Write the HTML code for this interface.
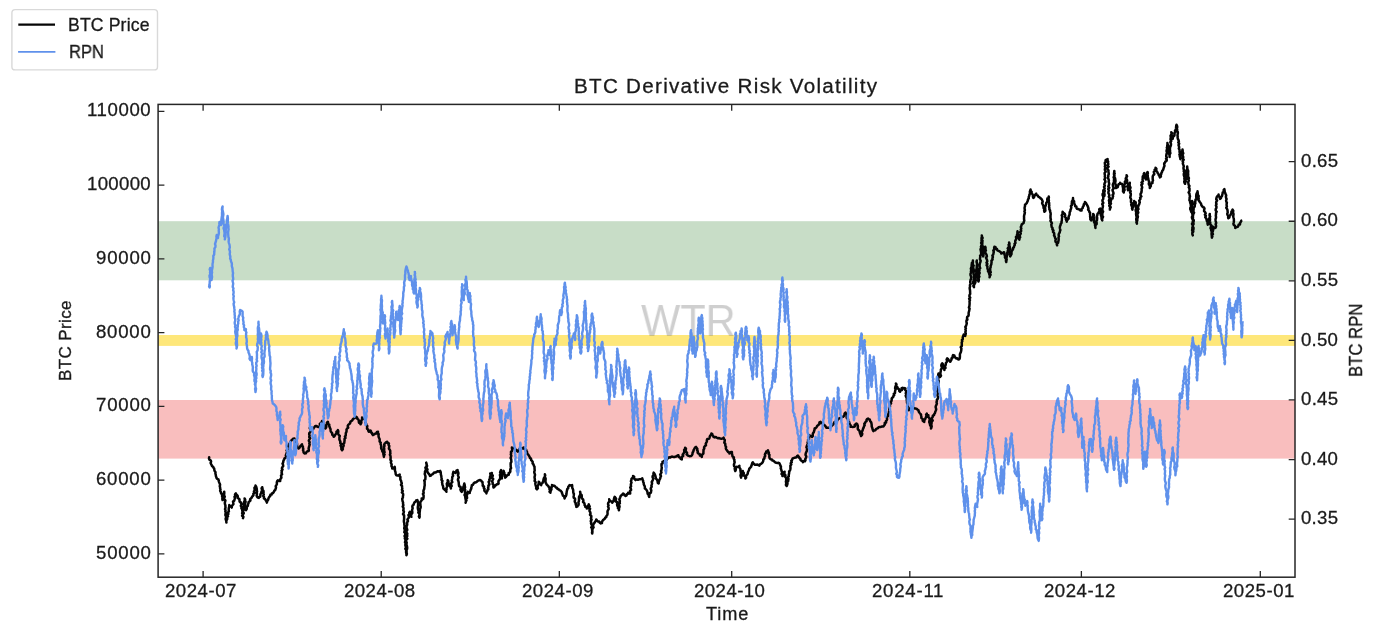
<!DOCTYPE html>
<html lang="en"><head><meta charset="utf-8"><title>BTC Derivative Risk Volatility</title>
<style>html,body{margin:0;padding:0;background:#fff;}body{width:1378px;height:628px;position:relative;overflow:hidden;font-family:"Liberation Sans",sans-serif;}
.t{position:absolute;white-space:nowrap;font-family:"Liberation Sans",sans-serif;will-change:transform;-webkit-text-stroke:0.3px currentColor;}
svg{position:absolute;left:0;top:0;}
</style></head><body>
<svg width="1378" height="628" viewBox="0 0 1378 628">
<rect x="158.1" y="221.2" width="1136.9" height="59.1" fill="#c8ddc7"/>
<rect x="158.1" y="335.0" width="1136.9" height="10.9" fill="#fee77a"/>
<rect x="158.1" y="400.0" width="1136.9" height="58.6" fill="#f9bebe"/>
</svg>
<div class="t" style="left:641.00px;top:294.29px;font-size:45.06px;line-height:54px;letter-spacing:0.000px;color:rgba(128,128,128,0.38);transform:scaleX(0.9230);transform-origin:0.00px 0;-webkit-text-stroke:0;">WTR</div>
<svg width="1378" height="628" viewBox="0 0 1378 628">
<polyline points="208.6,457.5 209.2,457.2 209.0,458.5 209.4,459.7 210.8,460.5 211.1,461.6 210.6,463.0 211.1,464.1 211.7,465.2 212.1,466.2 213.2,466.8 213.5,467.8 214.2,468.6 214.3,469.9 214.7,471.1 215.5,472.3 215.4,473.6 215.8,474.8 215.9,476.1 216.3,477.1 216.6,478.1 217.3,478.9 218.4,479.3 218.6,480.4 218.9,481.6 219.3,482.7 219.8,483.7 220.1,484.9 219.7,486.1 220.1,487.2 220.1,488.4 220.5,489.5 220.1,490.8 220.8,491.9 221.0,493.1 221.7,494.2 222.2,495.3 222.1,496.5 222.6,497.7 222.3,498.9 222.6,500.1 223.5,499.0 223.3,497.7 222.9,496.4 224.0,495.4 224.1,494.2 224.3,493.0 224.2,491.7 223.8,493.0 224.1,494.2 224.2,495.5 224.8,496.7 224.1,498.0 224.3,499.3 225.4,500.4 225.1,501.7 224.8,502.9 225.0,504.2 225.4,505.4 225.4,506.6 225.5,507.8 225.0,509.1 225.6,510.3 225.3,511.6 226.0,512.8 225.4,514.0 225.4,515.3 226.1,516.4 226.0,517.7 225.6,518.9 226.0,520.2 226.3,521.4 226.4,522.6 226.3,521.3 226.6,520.1 227.3,518.9 226.8,517.5 228.0,516.4 227.3,515.1 228.4,513.9 227.8,512.6 228.9,511.4 228.7,510.1 228.7,508.9 228.9,507.6 229.3,506.4 229.3,505.1 230.1,506.0 231.1,506.6 231.8,507.6 231.8,506.3 232.5,505.2 233.4,504.2 233.3,502.9 233.0,501.5 234.3,500.6 234.5,499.4 235.0,498.3 234.5,496.8 235.5,495.9 235.0,494.4 235.9,493.4 236.2,494.5 237.2,495.3 237.8,496.2 237.5,497.6 238.5,498.4 239.5,499.2 239.5,500.4 239.6,501.6 240.8,502.3 241.0,503.4 241.5,504.6 240.8,505.9 241.6,507.1 241.4,508.3 242.4,509.4 242.2,510.7 242.6,511.9 242.1,513.2 243.0,514.4 242.1,515.7 243.4,516.8 243.0,518.1 243.4,516.9 242.6,515.6 243.0,514.4 243.8,513.2 243.1,511.9 243.2,510.7 243.9,509.5 243.7,508.2 243.3,507.0 244.6,505.8 243.6,504.5 243.6,503.3 244.1,502.1 244.5,500.9 244.8,499.7 244.6,498.4 245.2,499.5 245.1,500.7 245.6,501.8 245.2,503.1 245.0,504.3 245.1,505.5 245.1,506.7 245.4,507.8 245.4,509.0 246.0,510.1 246.7,509.1 246.8,507.9 246.9,506.6 247.9,505.7 247.9,504.4 248.5,503.4 248.5,502.2 249.4,501.4 250.4,500.6 250.1,499.2 251.0,498.4 251.7,497.6 252.1,496.7 252.9,495.9 253.5,495.1 253.3,493.8 254.6,492.8 253.9,491.5 254.6,490.4 254.6,489.1 254.4,487.8 255.3,486.8 255.5,485.6 256.2,486.7 256.5,487.9 256.8,489.1 256.8,490.3 257.1,491.5 256.6,492.8 257.0,494.0 256.6,495.3 256.9,496.5 257.7,497.6 258.8,497.9 259.2,496.7 260.2,496.7 260.4,495.5 260.4,494.3 261.1,493.2 261.4,492.0 261.8,490.8 262.0,489.6 261.6,488.3 262.2,487.2 262.5,488.4 262.5,489.7 263.4,490.8 263.6,492.1 263.3,493.4 263.8,494.6 263.2,496.0 264.0,497.1 263.9,498.4 265.1,499.1 265.7,500.3 266.4,501.3 266.9,502.6 267.1,501.3 267.9,500.3 268.4,499.0 268.7,497.8 269.4,496.7 270.2,496.0 270.4,494.8 271.7,494.5 271.9,493.4 273.2,493.0 273.8,491.9 274.3,490.8 275.2,490.0 275.6,488.8 276.0,487.6 275.7,486.2 276.4,485.1 276.9,483.9 276.8,482.5 277.1,481.3 277.9,480.2 278.9,481.0 280.2,481.0 280.2,479.8 280.6,478.7 281.4,477.7 281.2,476.5 281.0,475.3 282.1,474.3 281.5,473.0 281.9,471.9 281.5,470.6 282.5,469.6 281.9,468.3 282.3,467.2 283.2,466.1 283.1,464.9 282.5,463.6 283.2,462.5 283.3,461.4 283.6,460.2 284.2,459.4 284.5,458.3 285.6,457.8 286.1,456.9 285.8,455.5 286.2,454.3 286.6,453.1 287.5,451.9 286.6,450.5 287.7,449.4 287.2,448.0 287.8,446.8 288.4,445.8 288.7,444.7 289.3,443.8 290.1,442.9 290.3,441.8 291.0,441.0 291.6,440.1 292.5,439.4 293.2,438.7 294.4,438.5 294.4,439.8 295.1,440.8 295.1,442.1 295.9,443.1 297.1,443.9 297.0,445.2 297.3,446.4 297.7,447.6 298.6,448.5 299.5,447.8 300.0,446.8 300.5,445.9 301.3,445.1 302.0,444.3 301.9,445.6 302.9,446.5 302.9,447.8 303.3,448.9 303.0,450.2 303.5,451.3 303.6,452.5 304.5,453.5 305.8,453.3 306.5,452.0 307.5,451.3 308.7,451.0 308.8,449.7 308.6,448.4 308.9,447.2 309.3,445.9 309.7,444.7 309.3,443.4 309.7,442.1 308.8,440.8 309.3,439.5 310.2,438.3 309.2,437.0 309.6,435.7 309.2,434.4 309.3,433.1 310.5,431.9 310.7,430.7 310.3,429.4 309.7,428.0 310.3,426.8 311.1,427.8 311.7,428.8 312.0,430.1 312.8,429.4 313.5,428.6 313.9,427.6 314.7,426.8 315.3,426.0 316.5,425.9 317.4,426.7 318.5,427.0 319.6,426.3 320.0,425.2 319.8,423.7 320.9,423.0 321.7,422.1 322.0,421.0 322.8,421.9 322.5,423.4 323.5,424.2 323.7,425.4 324.5,426.3 324.3,427.7 325.4,428.5 326.2,427.5 326.3,426.3 326.2,425.0 327.0,424.0 326.9,422.7 327.9,421.8 328.1,422.8 328.1,424.0 329.3,424.7 329.2,425.8 329.5,426.8 330.0,427.9 330.5,429.0 330.6,430.2 330.8,431.5 331.6,432.5 332.3,433.5 332.2,434.8 333.4,435.6 333.7,436.8 334.6,436.0 335.1,435.0 335.8,434.1 336.5,433.2 336.4,431.8 337.4,431.1 337.9,430.1 338.3,431.2 338.2,432.5 338.0,433.7 338.7,434.8 339.8,435.8 339.4,437.1 339.4,438.3 339.4,439.6 340.0,440.7 340.4,441.8 340.2,443.1 341.5,444.1 340.6,445.5 341.1,446.7 341.5,447.8 341.3,449.1 342.1,450.2 342.9,449.1 342.2,447.6 343.4,446.5 343.7,445.3 343.3,443.9 344.3,442.8 344.4,441.5 344.6,440.2 344.5,438.9 345.5,437.9 344.9,436.6 345.7,435.6 345.8,434.3 345.8,433.1 346.4,432.0 346.6,430.8 346.5,429.6 347.1,428.5 348.2,427.7 347.7,426.0 348.2,424.9 349.3,424.0 350.2,423.1 350.4,421.8 351.4,421.1 352.3,420.3 352.9,419.2 353.8,418.4 354.8,418.1 355.4,417.2 356.3,416.8 357.1,417.7 357.3,418.8 358.3,419.5 358.8,420.6 358.8,421.8 359.1,422.8 360.3,423.2 360.5,424.3 361.1,423.3 361.4,422.2 361.2,420.9 361.8,419.9 362.2,418.8 362.1,417.6 362.8,418.5 364.0,418.5 364.8,419.4 365.2,420.6 365.3,421.7 365.6,422.9 366.2,423.9 366.3,425.1 367.3,426.0 367.1,427.4 367.0,428.7 368.1,429.5 368.3,430.7 368.8,431.8 369.6,431.0 370.5,430.5 371.1,431.4 371.1,432.6 372.2,433.1 372.3,434.3 373.0,435.1 373.8,434.5 374.7,434.1 375.5,433.5 376.6,433.4 376.9,431.9 378.0,431.8 377.8,433.1 378.7,434.1 378.5,435.4 378.6,436.7 379.0,437.8 379.6,439.0 379.7,440.2 379.6,441.6 380.8,442.6 380.5,444.0 381.1,445.2 381.2,446.5 381.1,447.8 381.5,449.0 382.2,450.2 382.3,451.4 383.0,452.4 383.4,453.5 383.4,454.7 384.0,455.7 383.9,456.9 383.7,455.7 384.6,454.5 383.6,453.2 384.6,452.1 384.1,450.8 384.2,449.6 384.2,448.4 383.9,447.1 384.5,445.9 384.2,444.7 384.7,443.5 385.5,442.9 386.2,442.1 387.2,441.8 387.7,443.0 388.9,443.5 388.5,444.8 389.3,446.0 389.1,447.3 388.9,448.6 389.8,449.7 390.3,450.9 390.2,452.2 390.4,453.5 389.9,454.8 390.5,456.0 390.6,457.2 390.6,458.5 390.4,459.8 391.3,461.0 390.8,462.4 391.2,463.6 391.7,464.8 391.4,466.1 392.2,467.3 392.2,468.6 393.3,468.4 394.2,467.9 394.7,466.9 394.9,468.1 394.9,469.3 394.9,470.6 395.4,471.8 395.6,473.0 395.7,474.2 396.4,475.3 397.6,475.6 398.7,475.1 399.7,474.5 399.3,475.9 400.4,477.0 400.3,478.3 400.4,479.6 401.1,480.8 401.3,482.1 401.8,483.3 401.0,484.8 402.0,485.9 402.1,487.2 402.3,488.5 401.9,489.8 402.8,491.0 401.9,492.4 403.0,493.6 403.2,494.9 402.9,496.2 402.9,497.5 402.2,498.8 402.4,500.1 402.6,501.3 403.1,502.6 403.0,503.9 403.4,505.1 402.7,506.5 403.4,507.7 403.6,509.0 403.2,510.3 403.9,511.5 403.7,512.8 403.0,514.1 404.1,515.4 404.1,516.7 404.1,517.9 404.1,519.2 403.9,520.5 403.9,521.8 404.3,523.1 404.3,524.4 404.5,525.6 404.6,526.9 404.2,528.2 404.7,529.5 404.7,530.8 404.3,532.1 405.3,533.3 405.3,534.6 404.5,536.0 405.1,537.2 404.8,538.5 405.7,539.7 405.3,541.1 405.0,542.4 405.7,543.6 405.3,544.9 405.6,546.2 406.0,547.5 405.3,548.8 406.2,550.1 406.1,551.3 406.1,552.6 406.5,553.9 406.4,555.2 406.9,553.9 406.6,552.7 406.6,551.4 406.5,550.1 407.1,548.9 407.2,547.6 407.0,546.3 406.5,545.0 406.5,543.8 406.7,542.5 406.1,541.2 406.2,539.9 407.4,538.7 406.3,537.4 407.3,536.1 407.0,534.9 407.3,533.6 406.3,532.3 406.6,531.0 407.3,529.8 406.9,528.5 406.4,527.2 406.7,525.9 407.2,524.7 407.1,523.4 407.2,522.2 408.0,521.0 407.4,519.7 408.1,518.5 409.0,517.5 408.9,516.3 408.4,515.0 409.7,514.2 409.2,512.8 409.8,511.8 410.1,512.8 410.4,513.8 411.2,514.7 411.1,515.8 411.4,516.8 410.9,515.5 411.2,514.3 412.3,513.1 412.3,511.8 412.0,510.6 412.3,509.3 412.7,508.1 412.3,506.8 412.6,505.5 413.6,504.8 413.9,503.5 414.5,502.4 415.6,501.7 416.1,500.5 417.3,500.1 417.8,501.3 418.2,502.5 418.1,503.8 418.1,505.1 417.9,506.4 417.8,507.7 417.9,508.9 418.3,510.1 418.7,511.4 418.3,512.7 419.5,513.8 419.7,515.0 418.9,516.4 419.5,517.6 419.7,516.4 419.3,515.1 419.6,513.9 419.6,512.7 419.8,511.5 419.9,510.3 420.0,509.0 420.6,507.8 420.7,506.6 420.4,505.4 420.4,504.1 420.2,502.9 420.6,501.7 421.3,500.7 421.9,499.8 421.7,498.5 422.5,498.4 423.1,499.0 423.5,497.8 423.6,496.6 423.6,495.3 422.9,494.0 423.7,492.9 423.4,491.6 423.5,490.4 424.1,489.2 424.3,488.0 424.4,486.7 424.7,485.5 424.7,484.3 424.6,483.0 424.7,481.8 424.2,480.5 425.3,479.3 425.4,478.0 425.5,476.7 425.3,475.4 424.7,474.1 425.0,472.8 425.0,471.5 425.8,470.3 425.8,469.0 425.4,467.7 426.5,466.5 426.6,465.2 426.6,463.9 426.2,462.6 426.4,463.7 426.8,464.9 427.1,466.0 426.4,467.3 426.8,468.4 427.5,469.5 426.8,470.7 427.5,471.8 428.0,472.9 428.8,473.8 429.5,474.8 430.0,475.9 431.0,475.5 431.7,474.6 432.7,474.2 433.4,473.4 434.3,472.4 435.7,472.6 436.7,471.8 437.8,471.2 439.1,471.7 440.1,470.9 440.7,472.1 440.8,473.4 440.9,474.7 441.3,475.9 441.4,477.2 441.7,478.4 441.4,479.8 442.5,480.9 442.0,482.2 442.3,483.5 442.4,484.8 443.0,486.0 443.2,487.2 443.4,488.5 444.3,489.2 444.9,490.1 445.9,490.8 446.4,491.8 446.1,490.6 446.6,489.5 446.4,488.2 446.8,487.1 447.1,486.0 446.9,484.8 446.8,483.6 447.5,482.5 447.9,481.3 447.6,480.1 448.4,481.2 448.4,482.6 448.8,483.8 449.0,485.1 449.7,486.2 450.7,487.2 450.9,488.5 450.7,487.2 451.7,486.0 451.2,484.6 451.0,483.3 452.3,482.1 451.7,480.7 452.0,479.5 452.2,478.2 452.3,476.9 453.1,475.7 452.8,474.3 453.1,473.1 453.4,471.8 454.5,472.3 455.5,473.0 456.6,472.3 456.4,470.7 457.6,470.1 457.6,471.3 458.3,472.5 458.4,473.7 457.9,475.0 458.3,476.2 458.8,477.4 458.2,478.6 457.9,479.9 458.4,481.1 458.7,482.3 458.8,483.5 458.9,484.8 459.1,486.1 460.5,486.9 460.8,488.2 460.4,489.6 460.9,490.8 461.8,491.8 461.8,490.5 462.8,489.5 463.3,488.4 463.3,487.1 463.8,485.9 464.0,484.7 464.3,483.5 464.7,484.8 464.8,486.0 465.1,487.3 464.4,488.6 465.2,489.9 464.7,491.2 465.0,492.5 465.1,493.7 464.5,495.1 465.3,496.3 465.3,497.6 465.5,498.8 465.8,500.1 465.9,501.4 465.6,502.7 465.9,501.5 466.5,500.4 465.7,499.0 467.1,498.0 466.9,496.7 466.4,495.3 467.4,494.3 467.3,493.0 467.6,491.8 468.7,492.4 469.8,493.0 469.6,491.7 470.4,490.7 470.7,489.6 471.3,488.6 471.3,487.4 471.8,486.3 471.8,485.1 473.0,484.7 473.6,483.5 474.5,482.6 475.8,482.4 476.8,481.8 477.7,480.8 478.9,480.3 480.2,480.1 481.1,480.6 481.7,481.4 482.5,482.0 482.6,483.2 482.8,484.4 482.7,485.6 484.0,486.5 483.7,487.8 484.6,488.8 484.3,490.1 484.6,491.1 485.4,491.8 486.3,492.4 486.4,493.5 486.5,492.3 487.3,491.3 487.4,490.1 488.4,489.2 488.0,487.9 488.5,486.8 488.4,485.6 489.4,484.4 489.1,483.2 488.6,481.9 489.6,480.8 489.3,479.5 490.2,478.3 489.9,477.1 490.3,475.9 490.6,474.7 490.2,473.4 491.1,473.2 491.9,473.0 491.4,474.3 492.8,475.4 492.5,476.6 492.0,477.9 493.2,479.0 492.5,480.3 492.2,481.6 492.7,482.8 492.6,484.0 493.8,485.1 493.3,486.4 493.5,487.6 494.4,486.9 495.1,485.9 496.0,485.0 496.9,484.3 497.9,484.2 498.6,483.5 498.4,482.2 498.5,481.0 499.4,479.9 500.1,478.7 500.2,477.5 500.2,476.2 499.9,474.9 500.9,473.9 500.1,472.4 500.5,471.3 501.1,470.1 500.8,471.3 500.8,472.5 501.6,473.6 501.0,474.9 502.2,476.0 501.7,477.2 501.9,478.4 501.6,477.0 502.1,475.8 502.4,474.6 502.4,473.3 503.2,472.1 503.6,470.9 503.9,472.0 504.4,473.1 504.2,474.3 505.2,475.2 504.9,476.5 505.2,477.6 506.1,476.8 506.8,475.8 507.7,475.1 508.8,474.6 508.6,473.1 509.6,472.6 510.3,471.8 510.3,470.5 510.3,469.3 511.1,468.1 510.7,466.8 510.7,465.5 510.6,464.2 510.7,463.0 511.4,461.8 511.3,460.5 511.2,459.2 510.6,457.9 511.1,456.7 511.3,455.6 510.8,454.4 511.2,453.2 510.9,452.0 511.9,451.0 512.3,449.9 512.0,448.7 511.9,447.5 513.0,448.1 514.3,448.3 515.3,449.2 516.2,450.0 517.0,450.8 517.8,451.7 518.3,450.8 518.8,449.9 519.4,449.0 520.3,448.4 521.5,448.4 522.7,448.4 523.6,447.5 524.0,448.6 524.8,449.3 526.1,449.6 526.5,450.7 527.0,451.7 527.1,452.9 527.5,454.0 528.4,454.7 528.9,455.7 529.5,456.7 529.9,457.9 531.0,458.6 531.1,460.0 532.0,460.9 532.7,462.0 532.6,463.4 533.5,464.4 533.8,465.6 534.5,466.7 534.5,468.0 534.6,469.3 534.7,470.6 534.2,471.9 534.5,473.2 535.0,474.4 534.9,475.7 534.5,477.1 534.7,478.3 534.9,479.6 534.6,480.9 535.7,482.2 535.3,483.5 535.5,484.7 535.8,485.9 536.4,487.0 536.1,488.3 537.0,489.3 537.9,488.2 537.4,486.8 538.0,485.6 538.5,484.4 538.7,483.1 538.7,481.8 539.5,482.5 539.6,483.7 540.7,484.2 541.2,485.1 541.4,483.8 542.5,483.0 542.9,481.8 543.4,480.6 543.5,479.3 543.9,478.0 544.8,477.0 545.0,475.7 544.9,474.3 545.2,475.4 544.7,476.7 545.3,477.8 545.7,478.9 545.5,480.1 545.5,481.3 545.5,482.4 546.2,483.5 546.6,484.5 547.3,485.3 548.2,485.9 548.7,486.8 549.6,487.8 549.4,489.1 550.2,490.2 549.5,491.7 550.4,492.7 550.5,491.4 551.1,490.2 551.5,489.0 551.1,487.5 552.2,486.5 552.0,485.1 553.2,485.5 554.5,485.7 555.4,486.8 556.1,487.5 557.1,487.9 557.5,489.1 558.7,489.3 559.4,490.1 560.5,490.6 561.2,491.4 561.9,492.3 562.1,493.5 562.6,494.5 562.9,495.6 564.1,496.2 564.3,497.4 564.6,498.5 564.9,497.3 565.8,496.2 566.3,495.1 566.5,493.8 566.6,492.6 566.8,491.3 567.1,490.1 567.3,488.9 568.2,488.2 568.2,486.9 568.9,486.0 569.6,485.1 570.9,485.5 572.1,485.1 572.2,486.4 572.2,487.7 572.8,488.9 573.2,490.1 573.2,491.4 573.3,492.7 573.9,493.9 573.8,495.2 573.6,496.5 573.7,497.7 575.0,498.6 575.1,499.8 574.7,501.1 575.0,502.3 575.9,503.3 575.7,504.6 576.4,505.7 576.3,506.9 577.3,506.6 577.8,505.7 578.5,505.0 578.7,503.8 578.4,502.5 578.8,501.4 579.0,500.2 579.0,499.0 579.0,497.7 579.1,496.6 579.9,495.4 580.4,494.3 580.4,493.1 580.1,491.8 580.3,493.0 580.4,494.1 581.6,495.0 581.8,496.2 581.5,497.5 582.1,498.5 583.1,499.4 583.4,500.5 583.0,502.0 584.1,502.8 584.6,503.9 584.6,505.2 585.3,505.9 585.3,507.1 586.8,507.3 586.8,508.5 587.7,507.7 587.6,506.3 588.4,505.4 588.8,504.3 589.0,505.4 589.7,506.5 588.9,507.9 590.1,508.8 589.5,510.1 589.6,511.3 590.3,512.3 590.5,513.5 590.0,514.8 591.3,516.0 591.3,517.2 590.9,518.5 591.6,519.7 590.7,521.1 591.2,522.3 591.0,523.6 591.7,524.8 592.2,526.0 591.2,527.4 592.2,528.5 592.0,529.8 592.5,531.0 592.0,532.4 592.2,533.6 592.4,532.3 592.2,531.0 592.2,529.8 592.8,528.6 593.6,527.4 593.0,526.0 593.3,524.8 593.8,523.6 594.6,522.6 595.2,521.6 596.0,520.7 596.3,519.4 597.0,520.4 597.7,521.4 599.2,521.6 599.7,522.7 600.8,523.4 602.0,523.0 601.9,521.8 602.5,521.0 603.0,520.1 603.9,519.4 604.8,518.8 605.2,517.7 606.2,517.2 606.4,516.0 607.3,515.0 607.6,513.8 607.5,512.6 607.5,511.3 608.0,510.2 608.7,509.1 608.6,507.8 608.0,506.5 608.6,505.4 608.0,504.1 608.2,502.9 609.1,501.7 609.4,500.5 609.2,499.3 609.6,500.5 610.5,501.2 611.8,501.5 612.2,502.7 613.0,501.6 613.8,500.6 613.9,499.2 614.2,498.0 614.7,496.8 615.4,497.8 616.1,498.8 615.8,500.2 615.8,501.5 617.3,502.2 617.2,503.5 617.1,504.7 617.3,505.9 618.2,506.8 617.9,508.1 619.1,509.0 618.9,510.2 618.7,509.0 619.1,507.9 619.6,506.7 619.3,505.5 618.8,504.3 619.9,503.2 619.6,502.0 619.9,500.9 619.3,499.6 619.7,498.5 620.2,497.4 620.6,496.2 621.4,495.3 622.4,494.5 623.1,493.5 624.0,494.3 624.6,495.3 625.6,496.0 626.6,495.4 626.7,494.2 627.9,493.9 628.1,492.7 629.1,493.3 630.2,493.5 630.1,492.3 630.0,491.0 631.1,489.9 630.8,488.6 630.2,487.4 631.1,486.2 630.8,485.0 631.0,483.7 631.5,482.6 630.9,481.3 631.4,480.1 631.5,478.9 632.3,478.0 633.2,477.1 633.1,475.9 634.2,476.7 634.0,478.2 634.7,479.2 635.6,480.1 636.6,479.4 637.9,479.8 639.0,479.3 640.1,479.2 641.3,479.0 642.3,478.4 642.5,479.5 643.1,480.6 643.1,481.8 643.7,482.8 643.7,484.0 644.1,485.1 644.7,486.1 644.9,487.3 644.8,488.5 645.9,489.2 646.7,490.2 647.2,491.3 647.5,492.5 647.6,493.7 648.7,494.6 648.7,495.8 649.2,496.9 649.3,495.7 649.4,494.6 649.6,493.4 650.9,492.6 651.1,491.4 651.3,490.3 650.7,488.9 651.0,487.8 651.7,486.8 651.4,485.5 651.8,484.4 652.1,483.2 651.7,482.0 652.4,480.9 652.9,479.7 653.3,478.6 652.6,477.3 652.6,476.1 653.7,475.0 653.4,473.8 653.7,472.6 654.4,473.7 655.0,474.8 655.3,476.0 655.7,477.2 655.9,478.5 656.7,479.3 657.3,480.3 657.6,481.5 657.8,482.7 658.7,483.5 658.7,482.2 659.1,481.0 659.5,479.7 660.2,478.6 660.4,477.3 661.0,476.1 660.2,474.7 660.9,473.5 661.5,472.4 661.0,471.1 661.5,470.0 661.6,468.8 661.8,467.7 661.6,466.4 661.5,465.2 661.5,464.1 662.9,463.0 662.5,461.8 663.6,461.8 664.1,460.9 665.0,460.5 665.5,459.4 666.9,459.6 667.5,458.6 668.3,457.9 669.2,457.3 670.3,457.4 671.3,456.7 672.3,456.6 673.4,456.9 674.5,457.0 675.5,456.6 676.6,456.5 677.4,455.5 678.4,455.3 678.6,456.5 679.4,457.3 680.4,457.8 680.7,458.9 681.8,459.4 681.7,458.1 681.9,456.9 683.2,456.0 682.7,454.6 683.5,453.6 684.1,452.5 684.3,451.3 684.1,449.9 685.1,449.0 685.1,447.7 686.0,448.6 685.7,449.9 685.7,451.1 686.5,452.1 687.1,453.0 686.6,454.4 687.6,455.3 688.7,455.9 689.8,456.2 691.0,456.1 692.0,455.1 692.5,454.0 692.6,452.6 693.4,451.5 693.5,450.2 694.1,449.4 694.5,448.4 695.1,447.6 696.0,446.9 696.7,447.9 697.4,448.9 697.1,450.3 697.8,451.3 697.6,452.7 698.5,453.6 699.7,454.0 699.9,455.5 701.3,455.8 701.8,456.9 701.9,455.6 702.3,454.5 703.4,453.5 703.4,452.2 703.5,451.0 703.5,449.7 704.3,448.6 704.1,447.2 704.8,446.2 706.0,445.2 705.7,443.8 706.3,442.7 706.9,441.5 706.8,440.2 707.3,439.1 708.3,438.9 709.3,438.5 709.6,437.5 709.8,436.4 710.4,435.4 711.2,434.6 711.4,433.5 712.3,434.1 712.2,435.3 713.2,435.9 713.5,436.9 714.6,437.4 715.9,437.0 716.9,437.7 717.9,438.3 719.1,438.1 720.2,438.5 721.4,438.7 722.6,438.6 723.6,437.7 723.8,438.9 724.8,439.9 724.7,441.2 724.3,442.6 725.2,443.6 725.3,444.7 725.4,445.9 726.1,446.9 725.8,448.1 726.1,449.2 726.9,450.2 727.4,451.1 728.1,452.0 729.2,452.4 729.4,453.6 729.9,452.5 730.9,452.1 731.9,451.9 731.9,453.1 732.0,454.2 732.4,455.3 732.5,456.5 733.9,457.3 733.6,458.6 734.4,459.8 734.3,461.0 734.7,462.2 734.2,463.6 733.9,464.9 734.1,466.1 735.3,467.2 734.7,468.5 734.9,469.8 735.3,471.0 735.8,470.0 735.8,468.9 735.9,467.7 736.6,466.8 737.7,466.9 738.7,466.6 739.4,465.7 739.3,466.9 739.7,468.1 740.5,469.2 740.4,470.4 740.6,471.6 740.8,472.8 741.0,474.0 740.5,475.3 740.7,476.4 741.1,477.6 741.0,476.4 742.2,475.5 741.3,474.1 742.8,473.3 742.6,472.1 742.8,471.0 743.0,472.1 743.8,473.1 743.6,474.3 743.8,475.4 744.9,476.2 745.4,477.3 745.3,478.5 746.1,477.7 746.0,476.4 746.3,475.3 747.3,474.5 747.8,473.5 747.9,472.2 748.5,471.0 749.0,469.9 749.3,468.6 750.3,467.6 751.2,466.7 751.4,465.5 752.0,464.5 752.1,463.2 752.8,462.3 753.4,463.2 754.1,464.0 754.9,464.7 756.1,464.8 757.4,464.5 758.4,465.1 759.5,465.6 759.9,464.3 761.1,463.8 762.1,463.0 762.8,462.0 763.3,460.8 763.3,459.5 764.4,458.5 764.4,457.2 765.2,456.1 764.9,454.7 765.3,453.5 766.1,452.8 766.2,451.5 767.4,451.1 768.0,450.2 768.1,451.4 768.9,452.5 768.6,453.8 769.5,454.8 769.3,456.1 769.4,457.3 769.8,458.5 770.7,459.2 771.9,459.5 772.5,460.6 773.6,460.8 774.4,461.6 775.2,462.4 776.2,462.8 777.3,462.9 778.5,462.8 779.5,463.4 780.0,464.5 780.4,465.7 781.0,466.8 780.7,468.2 781.2,469.3 781.4,470.4 781.8,471.5 782.4,472.5 781.5,473.9 782.8,474.8 782.4,476.0 782.5,474.7 783.3,473.8 784.4,473.0 784.6,471.8 784.2,473.1 784.6,474.2 785.5,475.3 784.9,476.6 786.1,477.6 786.1,478.8 786.3,480.0 785.9,481.3 786.1,482.5 786.2,483.7 785.9,484.9 786.7,486.0 787.2,484.8 787.5,483.6 786.9,482.3 788.1,481.3 788.3,480.0 788.5,478.8 787.7,477.4 788.8,476.4 788.7,475.1 789.0,473.9 789.2,472.7 789.1,471.5 790.0,470.4 790.3,469.3 790.5,468.1 790.4,466.8 790.4,465.6 791.3,464.5 790.7,463.2 791.8,462.2 791.2,460.8 792.1,459.8 792.5,458.6 793.4,458.1 794.6,457.8 795.5,457.4 796.6,457.2 797.1,456.1 797.9,455.6 798.4,456.5 799.1,457.2 799.4,458.1 800.4,458.6 800.5,459.8 801.3,460.6 802.5,461.2 802.9,462.2 803.4,461.1 804.9,461.3 805.5,460.2 805.3,458.9 806.1,457.6 806.3,456.4 805.5,455.0 805.7,453.7 806.1,452.4 806.8,451.2 806.9,449.9 807.2,448.6 806.4,447.3 806.8,446.0 807.3,444.8 807.9,443.7 807.6,442.4 808.2,441.2 808.0,439.9 809.1,438.9 808.9,437.6 809.3,436.4 809.6,435.2 810.3,436.0 811.3,436.2 812.0,437.0 812.8,435.9 812.7,434.6 813.0,433.3 813.8,432.2 814.1,431.0 814.5,429.8 814.6,428.5 815.8,428.0 816.6,427.1 817.1,425.9 818.0,425.2 818.8,424.5 819.6,423.8 819.4,422.3 820.5,421.8 821.2,422.7 822.1,423.3 823.0,424.0 823.9,424.8 825.0,425.5 825.7,426.6 826.3,427.7 827.6,427.8 828.9,427.7 830.0,427.0 831.2,426.6 831.8,425.6 832.7,424.9 833.5,424.1 834.0,423.0 834.5,421.9 835.8,421.7 836.8,421.1 837.5,420.2 837.9,419.0 838.9,418.5 840.0,418.3 840.9,417.5 842.0,417.1 843.1,416.8 844.0,415.9 844.5,414.8 844.6,413.4 845.6,412.6 845.8,413.7 846.9,414.6 847.0,415.7 846.6,417.1 846.9,418.2 848.0,419.0 848.1,420.2 848.2,421.4 849.3,422.3 849.4,423.5 850.0,424.5 850.7,425.5 850.6,426.8 851.7,426.7 852.8,426.9 853.9,426.8 854.9,426.3 854.7,424.8 855.6,424.2 856.4,423.5 857.4,424.4 857.6,425.6 857.9,426.7 857.7,428.1 857.9,429.3 858.9,430.2 859.7,431.2 859.8,432.5 860.2,433.7 860.7,434.8 861.1,436.0 862.0,434.9 862.3,433.7 861.5,432.1 862.3,431.0 862.8,429.8 863.1,428.5 863.7,427.5 864.0,426.3 864.7,425.3 864.3,423.9 865.1,422.9 865.6,421.8 866.6,421.2 866.5,419.9 867.1,419.1 868.1,418.5 868.6,419.2 869.7,419.4 870.0,420.3 870.3,421.3 871.1,422.1 871.4,423.2 871.6,424.2 871.7,425.3 871.7,426.6 872.2,427.7 872.5,428.8 872.8,430.0 873.3,431.1 874.1,430.4 875.4,430.3 875.9,429.3 876.7,428.6 877.8,428.3 878.6,427.2 879.7,427.0 880.9,426.9 882.0,426.5 883.4,426.4 884.2,425.3 884.9,424.4 884.7,423.0 886.1,422.5 885.9,421.1 886.7,420.3 887.1,419.2 886.9,418.0 887.0,416.8 888.2,415.9 888.1,414.7 888.5,413.6 888.9,412.5 889.0,411.4 889.2,410.2 889.3,409.0 889.5,407.8 890.0,406.7 889.9,405.5 890.1,404.3 891.1,403.3 890.7,402.0 891.5,400.9 891.7,399.7 891.7,398.5 892.3,397.6 893.2,397.1 893.4,395.9 894.2,395.2 893.7,393.9 895.0,392.9 895.0,391.7 895.2,390.6 895.6,389.4 895.1,388.2 895.3,387.0 895.7,385.9 896.2,384.7 895.9,383.5 896.5,384.4 896.3,385.6 896.4,386.7 897.6,387.4 897.6,388.5 898.7,388.9 899.2,389.9 899.3,391.1 900.1,391.8 900.4,390.6 901.8,390.1 901.5,388.4 902.6,387.7 903.4,388.5 904.5,388.1 905.4,388.5 905.0,389.7 905.9,390.8 906.3,391.9 905.7,393.2 906.4,394.3 905.7,395.6 906.0,396.7 906.8,397.8 906.7,399.0 906.8,400.2 907.0,401.5 907.0,402.8 907.9,403.9 907.7,405.2 908.0,406.5 908.2,407.7 908.5,409.0 908.8,410.2 909.5,409.3 910.3,408.5 911.1,407.7 912.0,407.0 912.7,408.1 914.1,408.1 915.1,408.6 916.5,408.7 917.4,409.5 918.5,410.2 918.7,411.5 919.4,412.6 920.1,413.6 921.0,414.4 921.0,415.6 921.4,416.6 921.3,417.8 922.1,418.6 922.9,419.3 922.7,420.6 923.4,421.3 924.3,421.9 924.1,420.5 925.0,419.5 925.4,418.4 925.9,417.2 926.6,416.1 926.1,414.7 926.8,413.6 926.9,414.8 928.4,415.3 927.9,416.8 929.1,417.5 929.3,418.6 930.1,419.7 929.3,421.2 929.3,422.5 929.9,423.6 930.0,424.9 930.7,426.1 931.1,427.3 931.0,428.6 931.4,427.5 931.7,426.3 931.2,425.0 931.5,423.9 931.6,422.7 931.7,421.5 932.7,420.5 931.7,419.1 931.9,418.0 932.7,416.9 932.8,415.7 934.0,415.1 934.3,413.9 935.0,413.0 935.2,411.9 935.7,410.8 936.2,409.6 936.0,408.3 935.6,407.0 935.9,405.8 936.5,404.7 936.9,403.5 936.5,402.2 936.9,401.0 936.9,399.7 937.9,398.6 938.0,397.3 937.7,396.0 937.5,394.7 937.7,393.5 937.6,392.2 937.2,391.0 937.8,389.7 937.4,388.5 938.0,387.3 938.4,386.0 937.9,384.7 938.4,383.5 938.6,382.3 938.7,381.0 938.2,379.7 938.0,378.5 938.9,377.3 938.4,376.0 938.2,374.7 938.5,373.5 938.9,374.7 939.2,375.9 940.2,376.8 941.0,375.7 940.4,374.3 940.4,373.1 940.6,371.9 940.8,370.7 940.9,369.4 942.0,368.4 941.8,367.1 941.3,365.8 941.5,364.5 942.2,363.4 943.0,364.4 942.4,365.8 943.5,366.7 943.3,368.0 944.4,368.9 944.4,370.1 944.3,368.8 945.5,367.9 944.7,366.5 945.5,365.4 945.8,364.3 945.9,363.0 946.7,362.0 947.1,360.8 946.6,359.5 947.2,358.4 948.1,359.1 948.7,360.1 949.5,360.9 950.2,361.8 950.8,360.8 951.5,359.7 951.5,358.4 952.7,357.6 952.6,356.2 953.1,355.1 954.3,355.5 954.7,356.7 955.3,357.6 956.1,358.4 957.3,358.3 958.2,359.4 959.4,359.2 959.8,358.0 959.9,356.8 959.9,355.5 959.9,354.3 960.4,353.1 960.9,352.0 961.2,350.8 961.3,349.6 961.4,348.4 960.7,347.1 961.8,346.0 961.8,344.8 961.8,343.6 961.7,342.4 962.3,341.2 961.9,340.0 962.8,339.1 962.7,337.8 962.9,336.7 963.4,335.6 963.7,334.5 964.2,335.5 965.2,336.0 965.5,334.7 965.8,333.4 965.3,332.1 965.8,330.8 965.4,329.5 965.9,328.3 965.3,326.9 966.1,325.7 966.5,324.4 966.8,323.1 966.4,321.8 966.5,320.5 967.4,319.6 967.0,318.1 967.2,316.9 968.3,316.0 968.7,314.9 968.6,313.6 968.7,312.4 969.1,311.2 969.3,310.0 969.6,308.7 968.9,307.5 969.4,306.2 969.5,305.0 969.6,303.8 969.6,302.5 969.5,301.3 970.0,300.1 969.1,298.8 970.2,297.6 969.4,296.3 969.5,295.1 970.2,293.9 970.1,292.6 970.1,291.3 970.0,290.1 969.7,288.8 969.7,287.6 970.1,286.3 969.9,285.1 970.7,283.9 970.2,282.6 970.4,281.3 970.5,280.1 971.0,278.9 971.2,277.6 971.0,276.4 970.5,275.1 970.5,273.8 971.1,272.6 970.9,271.3 971.4,270.1 970.8,268.8 971.2,267.6 971.7,266.5 971.6,265.2 971.8,264.0 971.9,262.8 972.9,261.8 972.9,260.6 972.9,261.9 972.9,263.1 972.6,264.4 973.7,265.6 973.1,266.9 973.4,268.2 973.6,269.4 972.9,270.7 973.7,271.9 973.5,273.2 973.6,274.5 974.0,275.7 973.8,277.0 974.3,278.2 973.7,279.5 973.6,280.8 973.1,282.1 973.2,283.3 974.1,284.6 973.3,285.9 974.0,287.1 973.8,285.8 974.2,284.6 974.9,283.4 975.4,282.3 975.5,281.0 975.7,279.7 975.1,278.4 975.6,277.2 975.8,275.9 975.8,274.6 976.3,273.4 976.4,272.1 975.6,270.8 976.2,269.5 976.6,268.3 976.8,267.0 976.7,265.7 977.2,264.5 976.9,263.2 976.6,261.9 976.8,260.6 976.5,261.9 976.9,263.1 977.0,264.3 977.1,265.5 977.0,266.8 977.1,268.0 977.6,269.2 977.2,270.5 977.8,271.7 977.5,272.9 977.4,274.2 978.0,275.4 978.6,276.5 977.7,277.9 978.7,279.0 978.8,280.2 978.5,281.5 978.0,280.2 978.6,279.1 978.7,277.8 979.4,276.7 978.7,275.4 979.1,274.2 979.7,273.0 978.8,271.7 979.5,270.5 979.2,269.3 980.2,268.1 979.7,266.8 979.6,265.6 979.7,264.4 979.9,263.2 980.4,262.0 980.7,260.8 980.0,259.4 980.0,258.2 980.3,256.9 980.1,255.7 981.1,254.4 981.2,253.2 981.0,251.9 980.8,250.6 980.5,249.3 981.4,248.1 980.9,246.8 981.3,245.6 982.0,244.4 981.1,243.1 981.7,241.8 981.5,240.5 981.6,239.3 981.5,238.0 982.0,236.8 981.8,235.5 981.9,236.7 982.6,237.9 981.6,239.2 982.5,240.4 982.4,241.6 982.3,242.9 982.3,244.1 982.1,245.4 983.0,246.5 982.8,247.8 982.5,249.0 982.8,250.3 983.2,251.5 982.6,252.7 982.4,254.0 982.9,255.2 983.2,256.4 983.5,255.2 983.3,253.9 983.9,252.8 984.6,251.6 984.2,250.3 984.6,249.1 984.9,247.9 985.2,246.7 985.6,247.9 985.3,249.2 985.9,250.4 985.2,251.7 985.4,252.9 986.2,254.1 986.7,255.2 986.9,256.5 986.0,257.8 986.6,259.0 987.1,260.2 987.3,261.4 986.5,262.7 987.4,263.9 986.6,265.2 987.5,266.4 987.4,267.6 987.5,268.8 988.1,270.0 988.0,271.3 989.0,272.3 989.1,273.6 989.5,274.8 989.9,276.0 989.6,277.3 989.8,276.0 990.6,274.8 989.5,273.4 990.8,272.3 990.2,270.9 990.2,269.6 990.2,268.3 990.7,267.1 990.6,265.8 991.3,264.5 991.4,263.3 991.6,262.0 991.4,260.6 992.6,259.5 992.4,258.2 992.9,257.0 992.4,255.6 993.3,254.4 993.5,253.1 993.8,251.9 993.3,250.5 994.5,249.4 994.1,248.0 994.4,246.7 995.6,247.1 995.7,248.7 997.0,249.0 997.3,250.3 998.5,250.8 999.7,251.4 1000.8,252.2 1001.3,253.5 1002.2,253.1 1003.2,252.7 1004.1,252.2 1004.2,253.5 1004.5,254.7 1005.1,255.8 1004.9,257.2 1005.5,258.3 1006.2,259.4 1005.9,260.8 1006.3,262.0 1006.3,260.8 1006.7,259.6 1006.4,258.3 1006.7,257.1 1006.9,255.9 1007.6,254.7 1006.9,253.4 1007.6,252.2 1007.7,251.0 1008.5,249.9 1007.7,248.5 1008.4,247.4 1009.0,246.2 1008.6,244.9 1009.5,243.8 1009.1,242.5 1009.5,243.7 1009.3,245.0 1009.7,246.3 1009.8,247.5 1010.2,248.8 1009.3,250.1 1009.6,251.4 1009.5,252.6 1010.0,253.9 1010.5,255.1 1010.2,256.4 1010.8,255.3 1011.5,254.2 1011.5,252.8 1011.5,251.5 1012.2,250.4 1013.0,249.3 1013.0,248.0 1013.9,247.2 1014.1,246.1 1014.8,245.1 1014.5,243.7 1015.5,243.0 1015.2,241.8 1015.3,240.6 1016.0,239.5 1016.3,238.3 1015.9,237.0 1017.1,236.1 1017.0,234.8 1017.4,233.7 1017.9,232.6 1017.5,231.3 1017.4,232.6 1017.7,233.8 1018.1,234.9 1018.6,236.1 1018.5,237.4 1018.8,238.6 1019.4,239.7 1019.3,238.4 1020.2,237.2 1019.5,235.8 1020.2,234.7 1020.8,233.5 1020.1,232.1 1021.2,230.9 1020.8,229.6 1021.3,228.4 1020.8,227.0 1021.4,225.8 1021.7,224.5 1022.6,223.7 1023.6,223.0 1023.8,221.7 1024.3,220.5 1024.0,219.1 1024.1,217.8 1024.0,216.5 1024.2,215.2 1024.6,214.0 1024.9,212.7 1024.4,211.4 1024.9,210.1 1024.6,208.8 1024.6,207.5 1025.0,206.2 1025.0,204.8 1026.0,203.9 1026.8,203.0 1027.3,201.8 1027.8,200.7 1028.0,199.4 1028.8,198.3 1028.7,197.0 1029.3,195.8 1029.4,194.5 1030.2,193.4 1029.8,191.9 1030.2,190.7 1030.6,189.5 1030.7,190.8 1031.7,191.8 1031.4,193.2 1032.4,194.2 1033.0,195.4 1032.9,196.7 1033.4,197.9 1034.2,196.9 1034.6,195.7 1035.3,194.6 1036.2,193.7 1036.4,194.9 1037.6,195.4 1038.1,196.4 1039.0,197.0 1040.0,197.7 1040.8,198.6 1041.7,199.3 1042.3,200.5 1042.7,201.7 1042.1,203.1 1042.6,204.4 1043.3,205.5 1043.5,206.8 1043.6,208.1 1044.5,209.2 1044.1,210.6 1044.5,211.8 1045.4,210.7 1045.2,209.3 1045.2,208.0 1045.0,206.7 1045.8,205.5 1046.1,204.3 1046.2,203.0 1046.9,202.0 1047.5,201.0 1047.2,199.6 1047.4,198.5 1048.9,197.8 1048.7,196.5 1048.8,197.8 1048.4,199.1 1048.9,200.3 1048.6,201.6 1049.2,202.9 1049.1,204.2 1049.3,205.4 1049.0,206.8 1049.4,208.0 1049.3,209.3 1050.1,210.5 1050.1,211.8 1050.6,213.0 1050.7,214.3 1050.5,215.6 1050.5,216.9 1050.5,218.2 1050.9,219.4 1050.4,220.8 1051.2,222.0 1051.9,223.2 1051.3,224.5 1051.5,225.8 1051.7,227.1 1052.6,228.1 1052.4,229.5 1053.5,230.4 1053.0,231.9 1054.0,232.9 1054.3,234.1 1054.0,235.5 1054.8,236.6 1055.0,237.9 1055.9,239.0 1055.4,240.4 1055.5,241.7 1056.9,242.7 1056.7,244.1 1057.1,245.3 1056.9,243.9 1058.1,242.9 1058.3,241.6 1058.6,240.3 1058.7,239.0 1058.5,237.6 1059.0,236.4 1058.6,235.0 1058.9,233.7 1059.7,232.6 1059.9,231.3 1060.4,230.1 1060.0,228.8 1059.8,227.6 1060.0,226.3 1060.5,225.2 1060.7,224.0 1061.6,222.8 1061.5,221.6 1061.9,220.4 1061.9,219.2 1062.0,217.9 1062.3,216.7 1061.7,215.4 1062.6,214.3 1062.5,213.0 1062.6,211.8 1063.2,212.7 1064.1,213.3 1064.8,214.0 1065.2,215.1 1064.9,216.3 1065.3,217.4 1066.3,218.2 1065.8,219.5 1066.5,220.5 1066.8,221.6 1066.7,220.2 1068.1,219.4 1068.7,218.3 1068.6,216.9 1069.0,215.7 1069.6,214.6 1069.6,213.3 1069.7,212.1 1070.4,211.0 1070.5,209.8 1071.0,208.7 1071.3,207.5 1070.9,206.2 1071.9,205.1 1071.7,203.9 1071.9,202.6 1071.9,201.4 1072.7,200.3 1073.0,199.1 1073.0,197.9 1073.0,199.2 1073.2,200.4 1074.1,201.4 1074.2,202.7 1074.4,203.9 1075.0,205.0 1075.2,206.2 1076.4,206.4 1076.4,207.8 1076.9,208.7 1078.0,209.0 1079.2,209.4 1080.2,210.4 1081.6,210.4 1081.5,209.0 1082.6,208.1 1082.9,206.8 1083.7,205.7 1083.8,204.4 1084.7,203.4 1084.9,202.1 1085.9,202.9 1086.5,204.0 1087.1,205.1 1087.7,206.2 1088.1,207.3 1088.5,208.4 1088.1,209.7 1089.0,210.7 1089.3,211.8 1090.1,212.7 1090.0,214.0 1090.2,215.3 1090.1,216.6 1090.4,217.9 1090.3,219.2 1091.1,220.4 1091.6,219.4 1091.6,218.2 1092.6,217.3 1093.1,216.3 1093.4,215.2 1093.2,213.9 1093.9,215.1 1093.4,216.5 1094.2,217.6 1094.3,218.9 1093.8,220.3 1093.9,221.6 1094.5,222.8 1095.0,224.0 1095.0,225.4 1095.4,226.6 1095.4,227.9 1095.3,226.6 1095.4,225.3 1096.6,224.2 1096.7,222.9 1095.9,221.5 1097.0,220.3 1097.1,219.0 1097.2,217.8 1096.8,216.4 1097.3,215.2 1097.5,213.9 1098.4,213.0 1098.9,211.9 1099.7,210.9 1099.2,209.3 1100.3,208.5 1100.7,209.7 1100.9,210.9 1101.0,212.1 1100.5,213.4 1100.7,214.6 1101.1,215.7 1101.5,216.9 1101.5,218.1 1101.7,219.3 1102.3,220.4 1102.0,219.1 1102.5,217.9 1103.1,216.7 1102.0,215.4 1102.4,214.1 1102.4,212.9 1103.1,211.6 1102.6,210.4 1102.2,209.1 1102.6,207.9 1102.9,206.6 1102.9,205.4 1102.2,204.1 1103.3,202.9 1102.6,201.6 1102.4,200.3 1103.2,199.1 1103.3,197.8 1103.2,196.6 1102.6,195.3 1102.6,194.0 1103.5,192.8 1103.3,191.6 1103.3,190.3 1104.1,191.3 1103.6,192.6 1104.4,193.6 1104.1,194.9 1104.3,196.0 1104.6,194.7 1104.0,193.4 1104.3,192.2 1104.8,190.9 1104.2,189.6 1104.7,188.3 1104.0,187.0 1104.9,185.8 1104.3,184.5 1104.6,183.2 1105.4,182.0 1105.2,180.7 1104.4,179.4 1105.3,178.1 1104.8,176.8 1105.0,175.5 1104.7,174.3 1104.6,173.0 1105.7,171.7 1105.0,170.4 1104.8,169.1 1105.6,167.9 1104.8,166.6 1105.2,165.3 1104.9,164.0 1104.8,162.7 1106.1,161.5 1105.5,160.2 1106.5,159.6 1107.6,159.1 1107.5,160.4 1108.2,161.6 1107.9,162.8 1108.4,164.1 1107.4,165.4 1108.6,166.6 1107.4,167.9 1107.4,169.1 1108.5,170.3 1108.4,171.6 1108.6,172.8 1108.8,174.1 1108.3,175.3 1108.3,176.6 1107.9,177.8 1108.5,179.1 1108.9,180.3 1108.6,181.6 1109.0,182.8 1109.2,184.0 1108.8,185.3 1108.3,186.6 1109.3,187.8 1108.2,189.1 1108.9,190.3 1108.5,191.6 1108.4,192.9 1109.0,194.2 1109.4,195.4 1108.8,196.7 1109.7,198.0 1109.3,199.3 1108.9,200.6 1109.4,201.9 1109.2,203.2 1110.0,204.4 1109.2,205.8 1110.1,207.0 1110.0,208.3 1109.8,209.6 1110.1,208.4 1110.7,207.2 1109.8,205.9 1110.2,204.7 1111.0,203.6 1110.4,202.3 1110.8,201.1 1111.1,199.9 1111.2,198.9 1112.6,198.6 1112.6,197.5 1113.1,196.3 1112.6,195.0 1113.5,193.7 1113.4,192.5 1112.8,191.2 1112.5,189.9 1113.4,188.7 1113.4,187.4 1113.0,186.1 1112.8,184.8 1113.2,183.5 1114.1,182.3 1113.9,181.0 1114.0,179.8 1114.1,178.5 1113.6,177.2 1114.5,176.0 1114.0,174.7 1114.7,173.5 1114.4,172.2 1114.3,170.9 1114.2,172.1 1114.0,173.4 1114.0,174.6 1114.5,175.8 1114.3,177.1 1115.1,178.3 1115.3,179.5 1115.5,180.7 1115.4,181.9 1114.9,183.2 1115.7,184.4 1115.9,185.6 1116.2,186.8 1115.8,188.1 1116.7,187.6 1117.7,187.1 1118.0,186.0 1118.4,185.1 1118.7,184.1 1119.9,183.7 1120.1,182.7 1120.9,183.7 1122.2,184.0 1122.5,185.2 1122.7,186.4 1123.0,187.6 1123.1,188.8 1123.1,190.0 1123.0,191.3 1123.8,192.4 1123.7,191.2 1124.6,190.1 1124.3,188.9 1124.2,187.8 1124.8,186.7 1124.1,185.4 1124.6,184.3 1125.2,183.2 1124.8,182.0 1125.5,181.0 1125.9,179.9 1125.7,178.6 1126.2,177.5 1126.7,176.4 1126.6,175.2 1127.1,176.4 1126.2,177.8 1126.6,179.0 1127.1,180.2 1127.1,181.5 1126.8,182.8 1128.1,183.9 1127.9,185.2 1127.2,186.6 1128.4,187.7 1127.7,189.1 1128.1,190.3 1128.1,189.0 1128.3,187.7 1128.4,186.4 1129.0,185.2 1129.3,183.9 1129.8,182.7 1129.7,183.9 1129.5,185.2 1129.9,186.4 1130.5,187.6 1130.1,188.8 1129.7,190.1 1130.7,191.2 1130.1,192.5 1130.8,193.7 1130.8,194.9 1130.6,196.1 1130.2,197.4 1130.7,198.6 1131.2,199.8 1130.9,201.0 1131.0,202.2 1131.9,203.4 1131.2,204.7 1131.7,205.9 1132.2,207.1 1132.0,208.4 1132.4,209.6 1132.5,208.3 1132.9,207.1 1133.2,205.9 1133.8,204.8 1133.2,203.4 1134.4,202.3 1134.1,201.0 1134.3,202.0 1135.5,202.1 1135.8,203.0 1135.3,204.3 1136.2,205.6 1135.6,206.9 1136.4,208.1 1135.7,209.5 1135.7,210.8 1136.2,212.0 1136.1,213.3 1136.1,214.6 1136.3,215.9 1136.8,217.2 1136.3,218.5 1136.2,219.8 1136.7,221.0 1136.4,222.3 1136.9,223.6 1136.8,222.4 1137.0,221.2 1137.4,220.0 1137.1,218.7 1137.8,217.5 1137.9,216.3 1137.2,215.0 1137.6,213.8 1138.3,212.7 1137.9,211.4 1137.4,210.1 1138.5,209.0 1137.8,207.7 1138.3,206.5 1138.4,205.3 1139.2,204.4 1139.4,203.3 1139.8,202.2 1139.2,200.8 1139.8,199.9 1140.5,198.9 1140.1,197.6 1141.4,196.4 1140.5,195.1 1140.6,193.8 1141.4,192.6 1141.6,191.3 1141.7,190.1 1141.6,188.8 1142.2,187.6 1141.9,186.3 1141.3,184.9 1142.5,183.8 1141.5,182.4 1143.0,181.3 1142.5,179.9 1142.7,178.7 1142.7,177.4 1142.8,176.2 1143.9,175.4 1143.7,174.1 1144.2,173.1 1144.4,174.2 1145.3,175.1 1144.8,176.4 1144.9,177.5 1145.5,178.5 1145.9,179.5 1146.6,178.3 1146.6,177.0 1146.8,175.8 1147.5,174.6 1146.9,173.2 1147.6,172.0 1147.9,173.2 1147.5,174.5 1147.8,175.8 1147.7,177.0 1148.2,178.2 1148.4,179.5 1148.6,180.7 1149.3,181.9 1148.8,183.2 1148.9,184.4 1149.8,185.6 1149.8,186.8 1149.8,188.1 1150.2,187.0 1150.9,186.1 1150.6,184.7 1151.1,183.6 1152.5,183.0 1152.4,181.7 1153.0,180.5 1152.7,179.2 1152.7,177.9 1152.7,176.6 1153.1,175.4 1154.3,174.3 1154.0,173.0 1153.8,171.8 1155.1,171.0 1154.6,169.7 1155.7,168.9 1155.6,167.7 1156.4,168.7 1156.2,170.0 1156.5,171.1 1157.3,172.0 1157.7,173.1 1158.5,174.0 1158.8,175.2 1159.6,176.2 1159.9,177.4 1160.9,176.5 1160.7,175.2 1161.2,174.2 1161.4,173.0 1162.0,172.0 1162.2,170.9 1163.1,170.0 1163.4,168.9 1163.7,167.8 1164.1,166.8 1164.5,165.8 1164.2,164.5 1164.2,163.3 1165.0,162.7 1165.3,161.7 1166.3,161.2 1166.8,160.0 1166.0,158.7 1166.9,157.6 1166.2,156.3 1166.3,155.1 1166.5,153.9 1167.3,152.7 1166.6,151.5 1166.6,150.3 1167.4,149.1 1166.8,147.8 1167.3,146.6 1167.2,145.4 1167.6,144.2 1167.4,143.0 1167.6,144.3 1168.2,145.5 1168.5,146.7 1167.8,148.1 1168.8,149.3 1168.9,150.5 1168.7,151.9 1168.4,153.2 1169.4,154.3 1169.6,155.6 1169.6,156.9 1169.5,155.7 1169.7,154.4 1170.4,153.2 1170.0,152.0 1170.1,150.7 1169.9,149.5 1170.0,148.2 1170.2,147.0 1170.8,145.8 1171.0,144.6 1170.9,143.3 1170.3,142.1 1171.3,140.9 1170.5,139.6 1170.6,138.4 1170.9,137.1 1170.5,135.9 1171.2,134.7 1171.8,133.5 1171.3,132.2 1172.0,133.2 1171.2,134.5 1172.2,135.4 1172.6,136.5 1172.5,137.6 1172.8,138.7 1172.7,137.4 1173.4,136.5 1174.4,135.6 1174.5,134.4 1174.5,133.1 1175.3,132.0 1175.0,130.7 1175.8,129.6 1176.0,128.4 1176.1,127.1 1176.2,125.9 1176.5,124.7 1177.0,125.8 1177.3,127.0 1176.8,128.2 1177.2,129.4 1176.7,130.6 1177.7,131.7 1177.9,132.9 1177.7,134.1 1177.5,135.3 1177.7,136.5 1177.6,137.7 1177.9,138.9 1178.5,140.1 1178.9,141.2 1178.3,142.5 1179.2,143.6 1178.5,145.0 1178.9,146.1 1179.2,147.3 1178.8,148.5 1179.5,149.7 1179.6,150.8 1179.5,152.0 1180.3,153.2 1179.4,154.4 1179.8,155.6 1179.8,156.8 1180.7,157.9 1180.3,159.1 1180.3,157.8 1180.4,156.6 1180.9,155.4 1181.3,154.2 1182.2,153.2 1181.9,151.8 1182.3,150.6 1182.5,149.4 1182.7,150.7 1182.7,152.0 1183.3,153.3 1182.5,154.6 1182.9,155.9 1183.3,157.1 1182.6,158.5 1183.7,159.7 1182.6,161.1 1183.1,162.3 1182.8,163.6 1183.3,164.9 1183.8,166.2 1183.5,167.5 1183.5,168.8 1184.0,170.0 1183.7,171.3 1184.5,172.5 1183.8,173.8 1183.8,175.1 1184.2,176.3 1184.6,177.5 1184.3,178.8 1184.8,180.0 1184.2,181.4 1184.4,182.6 1185.1,183.8 1185.2,182.6 1185.8,181.4 1185.2,180.1 1186.3,179.0 1186.1,177.7 1185.4,176.3 1186.3,175.2 1186.1,174.0 1186.6,172.8 1186.1,171.5 1186.5,170.3 1187.5,169.1 1187.1,167.8 1187.2,166.6 1187.3,167.9 1187.2,169.2 1188.1,170.4 1188.2,171.7 1188.0,173.0 1188.2,174.3 1188.1,175.6 1188.2,176.9 1188.9,178.2 1188.5,179.5 1188.8,180.8 1188.2,182.1 1188.4,183.4 1188.6,184.7 1189.5,185.9 1188.7,187.3 1189.5,188.5 1189.5,189.8 1189.5,191.1 1188.6,192.5 1189.5,193.7 1189.6,195.0 1190.0,196.3 1189.6,197.6 1189.6,198.9 1189.4,200.2 1190.1,201.5 1190.2,202.8 1190.7,204.0 1190.8,205.3 1191.0,206.6 1190.2,208.0 1190.3,209.3 1191.0,210.5 1191.1,211.8 1191.3,210.6 1191.2,209.4 1191.7,208.2 1191.2,207.0 1191.5,205.8 1192.1,204.6 1191.7,203.4 1192.6,202.3 1192.1,201.0 1192.2,202.3 1192.8,203.5 1192.2,204.8 1191.7,206.1 1192.6,207.4 1192.3,208.6 1192.2,209.9 1191.8,211.2 1193.0,212.5 1192.1,213.7 1192.9,215.0 1192.1,216.3 1191.9,217.6 1192.3,218.8 1193.1,220.1 1192.8,221.4 1192.6,222.7 1192.0,223.9 1192.7,225.2 1192.9,226.5 1192.3,227.8 1192.4,229.0 1192.1,230.3 1192.6,231.6 1192.4,232.9 1192.3,234.1 1192.8,235.4 1192.4,234.1 1192.3,232.8 1193.3,231.6 1193.1,230.3 1193.5,229.1 1193.5,227.8 1192.6,226.5 1192.8,225.2 1193.6,224.0 1193.3,222.7 1193.6,221.5 1193.8,220.2 1192.7,218.9 1193.0,217.6 1192.9,216.4 1193.1,215.1 1193.4,213.8 1194.1,212.6 1193.2,211.3 1193.6,210.0 1193.6,208.8 1193.7,207.5 1194.7,206.6 1194.8,205.4 1194.9,204.2 1195.4,203.2 1195.1,201.9 1195.5,200.8 1195.5,199.5 1196.9,198.6 1196.2,197.2 1196.2,196.0 1196.3,194.8 1196.6,193.6 1197.4,192.5 1197.5,191.3 1197.7,192.5 1197.8,193.7 1197.9,195.0 1198.7,196.1 1198.4,197.4 1198.7,198.6 1198.4,199.9 1199.2,201.0 1199.8,202.0 1200.6,203.0 1201.2,204.1 1201.4,205.3 1202.1,206.2 1202.9,207.1 1204.0,207.5 1204.5,208.6 1204.1,210.0 1204.1,211.2 1205.1,212.2 1205.7,213.3 1204.9,214.7 1205.9,215.8 1205.2,217.1 1206.1,218.2 1206.5,219.2 1206.7,220.4 1207.0,221.4 1207.8,222.4 1207.7,223.6 1207.8,224.7 1207.5,223.4 1208.2,222.3 1208.0,221.0 1208.8,219.9 1209.0,218.7 1209.7,217.6 1209.8,216.4 1209.7,215.1 1209.8,213.9 1209.5,215.2 1210.2,216.5 1209.7,217.8 1210.1,219.1 1209.9,220.4 1210.0,221.7 1210.3,222.9 1210.2,224.3 1211.4,225.5 1210.9,226.8 1210.5,228.1 1211.1,229.2 1211.2,230.4 1211.7,231.6 1211.7,232.8 1211.5,234.0 1211.9,235.2 1212.4,236.3 1211.9,237.6 1211.8,236.4 1211.7,235.2 1212.9,234.1 1211.9,232.7 1212.8,231.6 1213.0,230.4 1213.4,229.3 1213.2,228.0 1213.0,226.8 1213.7,227.4 1214.5,227.7 1215.4,227.9 1216.0,226.7 1216.0,225.4 1215.6,224.2 1216.2,222.9 1215.8,221.7 1215.6,220.4 1215.5,219.2 1216.0,217.9 1216.0,216.7 1215.8,215.4 1216.0,214.2 1216.0,212.9 1216.7,211.7 1215.7,210.4 1215.7,209.2 1216.4,207.9 1216.5,206.7 1215.9,205.4 1216.5,204.2 1216.1,202.9 1216.3,201.7 1217.1,200.5 1216.2,199.2 1216.5,197.9 1216.9,196.7 1217.5,196.0 1218.4,195.6 1218.6,194.6 1218.6,195.8 1219.3,196.8 1219.7,197.8 1220.1,198.9 1221.0,198.0 1221.2,196.8 1222.1,195.8 1222.3,194.6 1222.6,193.5 1222.7,192.3 1224.1,191.6 1223.6,190.1 1224.4,189.2 1224.6,190.5 1224.7,191.7 1225.2,192.9 1225.6,194.2 1226.2,195.3 1225.9,196.7 1226.1,197.9 1226.6,199.1 1226.1,200.4 1226.3,201.6 1226.9,202.8 1226.6,204.1 1226.6,205.3 1226.9,206.5 1226.2,207.8 1227.1,209.0 1227.5,210.2 1227.6,211.4 1227.7,212.6 1227.2,213.9 1227.6,215.0 1228.3,215.9 1228.1,217.1 1228.3,218.2 1229.4,217.4 1229.3,215.9 1230.5,215.1 1230.9,213.9 1231.4,212.8 1231.4,211.6 1232.1,210.6 1232.6,209.6 1233.3,210.8 1232.9,212.2 1233.4,213.4 1233.5,214.7 1233.2,216.0 1233.4,217.3 1233.8,218.6 1233.9,219.9 1233.9,221.2 1233.7,222.5 1233.4,223.7 1233.7,224.8 1234.8,225.7 1235.5,226.7 1235.2,227.9 1236.3,227.2 1237.6,226.9 1238.4,225.8 1238.6,224.8 1240.0,224.5 1239.9,223.3 1240.5,222.5 1240.9,221.6 1241.3,220.7 1242.3,220.4" fill="none" stroke="#050505" stroke-width="2.50" stroke-linejoin="round" stroke-linecap="butt"/>
<polyline points="209.0,284.0 209.5,285.1 209.1,286.4 209.6,287.5 209.9,286.0 209.5,284.5 209.7,283.0 209.7,281.5 210.0,280.0 210.1,278.5 209.6,277.0 209.5,275.5 210.3,274.0 210.0,272.5 210.3,271.0 209.7,269.5 210.2,268.0 210.4,269.5 210.3,271.0 210.9,272.5 210.5,274.0 210.7,275.5 211.6,277.0 211.8,278.5 211.5,280.0 211.7,278.5 212.1,277.0 211.8,275.5 211.7,274.0 212.1,272.5 211.8,271.0 212.1,269.5 212.4,268.0 212.6,266.5 212.5,265.0 212.6,263.5 213.0,262.0 212.9,260.5 213.3,259.0 213.4,257.5 213.3,255.9 214.2,254.5 214.2,253.0 214.4,251.5 214.5,250.0 214.4,248.5 215.4,247.1 215.5,245.5 215.0,244.0 215.5,242.5 216.0,241.0 216.2,239.5 216.6,238.1 216.4,236.5 216.7,235.0 216.9,236.1 217.4,237.1 218.0,238.0 218.0,236.5 218.4,235.1 218.8,233.7 218.9,232.2 218.7,230.7 218.9,229.3 218.5,227.8 218.9,226.3 219.5,224.9 219.3,223.4 219.5,222.0 220.3,222.9 220.5,224.0 221.0,225.0 221.3,223.5 221.4,221.9 221.3,220.3 221.5,218.8 221.7,217.3 222.0,215.7 222.0,214.2 222.0,212.6 222.2,211.0 221.9,209.5 222.1,207.9 222.6,206.4 222.5,208.0 222.4,209.5 222.8,211.1 223.1,212.6 223.4,214.2 223.2,215.8 222.9,217.3 223.2,218.9 223.5,220.4 223.6,222.0 223.4,223.6 224.1,225.1 223.9,226.7 223.6,228.3 224.1,229.9 224.3,231.4 224.6,233.0 224.4,234.6 224.2,236.2 225.1,237.7 224.8,239.3 225.2,237.9 225.4,236.5 225.6,235.1 225.6,233.7 225.8,232.3 225.7,230.8 225.9,229.4 226.0,228.0 226.1,226.5 226.0,224.9 226.9,223.5 226.9,222.0 226.7,220.4 227.2,218.9 227.4,217.4 227.6,215.9 227.8,217.4 227.9,218.9 227.8,220.4 227.8,221.9 227.9,223.4 228.1,224.9 228.5,226.4 228.4,227.9 228.6,229.4 228.3,231.0 228.1,232.5 228.2,234.0 228.3,235.5 228.4,237.0 228.9,238.5 228.8,240.0 228.6,241.6 228.9,243.1 229.5,244.6 229.7,246.1 229.8,247.7 229.2,249.3 229.8,250.8 230.0,252.3 229.7,253.9 230.0,255.4 230.4,256.9 230.1,258.5 230.8,259.6 230.9,260.8 231.3,262.0 231.8,263.3 231.9,264.6 231.8,266.0 232.2,267.3 232.5,268.6 232.6,270.0 232.7,271.5 233.1,273.1 232.8,274.6 232.8,276.2 233.1,277.7 233.2,279.2 232.5,280.8 232.9,282.3 233.2,283.8 232.9,285.4 232.7,286.9 233.5,288.5 233.1,290.0 233.6,291.5 233.6,293.0 233.2,294.6 233.8,296.1 233.4,297.7 233.5,299.2 233.8,300.7 234.2,302.3 233.6,303.8 233.8,305.4 234.2,306.9 234.3,308.4 234.6,309.9 234.3,311.5 234.7,313.0 234.6,314.6 234.9,316.1 234.7,317.7 235.3,319.2 235.2,320.7 234.7,322.3 234.8,323.8 235.4,325.4 235.0,326.9 235.6,328.4 235.5,330.0 235.2,331.6 235.4,333.1 235.8,334.6 236.1,336.2 236.4,337.7 235.7,339.3 236.5,340.8 235.9,342.3 235.8,343.9 236.3,345.4 236.7,346.9 236.5,348.5 236.9,346.9 237.1,345.4 237.0,343.8 236.9,342.2 236.9,340.6 236.9,339.1 236.9,337.5 237.4,335.9 237.3,334.4 237.2,332.8 237.2,331.2 237.8,329.7 237.5,328.1 237.8,326.5 237.8,324.9 238.3,323.4 238.1,321.8 238.7,320.4 238.2,318.8 238.6,317.3 238.9,315.9 239.8,314.5 239.9,313.0 239.7,311.5 240.1,310.0 241.5,310.6 242.6,311.7 242.6,313.2 242.6,314.8 242.6,316.3 243.3,317.8 243.0,319.4 243.3,320.9 243.6,322.4 243.3,323.9 244.1,325.4 243.8,327.0 244.5,328.4 244.3,330.0 245.0,329.4 246.0,329.3 245.7,330.9 246.4,332.4 246.0,334.0 246.2,335.6 246.1,337.2 246.6,338.7 246.7,340.3 246.8,341.9 246.4,343.4 246.8,345.0 247.0,346.5 247.1,348.1 247.5,349.6 248.5,350.9 248.5,352.5 249.2,353.9 249.6,355.4 249.9,356.9 249.5,358.6 250.2,360.0 251.0,359.1 251.5,358.1 251.8,356.9 252.0,358.4 251.9,359.9 251.8,361.4 252.3,362.8 252.2,364.3 252.6,365.7 252.9,367.2 252.8,368.7 252.7,370.2 252.9,371.5 253.7,372.5 254.3,373.6 254.0,375.2 254.5,376.7 254.8,378.2 254.4,379.8 254.5,381.3 255.3,382.8 254.8,384.3 255.5,385.8 255.5,387.4 255.0,389.0 255.8,390.4 255.5,392.0 255.3,390.4 256.1,388.9 255.6,387.4 255.4,385.8 255.5,384.3 255.6,382.7 256.2,381.2 255.6,379.7 256.4,378.1 256.0,376.6 256.6,375.1 256.6,373.5 256.1,372.0 256.2,370.4 256.4,368.9 256.1,367.3 256.7,365.8 256.2,364.2 256.2,362.7 257.2,361.2 256.6,359.6 257.0,358.1 256.9,356.5 257.0,355.0 256.9,353.4 256.7,351.8 257.6,350.3 257.7,348.7 257.8,347.1 257.1,345.5 257.2,343.9 257.7,342.4 258.1,340.8 257.8,339.2 258.0,337.6 258.0,336.0 257.7,334.4 258.0,332.9 257.9,331.3 257.9,329.7 257.8,328.1 258.1,326.5 258.8,325.0 258.4,323.4 258.5,321.8 258.5,323.4 258.6,324.9 258.4,326.5 259.0,328.0 259.2,329.5 259.3,331.1 259.4,332.6 259.0,334.2 259.0,335.8 259.7,337.3 259.7,338.8 259.7,340.4 259.7,342.0 259.9,343.5 260.1,342.1 260.0,340.6 259.9,339.2 260.3,337.8 260.3,336.3 260.9,334.9 261.0,333.5 261.4,335.0 261.5,336.6 261.1,338.2 261.4,339.7 261.0,341.3 261.4,342.8 261.1,344.4 261.8,345.9 261.5,347.5 261.3,349.0 262.0,350.6 261.3,352.2 262.1,353.7 261.6,355.3 261.5,356.8 261.7,358.4 262.2,359.9 262.4,361.5 262.1,363.0 261.8,364.6 262.5,366.1 262.0,367.7 262.7,369.2 262.1,370.8 262.9,372.3 262.7,373.9 262.3,375.5 262.7,377.0 263.1,375.5 263.3,373.9 263.3,372.3 263.4,370.8 263.4,369.2 263.1,367.6 263.4,366.1 263.3,364.5 263.9,363.0 264.0,361.4 263.7,359.8 263.7,358.2 264.6,356.7 264.6,355.1 264.4,353.6 264.5,352.0 264.7,350.4 265.1,348.9 264.9,347.3 265.0,345.8 265.1,344.2 265.2,342.7 265.2,341.1 265.9,339.6 265.8,338.0 266.1,336.5 265.8,334.9 266.2,333.3 266.5,331.8 267.1,333.2 267.4,334.6 267.6,336.0 267.4,337.6 268.0,338.9 268.3,340.4 268.5,341.8 268.5,343.3 269.0,344.8 269.4,346.3 269.0,347.9 269.2,349.4 269.2,350.9 269.5,352.4 269.5,353.9 269.6,355.5 270.2,356.9 270.1,358.5 270.2,360.0 270.3,361.6 270.5,363.1 270.4,364.7 270.3,366.3 270.1,367.8 270.1,369.4 270.8,370.9 270.5,372.5 271.1,374.0 271.1,375.6 270.7,377.2 270.5,378.8 271.2,380.3 270.7,381.9 270.6,383.4 271.0,385.0 271.3,386.5 271.1,388.1 271.1,389.6 271.7,391.1 271.5,392.7 271.6,394.2 271.9,395.7 271.8,397.3 271.9,398.8 272.0,400.4 272.5,401.9 272.7,403.4 274.0,404.3 275.1,405.4 276.1,406.7 276.5,408.2 276.4,409.7 276.4,411.2 277.2,412.6 276.8,414.2 277.0,415.7 277.5,417.1 277.5,418.6 277.7,420.1 277.8,418.6 278.7,417.4 278.6,415.8 279.8,414.6 280.0,413.2 280.2,411.7 280.1,413.3 280.5,414.9 279.9,416.5 279.9,418.1 280.7,419.6 280.2,421.2 280.2,422.8 280.4,424.4 280.4,426.0 280.6,427.6 280.3,429.2 280.3,430.8 280.8,432.4 280.5,434.0 280.9,435.5 281.1,437.1 281.0,438.7 281.3,440.3 280.6,441.9 281.0,443.5 281.6,442.0 280.9,440.4 281.5,438.9 281.5,437.4 281.4,435.8 281.7,434.3 281.8,432.7 282.4,431.3 281.8,429.7 282.1,428.1 282.5,426.6 282.7,425.1 283.3,426.6 282.9,428.1 283.1,429.6 283.1,431.2 283.8,432.6 283.9,434.1 283.9,435.7 284.3,437.2 284.2,438.7 284.4,440.2 284.7,438.7 285.6,437.5 286.0,436.0 285.9,437.6 286.0,439.1 285.9,440.7 286.5,442.2 286.6,443.8 286.4,445.3 286.6,446.9 286.9,448.4 287.2,450.0 287.4,451.5 287.7,453.0 287.2,454.7 288.0,456.2 287.5,457.8 287.8,459.3 287.6,460.9 287.9,462.4 287.8,464.0 288.7,465.5 288.5,467.0 288.6,468.6 288.8,467.0 288.6,465.4 288.9,463.9 288.9,462.3 289.1,460.7 288.8,459.1 289.2,457.6 289.4,456.0 289.3,454.4 289.5,452.8 290.0,451.3 290.0,449.7 289.9,448.1 290.1,446.5 290.0,444.9 289.9,443.4 290.3,441.8 290.9,443.3 290.8,444.9 290.6,446.5 290.5,448.1 290.7,449.6 291.1,451.1 290.9,452.7 291.5,454.3 291.3,455.8 291.8,457.4 291.7,458.9 291.6,460.5 292.3,462.0 292.3,463.6 292.1,462.0 292.7,460.5 292.7,458.9 292.7,457.3 292.6,455.8 293.0,454.2 293.2,452.7 293.3,451.1 293.9,449.6 293.8,448.0 294.0,446.5 294.3,444.9 294.3,443.3 294.3,441.8 294.4,440.2 294.3,441.7 294.5,443.2 294.5,444.7 294.6,446.2 294.9,447.7 294.8,449.2 294.9,450.7 294.7,452.2 295.0,453.7 295.3,455.2 295.8,453.7 295.9,452.1 296.1,450.6 296.1,449.0 296.1,447.4 296.2,445.9 296.7,444.4 297.1,442.8 296.9,441.3 296.8,439.7 297.6,438.2 297.4,436.6 297.6,435.0 297.8,433.5 297.6,431.9 298.1,430.5 298.5,429.0 298.4,427.5 298.5,425.9 299.0,424.5 298.6,422.9 299.2,421.4 299.7,420.0 299.5,418.4 300.3,417.2 300.7,415.9 301.5,414.7 302.0,413.4 302.2,411.9 302.0,410.3 302.1,408.7 302.8,407.2 302.3,405.6 302.3,404.1 303.1,402.6 302.9,401.0 302.9,399.4 303.1,397.9 303.4,396.3 303.0,394.8 303.6,393.2 303.7,391.7 303.9,390.1 303.5,388.6 303.9,387.0 303.7,385.4 304.1,383.9 303.9,382.3 304.5,380.8 304.7,379.3 304.5,377.7 304.9,379.2 305.2,380.8 304.8,382.5 305.3,384.0 305.4,385.6 306.4,387.1 305.9,388.7 306.4,390.3 306.9,391.8 307.0,393.4 307.2,394.9 307.1,396.4 307.3,397.9 308.0,399.3 307.8,400.8 308.4,402.2 307.9,403.8 308.6,405.2 308.7,406.7 308.4,408.3 308.7,409.8 308.9,411.4 309.3,412.9 309.2,414.5 309.7,416.0 309.8,417.6 309.4,419.2 309.8,420.7 309.5,422.3 310.1,423.8 309.8,425.4 309.9,427.0 310.4,428.5 310.3,430.1 310.6,428.9 311.4,428.0 312.0,427.0 312.1,428.5 312.6,430.1 312.6,431.6 312.9,433.2 312.5,434.7 312.3,436.3 313.0,437.8 313.3,439.3 312.8,440.9 312.9,442.5 312.8,444.0 313.3,445.6 313.6,447.1 313.3,448.7 313.7,450.2 313.5,448.7 314.2,447.2 313.8,445.6 314.3,444.2 314.5,442.6 314.6,441.1 314.5,439.6 314.7,438.1 315.4,436.6 315.3,435.1 315.5,436.7 315.5,438.3 315.9,439.8 315.6,441.5 316.1,443.0 316.0,444.6 315.8,446.3 315.9,447.9 316.8,449.4 316.3,451.0 316.4,452.6 317.0,454.2 317.0,455.8 317.0,457.4 316.8,459.0 317.4,460.5 317.1,462.2 317.3,463.7 318.0,465.3 317.8,466.9 318.2,465.3 317.5,463.7 317.7,462.1 318.3,460.5 317.8,458.9 318.2,457.3 318.0,455.7 318.4,454.1 318.8,452.6 318.9,451.0 318.2,449.3 318.3,447.7 319.1,446.2 318.5,444.5 318.8,443.0 318.7,441.4 318.7,439.8 318.8,438.2 319.4,436.6 319.6,435.0 319.6,433.4 319.5,431.8 320.1,430.5 320.2,429.0 320.3,427.6 320.7,426.2 321.3,424.9 321.2,423.4 321.2,424.9 321.8,426.4 322.1,427.9 321.5,429.5 322.0,431.0 322.4,432.4 322.3,434.0 322.5,435.5 322.7,437.0 322.9,438.5 322.6,436.9 322.9,435.4 323.0,433.8 322.8,432.2 323.5,430.7 323.1,429.1 323.4,427.5 323.5,426.0 323.6,424.4 323.6,422.8 323.7,421.3 323.3,419.7 324.0,418.1 323.3,416.5 324.0,415.0 324.0,413.4 324.1,411.8 323.4,410.2 323.5,408.7 324.2,407.1 323.9,405.6 323.9,404.0 324.5,402.4 323.7,400.8 324.2,399.3 324.1,397.7 323.9,396.1 324.2,394.6 324.5,393.0 324.7,391.4 324.0,389.9 324.5,388.3 324.7,389.8 325.2,391.2 324.8,392.8 325.6,394.2 325.9,395.7 325.7,397.2 325.6,398.7 326.2,400.2 326.2,401.7 326.7,403.2 326.2,404.8 326.4,406.3 326.5,407.8 327.1,409.3 327.2,410.8 327.5,412.3 327.4,413.9 327.7,415.3 327.9,416.9 327.9,418.4 328.4,416.9 328.8,415.4 328.7,413.9 328.5,412.3 329.2,410.8 329.2,409.3 329.9,407.8 329.9,406.3 330.2,404.8 330.4,403.2 330.4,401.7 330.6,400.2 331.1,398.8 331.2,397.3 330.9,395.7 331.0,394.2 331.4,392.8 331.7,391.3 331.5,389.7 332.0,388.3 331.9,386.8 332.2,385.3 331.8,383.8 332.6,382.4 332.5,380.9 332.3,379.3 332.4,377.9 332.5,376.4 332.6,374.9 333.0,373.4 332.9,371.9 333.2,370.4 333.4,368.9 333.3,367.3 334.3,366.0 334.0,364.4 334.2,362.9 334.3,361.3 335.3,360.0 335.1,358.4 335.4,356.9 335.1,358.5 335.2,360.0 335.2,361.6 335.4,363.1 335.4,364.7 335.5,366.2 335.7,367.8 336.3,369.3 336.1,370.9 336.1,372.4 335.8,374.0 336.1,375.5 336.2,377.1 336.3,378.6 336.7,380.1 336.2,381.7 336.6,383.3 336.9,384.8 336.9,386.3 336.5,387.9 337.0,389.5 337.1,391.0 336.9,389.4 337.0,387.9 337.6,386.4 337.6,384.9 338.0,383.4 337.5,381.8 337.8,380.3 338.2,378.7 337.7,377.2 337.9,375.6 338.4,374.1 338.2,372.6 338.2,371.0 338.5,369.5 338.8,368.0 339.0,366.5 339.0,365.0 338.7,363.4 338.8,361.9 339.6,360.4 339.6,358.9 339.3,357.3 340.0,355.9 339.3,354.3 339.7,352.8 340.3,351.3 340.3,349.8 340.0,348.2 340.6,346.7 340.4,345.2 340.8,343.8 341.3,342.4 341.7,340.9 341.6,339.4 342.1,338.0 342.3,336.5 343.0,335.2 343.1,333.7 343.4,332.2 343.8,330.8 343.8,329.3 343.6,330.9 344.5,332.4 344.8,333.9 344.5,335.5 344.7,337.0 345.2,338.6 345.4,340.1 345.5,341.6 345.7,343.2 345.4,344.8 345.7,346.3 346.0,347.8 346.6,349.3 346.0,350.9 346.5,352.5 346.9,354.0 346.9,355.5 346.7,357.1 347.4,358.6 347.1,360.2 348.2,361.1 348.9,362.3 349.6,363.5 349.5,365.0 349.9,366.4 349.9,367.9 350.5,369.3 350.8,370.7 351.0,372.2 351.3,373.6 351.5,375.0 351.7,376.5 351.7,377.9 351.7,379.4 352.4,380.7 352.5,382.2 353.0,383.5 353.0,385.0 353.3,386.6 353.2,388.2 353.2,389.8 353.3,391.4 353.0,393.0 353.8,394.5 353.4,396.1 353.2,397.7 353.5,399.3 353.7,400.9 354.0,402.5 354.0,404.1 353.6,405.7 353.8,407.3 354.0,408.9 353.9,410.5 354.0,412.0 354.1,413.6 354.6,415.2 354.6,416.8 354.7,415.2 355.1,413.7 354.9,412.1 355.3,410.6 355.2,409.0 355.2,407.4 355.4,405.9 355.2,404.3 355.6,402.8 355.7,401.2 355.5,399.6 355.8,398.1 356.0,396.5 356.3,395.0 356.7,393.4 356.6,391.9 356.4,390.3 357.2,388.7 356.6,387.1 357.0,385.6 357.3,384.0 357.4,382.4 357.2,380.8 357.6,379.3 357.5,377.7 357.8,376.1 357.7,374.5 358.3,373.0 358.1,371.4 357.7,369.8 357.8,368.2 358.7,366.7 358.1,365.1 358.5,363.5 359.1,365.0 359.0,366.6 359.0,368.1 358.7,369.7 359.4,371.2 359.2,372.8 359.3,374.4 360.1,375.8 359.8,377.4 359.6,379.0 360.1,380.5 360.3,382.1 360.5,383.6 360.8,385.0 360.5,386.5 360.7,387.9 361.7,389.3 361.5,390.7 361.8,392.1 361.7,393.6 362.1,395.0 362.6,396.5 362.6,398.0 362.8,399.5 362.8,401.0 362.7,402.6 362.8,404.1 363.0,405.6 363.3,407.1 364.0,408.5 363.8,410.1 364.1,411.6 364.0,413.1 364.5,414.6 364.5,416.1 364.3,417.6 365.2,419.1 364.7,420.6 365.5,422.1 365.4,423.6 365.5,425.1 366.0,423.6 365.5,422.0 365.9,420.4 365.9,418.9 366.4,417.3 366.6,415.8 366.1,414.2 366.4,412.6 366.9,411.1 366.7,409.5 366.5,407.9 367.1,406.4 366.8,404.8 367.1,403.3 367.2,401.7 367.0,400.2 368.0,398.8 367.9,397.3 368.4,395.9 368.6,394.4 368.2,392.9 368.6,391.5 368.8,390.0 368.8,388.5 369.2,387.0 369.4,385.5 368.9,384.0 369.0,382.5 369.5,381.1 369.3,379.6 369.1,378.1 369.3,376.6 369.7,375.1 369.7,373.6 369.7,375.0 369.5,376.5 370.0,377.9 370.0,379.3 370.5,380.7 370.4,382.1 370.6,383.6 370.5,385.0 370.4,386.5 370.9,387.9 371.1,389.4 371.0,390.8 371.0,392.3 371.2,393.8 371.1,395.2 371.3,396.7 371.1,395.1 371.7,393.5 371.6,391.9 371.5,390.4 371.2,388.8 371.5,387.2 371.8,385.6 371.8,384.0 372.1,382.4 372.2,380.8 371.7,379.2 371.9,377.7 371.8,376.1 371.7,374.5 371.8,372.9 371.9,371.3 371.8,369.7 372.3,368.1 372.5,366.6 372.4,365.0 372.6,363.4 372.2,361.8 372.5,360.2 372.3,358.7 372.8,357.2 373.2,355.7 372.9,354.1 372.6,352.6 372.8,351.1 373.2,349.6 373.5,348.1 373.2,346.5 373.4,345.0 373.8,343.5 375.1,343.7 376.4,343.5 377.0,342.1 376.6,340.5 377.0,339.0 377.1,337.5 376.9,336.0 377.3,334.5 377.3,333.0 377.6,331.6 378.0,330.1 377.8,331.7 378.0,333.2 378.6,334.7 378.7,336.3 378.1,337.8 378.8,339.4 378.6,340.9 378.8,342.5 379.0,344.0 379.1,345.5 379.1,347.1 378.9,348.6 378.9,350.2 379.4,348.6 379.2,347.1 378.9,345.5 379.4,343.9 379.1,342.3 379.4,340.8 379.3,339.2 380.0,337.6 379.5,336.0 380.0,334.5 379.9,332.9 380.2,331.3 380.1,329.7 380.4,328.2 380.0,326.6 380.2,325.0 380.4,323.5 380.4,321.9 380.4,320.4 380.5,318.9 380.5,317.3 380.5,315.8 381.0,314.3 380.8,312.7 380.8,311.2 380.4,309.6 380.9,308.1 380.7,306.5 380.8,305.0 381.0,303.5 381.2,301.9 381.0,300.4 381.1,298.9 381.4,297.3 381.4,295.8 381.5,297.3 381.7,298.9 382.0,300.4 381.9,301.9 381.7,303.5 381.9,305.0 382.0,306.5 381.8,308.1 382.0,309.6 382.1,311.1 382.8,312.6 382.6,314.2 382.4,315.7 383.0,317.2 382.4,318.8 383.1,320.3 382.6,321.9 383.0,323.4 383.0,322.0 383.9,320.7 384.2,319.3 384.0,317.8 384.8,316.6 384.7,315.1 385.1,316.6 384.5,318.2 385.0,319.8 385.0,321.3 385.3,322.9 384.9,324.5 385.3,326.0 385.0,327.6 384.9,329.1 385.1,330.7 385.7,332.2 384.9,333.8 385.0,335.4 385.3,336.9 385.5,338.5 385.7,337.0 386.1,335.6 386.7,334.2 386.6,332.7 387.2,331.3 387.3,329.9 387.5,328.4 387.7,330.0 387.3,331.6 387.8,333.1 387.8,334.7 388.3,336.2 388.1,337.8 388.5,339.4 388.0,341.0 388.7,342.5 388.8,344.1 388.8,345.6 388.9,347.2 388.6,348.8 388.9,350.4 389.0,351.9 388.9,353.5 389.4,351.9 389.4,350.4 389.3,348.8 389.5,347.2 389.6,345.6 389.2,344.0 389.8,342.4 389.4,340.8 389.8,339.3 389.7,337.7 389.6,336.1 390.2,334.5 390.4,332.9 390.0,331.3 390.6,329.8 390.2,328.2 390.6,326.6 390.5,325.0 391.1,323.5 391.0,322.0 390.4,320.5 390.9,319.0 390.9,317.5 391.0,315.9 391.5,314.5 391.3,312.9 391.6,311.5 391.7,309.9 391.7,308.4 391.4,306.9 392.0,305.4 392.3,303.9 391.8,302.4 392.2,300.9 392.2,302.5 392.4,304.1 392.6,305.7 392.4,307.3 392.2,308.9 393.2,310.5 392.5,312.1 393.0,313.7 392.7,315.3 393.4,316.8 393.0,318.5 393.6,320.0 393.5,321.6 393.0,323.3 393.4,324.8 393.3,326.4 393.7,328.0 393.8,329.6 393.9,331.2 393.7,332.8 393.8,334.4 394.4,336.0 394.2,337.6 394.3,336.1 394.5,334.6 394.7,333.0 395.1,331.5 395.2,330.0 394.7,328.4 395.0,326.9 394.9,325.4 394.9,323.9 395.1,322.3 395.3,320.8 396.0,319.3 396.0,317.8 396.3,316.3 396.0,314.7 396.0,313.2 396.4,311.7 396.3,313.2 396.7,314.6 396.9,316.0 398.0,317.2 397.9,318.7 398.1,320.1 398.4,318.5 398.7,317.0 399.0,315.4 398.8,313.8 398.9,312.2 398.7,310.6 399.6,309.1 400.0,307.5 399.7,305.9 399.4,307.5 399.7,309.1 400.0,310.6 400.1,312.2 399.7,313.8 399.6,315.4 399.6,317.0 400.4,318.5 400.1,320.1 400.2,321.7 400.3,323.3 400.0,324.8 400.0,326.4 400.2,328.0 400.3,329.6 400.3,331.1 400.4,332.7 400.6,334.3 400.7,332.7 400.6,331.1 401.1,329.6 400.6,327.9 401.2,326.4 401.0,324.8 401.3,323.2 401.4,321.6 401.4,320.0 401.9,318.5 401.3,316.9 401.2,315.3 402.2,313.7 401.7,312.1 401.7,310.5 402.0,308.9 402.2,307.4 402.6,305.8 402.3,304.2 402.7,302.6 402.5,301.0 402.9,299.5 403.0,297.9 403.2,296.3 403.3,294.7 403.2,293.1 403.6,291.6 403.9,290.0 403.9,288.5 403.9,287.0 404.5,285.5 404.2,284.0 404.1,282.5 404.6,281.0 405.0,279.5 405.0,278.0 405.0,276.5 405.0,275.0 405.4,273.6 405.3,272.1 405.4,270.7 405.7,269.3 406.0,267.9 406.4,266.5 407.0,267.8 407.2,269.2 407.9,270.5 408.0,272.0 408.6,273.3 408.7,274.6 409.0,275.9 408.7,277.4 409.2,278.7 409.5,280.0 409.7,278.6 410.4,277.3 411.0,276.0 410.9,277.5 411.3,278.9 411.5,280.3 411.8,281.7 412.2,283.1 412.0,284.6 412.3,286.0 413.0,287.4 412.7,289.1 413.7,290.5 413.4,292.1 414.0,293.6 414.0,292.0 414.3,290.5 414.3,289.0 413.9,287.4 414.3,285.9 414.0,284.3 414.2,282.7 414.4,281.2 414.3,279.6 414.7,278.1 415.1,276.6 414.6,275.0 415.0,273.5 414.8,271.9 415.1,273.4 414.8,274.9 415.2,276.4 415.2,277.9 415.7,279.4 415.1,281.0 415.8,282.4 415.6,284.0 415.9,285.5 415.5,287.0 415.8,288.5 416.0,290.0 416.0,291.6 416.0,293.2 416.6,294.8 416.9,296.3 416.3,298.0 416.9,299.5 416.5,301.2 416.5,302.8 416.9,304.3 417.5,305.9 417.3,307.5 417.8,306.0 417.7,304.4 417.5,302.8 417.6,301.2 418.1,299.7 417.9,298.1 418.7,296.6 418.5,295.0 418.9,293.6 419.3,292.3 419.2,290.8 419.9,289.5 419.8,288.0 420.3,289.4 419.9,290.9 420.5,292.3 420.9,293.7 421.0,295.1 421.1,296.5 421.0,298.0 420.9,299.5 421.4,300.9 421.5,302.3 421.5,303.8 422.0,305.2 421.8,306.7 421.9,308.1 421.9,309.6 422.4,311.0 422.5,312.5 422.3,314.0 422.3,315.5 422.6,317.0 423.1,318.5 423.3,320.0 423.6,321.5 423.1,323.0 423.8,324.5 423.5,326.0 423.8,327.5 424.2,329.0 424.2,330.5 423.8,332.0 424.2,333.5 424.2,335.0 424.0,336.6 424.1,338.1 424.9,339.7 424.4,341.2 425.1,342.7 424.8,344.3 424.9,345.8 424.5,347.4 424.9,348.9 425.3,350.5 425.1,352.0 425.2,353.6 425.5,355.1 425.5,356.6 425.1,358.2 425.1,359.7 425.3,361.3 426.0,362.8 425.4,364.4 425.8,365.9 425.9,364.4 426.4,362.8 425.9,361.2 426.0,359.7 426.8,358.2 426.4,356.6 426.3,355.1 426.9,353.5 427.0,352.0 427.8,350.8 428.0,349.5 428.0,348.2 428.4,346.9 429.0,345.5 429.0,344.0 429.3,342.6 429.3,341.1 429.2,339.7 429.9,338.3 429.6,336.8 430.2,335.4 430.1,333.9 430.6,332.5 430.4,331.0 431.1,331.8 431.9,332.6 432.5,333.5 432.5,335.1 432.9,336.6 433.2,338.2 432.9,339.7 432.8,341.3 433.4,342.8 433.0,344.4 433.1,346.0 433.3,347.6 433.7,349.1 433.3,350.7 433.6,352.2 433.9,353.8 434.4,355.3 434.2,356.9 434.3,358.4 435.0,359.8 434.4,361.3 435.1,362.7 435.3,364.2 435.3,365.6 435.4,367.1 435.6,368.6 435.9,370.0 436.3,371.2 436.6,372.5 436.8,373.8 437.5,375.0 437.7,376.5 437.8,378.0 437.6,379.6 438.5,381.0 438.5,382.6 438.5,384.1 438.7,385.6 438.2,387.2 439.1,388.6 439.2,390.2 439.2,391.7 439.1,393.2 439.0,394.8 439.0,396.3 439.2,397.8 439.7,399.3 439.9,397.8 439.5,396.2 439.6,394.7 440.3,393.2 440.5,391.7 440.2,390.1 440.9,388.6 440.6,387.0 440.8,385.5 440.9,384.0 440.5,382.4 440.7,380.9 441.5,379.4 441.0,377.8 441.0,376.3 441.3,374.8 441.8,373.2 441.7,371.7 441.7,370.2 441.8,368.7 442.0,367.2 442.4,365.8 442.8,364.3 442.5,362.8 443.2,361.4 443.5,359.9 443.5,358.4 443.4,356.9 443.2,355.3 443.6,353.8 444.3,352.3 444.4,350.7 444.0,349.1 444.4,347.6 444.5,346.0 445.0,344.5 444.6,342.9 445.0,341.4 445.6,339.9 445.9,338.3 445.3,336.7 445.9,335.2 446.5,334.1 447.2,333.1 447.6,331.9 447.5,333.4 448.1,334.8 447.8,336.3 448.7,337.7 448.9,339.2 449.1,340.6 448.9,342.1 449.2,343.6 449.0,342.1 449.3,340.6 449.4,339.1 449.4,337.5 450.3,336.1 449.9,334.5 450.6,333.1 450.6,331.6 450.3,330.0 451.1,328.6 450.4,327.0 451.4,325.6 450.7,324.0 451.0,322.5 451.4,321.0 451.5,322.6 452.1,324.1 451.6,325.8 452.3,327.3 451.8,328.9 452.6,330.4 452.3,332.0 452.7,333.6 452.6,335.2 452.7,333.7 453.2,332.3 453.3,330.9 453.6,329.5 454.2,328.1 454.0,326.6 454.6,325.2 455.0,326.7 454.7,328.2 455.2,329.7 454.7,331.2 455.3,332.7 455.4,334.2 455.9,335.7 456.1,337.2 456.1,338.7 455.9,340.2 456.1,341.6 456.3,343.0 456.4,344.5 457.1,345.8 457.1,347.2 457.6,348.6 457.6,347.0 457.4,345.4 457.8,343.9 458.2,342.3 458.4,340.8 458.6,339.2 458.6,337.6 458.5,336.1 458.6,334.5 458.7,332.9 458.7,331.3 459.0,329.8 459.0,328.2 459.4,326.7 459.1,325.1 459.3,323.5 459.5,322.0 460.0,320.6 460.0,319.1 460.1,317.5 460.3,316.1 460.7,314.6 460.7,313.1 460.6,311.6 461.0,310.1 460.9,308.6 461.2,307.1 460.8,305.5 461.2,304.0 461.7,302.5 461.1,300.9 461.4,299.4 461.7,297.9 462.0,296.4 461.8,294.9 461.8,293.3 461.7,291.8 461.8,290.3 462.0,288.8 461.8,287.2 462.3,285.7 462.1,284.2 462.7,285.7 462.2,287.4 462.4,289.0 463.0,290.5 463.4,292.1 463.3,293.7 463.2,295.3 463.2,296.9 463.3,298.5 463.8,300.1 463.7,298.5 463.7,296.9 463.9,295.4 464.8,293.9 464.7,292.3 464.3,290.7 465.0,289.2 465.4,287.7 465.2,286.1 465.0,284.5 465.8,283.0 465.7,281.4 465.4,279.8 466.1,278.3 466.0,276.7 466.1,278.2 466.2,279.7 466.6,281.2 466.8,282.8 466.8,284.3 466.8,285.8 467.1,287.3 466.8,288.9 467.7,290.3 467.7,291.9 467.6,293.4 467.4,294.9 467.9,296.2 468.1,297.6 468.3,299.0 468.8,300.4 468.8,301.8 468.9,300.3 468.9,298.8 469.0,297.4 469.9,296.0 469.9,294.5 469.8,293.0 469.6,294.6 470.5,296.1 470.0,297.8 470.5,299.3 470.4,300.9 470.4,302.5 471.1,304.1 470.9,305.7 470.8,307.3 470.7,308.9 471.1,310.4 471.4,312.0 471.3,313.6 471.5,315.2 471.6,316.7 472.1,318.1 472.1,319.6 472.5,321.0 473.0,322.4 472.9,324.0 473.4,325.4 473.2,326.9 473.3,328.4 473.3,329.9 473.0,331.5 473.2,333.0 473.2,334.5 473.1,336.0 473.8,337.5 473.8,339.0 473.9,340.6 474.1,342.1 473.8,343.6 473.9,345.1 474.1,346.6 474.6,348.0 474.0,349.6 474.1,351.0 475.1,352.4 475.3,353.9 475.4,355.4 475.2,356.9 475.1,358.4 475.0,359.9 475.8,361.3 476.0,362.8 475.6,364.3 475.8,365.8 476.2,367.2 476.3,368.7 476.2,370.2 476.0,371.7 476.4,373.2 476.5,374.7 476.4,376.3 476.8,377.8 477.0,379.3 477.2,380.8 476.7,382.4 477.5,383.8 477.3,385.4 477.6,386.9 477.7,388.4 478.1,389.9 478.2,391.4 478.8,392.9 478.8,394.4 478.6,396.0 478.7,397.5 479.4,398.9 479.7,400.4 479.2,402.0 479.8,403.5 480.3,404.9 479.9,406.4 480.0,407.9 480.8,409.3 480.3,410.8 481.1,412.2 481.4,413.7 481.3,415.1 481.4,416.6 481.4,418.1 481.7,419.5 481.8,421.0 482.2,419.5 482.2,418.1 481.9,416.5 482.1,415.1 482.7,413.6 482.2,412.1 483.1,410.7 483.1,409.2 482.7,407.7 482.9,406.2 483.0,404.7 483.3,403.3 483.5,401.8 483.4,400.2 483.3,398.7 483.6,397.1 483.6,395.6 483.8,394.0 484.0,392.5 484.5,391.0 484.4,389.4 484.4,387.9 484.8,386.3 484.4,384.7 484.5,383.2 484.5,381.6 484.8,380.1 485.3,378.5 485.5,377.0 485.6,375.4 485.5,373.7 485.3,372.1 485.4,370.5 486.2,369.0 486.4,367.4 486.3,365.8 486.4,364.2 486.2,365.8 486.3,367.4 486.6,369.0 487.0,370.6 487.1,372.1 487.3,373.7 487.4,375.3 487.5,376.9 488.0,378.5 487.7,380.1 488.2,381.5 488.3,383.0 488.1,384.5 488.0,386.0 488.3,387.4 488.9,388.8 488.8,390.3 488.9,391.8 488.9,393.4 489.4,394.9 489.5,396.5 489.1,398.1 489.5,399.6 489.2,401.2 489.7,402.8 489.2,404.4 489.8,405.9 489.7,407.5 489.7,409.1 489.5,410.7 489.5,412.2 489.7,413.8 489.9,415.4 490.5,416.9 490.2,418.5 490.0,416.9 490.4,415.4 491.0,413.8 490.8,412.2 490.5,410.6 490.7,409.1 491.4,407.5 491.1,406.0 491.5,404.4 491.6,402.8 491.6,401.3 491.6,399.7 491.7,398.1 491.5,396.5 491.5,394.9 491.9,393.4 492.5,392.0 491.8,390.4 492.2,388.9 492.7,387.5 493.2,386.1 492.7,384.5 492.9,383.0 493.6,381.6 493.5,380.1 493.9,381.5 494.0,383.0 494.3,384.5 494.8,385.9 494.2,387.5 494.6,388.9 495.4,390.3 495.2,391.8 496.1,392.7 496.6,393.8 496.9,395.0 497.2,396.5 496.9,398.0 497.8,399.5 497.9,401.0 498.0,402.5 498.0,404.0 497.9,405.5 498.4,407.0 498.6,408.5 498.4,410.0 498.9,411.5 499.2,413.0 499.0,414.5 499.4,416.0 499.7,417.4 499.8,418.9 500.2,420.4 500.2,421.9 500.3,420.4 500.1,418.9 500.3,417.5 501.0,416.1 500.6,414.6 500.8,413.1 500.9,411.6 501.3,410.2 501.5,411.8 501.8,413.3 501.5,414.9 501.3,416.5 501.3,418.1 501.2,419.6 501.9,421.2 501.5,422.8 501.9,424.3 501.8,425.9 501.6,427.5 501.4,429.1 501.6,430.6 501.4,432.2 502.3,433.7 502.0,435.3 501.9,436.9 502.1,438.3 502.7,439.6 502.9,441.0 502.8,442.5 502.8,443.9 503.1,445.3 502.9,443.7 503.0,442.2 503.4,440.6 503.9,439.1 503.9,437.6 504.4,436.1 504.2,434.5 504.6,433.0 504.4,431.4 504.5,429.8 504.5,428.3 504.4,426.7 504.9,425.2 504.7,423.7 505.3,422.3 505.7,420.8 505.1,419.3 505.4,417.9 505.6,416.4 505.8,414.9 506.1,413.5 506.2,414.7 507.2,415.7 507.5,416.8 507.8,418.0 508.0,416.5 508.6,415.0 508.2,413.4 508.7,411.9 508.4,410.2 508.9,408.8 509.6,407.3 509.1,405.6 509.5,404.1 509.8,402.6 509.8,404.1 509.9,405.6 510.0,407.1 510.1,408.5 510.1,410.0 510.6,411.5 510.6,413.0 510.7,414.5 510.7,416.0 510.7,417.5 510.6,419.0 511.1,420.4 511.1,421.9 511.3,423.4 511.2,424.9 511.2,426.4 512.1,427.8 511.8,429.3 512.5,430.7 512.2,432.3 513.0,433.7 512.8,435.2 513.0,436.6 513.2,438.1 513.3,439.6 513.3,441.0 513.7,442.5 514.1,443.9 514.4,445.3 514.5,446.8 515.1,448.3 514.7,449.8 514.8,451.4 514.8,452.9 515.4,454.4 515.2,455.9 515.8,457.4 515.3,459.0 515.3,460.5 515.8,462.0 515.7,463.5 516.0,465.0 516.1,466.5 516.7,467.8 517.1,469.2 516.8,470.8 517.4,472.1 517.8,473.5 517.8,475.0 517.9,473.5 518.4,471.9 518.6,470.4 518.4,468.9 518.9,467.3 518.3,465.7 518.7,464.2 518.4,462.7 518.7,461.1 519.4,459.6 518.8,458.0 519.5,456.6 519.5,455.0 519.6,453.5 520.1,452.0 520.2,450.4 519.6,448.8 519.8,447.3 520.5,445.8 520.0,444.2 520.3,442.7 520.7,444.3 520.2,445.9 520.6,447.5 521.0,449.1 520.9,450.7 521.1,452.3 521.2,453.8 521.2,455.4 521.7,457.0 521.4,458.6 521.2,460.3 521.7,461.8 521.6,463.4 522.0,465.0 522.3,466.5 522.6,468.0 522.9,469.5 522.2,471.2 523.1,472.6 523.0,474.2 522.9,475.7 523.0,477.2 523.2,478.8 523.5,480.3 523.6,481.8 524.0,480.3 523.7,478.7 524.2,477.1 523.6,475.5 524.3,474.0 523.8,472.4 524.2,470.9 524.3,469.3 524.2,467.8 524.6,466.2 525.0,464.7 524.4,463.1 524.6,461.5 525.0,460.0 525.5,458.5 525.1,456.9 525.1,455.3 525.6,453.8 525.6,452.3 525.1,450.7 525.6,449.2 525.3,447.6 525.9,446.1 525.7,444.5 526.0,443.0 525.4,441.4 526.3,439.9 525.7,438.3 526.3,436.8 526.1,435.2 526.1,433.6 526.6,432.1 526.0,430.4 526.1,428.8 526.5,427.3 527.0,425.7 526.7,424.1 526.8,422.5 526.6,420.9 527.0,419.4 527.0,417.8 527.5,416.2 527.5,414.6 527.3,413.0 527.1,411.4 527.2,409.8 528.0,408.3 527.8,406.7 527.8,405.1 527.7,403.5 528.3,402.0 527.9,400.4 528.2,398.8 528.7,397.3 528.1,395.7 528.2,394.1 528.2,392.6 528.4,391.0 528.7,389.5 528.8,387.9 528.9,386.3 528.7,384.8 529.3,383.2 529.3,381.7 529.5,380.1 529.9,378.6 529.6,377.1 530.1,375.6 530.0,374.0 530.5,372.6 530.2,371.0 530.6,369.5 530.7,368.0 530.9,366.5 531.1,365.0 531.3,363.5 531.4,361.9 531.3,360.4 531.9,358.9 532.1,357.4 531.9,355.8 532.1,354.3 532.3,352.8 532.0,351.2 532.4,349.7 532.4,348.2 532.5,346.7 532.6,345.1 532.8,343.6 533.1,342.1 533.1,340.6 533.4,339.1 533.6,337.6 534.3,336.2 534.2,334.6 535.0,333.2 535.4,331.8 535.3,330.2 535.7,328.7 535.5,327.2 536.3,325.8 535.9,324.2 536.1,322.7 536.5,321.3 536.8,319.8 536.7,318.3 537.0,316.8 537.0,318.3 537.2,319.7 537.9,321.1 538.2,322.5 538.3,324.0 538.3,325.5 538.7,326.9 539.1,325.3 538.9,323.7 539.4,322.2 540.1,320.7 540.4,319.1 540.3,317.5 540.7,315.9 540.7,314.3 540.6,315.9 541.3,317.4 541.6,319.0 541.3,320.6 541.6,322.2 541.5,323.8 542.0,325.3 542.0,326.9 542.2,328.4 542.0,330.0 542.8,331.4 542.7,333.0 543.1,334.5 542.9,336.0 542.9,337.5 542.8,339.1 543.2,340.6 543.9,342.0 543.7,343.6 543.8,345.2 543.8,346.8 543.8,348.4 543.8,349.9 543.6,351.5 543.7,353.1 544.4,354.7 544.5,356.2 543.8,357.9 544.6,359.4 543.9,361.0 544.8,362.6 544.4,364.2 544.9,365.7 544.9,367.3 544.8,368.9 544.4,370.5 544.6,372.1 545.0,373.6 545.2,375.2 545.1,376.8 545.0,378.4 544.9,376.8 545.1,375.3 545.5,373.8 545.7,372.3 546.2,370.8 545.6,369.2 546.2,367.7 546.4,366.1 546.2,364.6 546.5,363.1 546.5,361.5 547.0,360.0 547.6,358.7 547.3,357.2 547.2,355.8 547.8,354.5 548.0,353.1 548.5,351.7 548.4,350.3 548.5,351.5 549.2,352.6 548.9,353.9 549.5,355.0 549.3,353.5 550.1,352.1 549.7,350.5 550.6,349.1 550.2,347.5 550.7,346.1 550.5,347.7 550.6,349.2 550.7,350.7 551.4,352.3 551.2,353.8 551.5,355.4 551.1,356.9 550.9,358.5 551.4,360.0 551.4,361.6 551.4,363.1 552.0,364.6 551.9,366.2 552.0,367.7 551.7,369.3 552.1,370.8 552.2,372.4 552.1,373.9 552.5,375.4 552.7,377.0 552.7,378.5 552.5,380.1 552.1,378.5 552.8,376.9 552.7,375.3 552.9,373.7 552.9,372.1 552.6,370.5 553.3,368.9 553.4,367.3 552.7,365.7 553.2,364.1 553.6,362.6 553.3,360.9 553.8,359.4 553.8,357.8 553.8,356.2 554.1,354.6 554.1,353.0 554.0,351.4 553.6,349.8 554.0,348.2 554.3,346.6 554.2,345.0 554.3,343.4 554.2,341.8 554.7,340.2 554.5,338.6 555.0,339.8 554.9,341.2 555.3,342.4 555.8,343.7 555.7,345.0 555.5,343.4 555.7,341.9 556.1,340.5 556.4,339.0 556.2,337.4 556.4,335.9 557.2,334.5 557.6,333.0 557.3,331.4 557.5,329.9 557.8,328.4 557.9,326.9 557.7,325.3 558.3,323.8 558.7,322.3 559.1,320.8 559.0,319.3 559.1,317.7 559.2,316.2 559.9,314.7 559.7,313.2 559.9,311.6 560.1,310.1 560.2,311.4 560.8,312.5 561.4,313.7 561.3,315.0 561.6,313.5 562.0,312.1 561.7,310.6 561.7,309.1 561.8,307.6 562.7,306.2 562.2,304.7 562.9,303.3 562.9,301.8 562.7,300.3 563.2,298.8 563.7,297.4 563.3,295.9 563.5,294.4 563.9,292.9 564.0,291.5 564.2,290.0 564.2,288.5 564.0,287.0 564.7,285.6 564.5,284.1 564.9,282.6 565.0,284.2 565.3,285.8 565.7,287.3 565.2,289.0 566.0,290.5 565.6,292.1 566.2,293.7 566.4,295.2 566.8,296.8 566.8,298.4 567.2,299.9 566.8,301.4 567.2,302.9 567.2,304.4 567.6,305.9 567.5,307.5 567.4,309.0 567.4,310.5 567.6,312.0 567.9,313.5 568.1,315.0 568.0,316.5 568.1,318.1 568.4,319.6 568.3,321.1 568.7,322.6 569.1,324.1 569.1,325.6 568.5,327.2 568.6,328.7 569.1,330.2 568.9,331.8 569.5,333.3 569.0,334.9 569.1,336.5 569.4,338.1 569.7,339.7 570.0,341.2 569.2,342.8 569.3,344.4 569.5,346.0 569.9,347.6 569.8,349.1 569.7,350.7 570.1,352.3 570.5,353.9 569.8,355.5 570.3,357.0 570.4,358.6 570.8,357.1 570.8,355.5 570.4,354.0 570.9,352.4 570.6,350.9 571.0,349.4 571.7,347.9 571.6,346.3 571.6,344.8 571.4,343.2 572.0,341.7 572.1,340.1 572.1,338.6 572.6,337.4 573.1,336.1 573.7,334.9 573.8,333.5 574.1,334.8 574.2,336.1 574.6,337.4 574.8,338.7 575.1,340.0 575.4,338.5 575.0,336.9 575.0,335.3 575.2,333.8 575.2,332.2 575.8,330.7 575.7,329.1 576.2,327.6 575.8,326.0 575.8,324.5 576.6,323.0 576.0,321.4 576.3,319.8 576.8,318.3 576.8,316.8 576.8,315.2 577.2,316.6 577.5,318.1 577.3,319.6 577.8,321.0 577.5,322.6 578.2,323.9 577.8,325.5 578.4,326.9 578.9,328.4 578.5,329.9 578.8,331.3 578.7,332.8 578.8,334.3 578.6,335.8 579.2,337.2 578.8,338.7 579.1,340.2 579.7,341.6 579.4,343.2 579.4,344.7 579.9,346.1 579.7,347.7 580.4,349.1 580.6,350.6 580.2,352.2 580.8,353.6 581.4,352.1 581.3,350.5 580.9,348.9 581.7,347.4 581.3,345.8 581.9,344.3 581.5,342.7 581.5,341.2 581.7,339.6 582.2,338.1 582.6,336.6 582.3,335.0 582.0,333.4 582.5,331.9 582.8,330.4 583.1,328.8 583.1,327.3 582.6,325.7 583.0,324.2 583.5,322.7 583.6,321.1 584.0,319.6 584.0,318.0 584.1,316.5 584.1,314.9 584.0,313.4 583.8,311.8 584.6,310.3 584.4,308.7 584.9,307.2 584.4,305.6 585.2,304.1 585.1,302.6 585.1,301.0 584.8,302.5 585.1,304.0 585.4,305.5 585.4,307.0 585.9,308.5 585.8,310.0 585.6,311.5 586.0,313.0 585.9,314.5 585.8,316.0 585.9,317.5 585.7,319.0 586.2,320.5 586.2,322.0 586.3,323.5 586.5,325.0 586.3,326.6 586.5,328.1 586.3,329.7 587.1,331.1 587.2,332.7 587.1,334.2 587.0,335.8 587.0,337.3 587.5,338.8 587.5,340.4 587.3,341.9 587.7,343.4 587.3,345.0 588.1,346.5 587.6,348.0 588.2,349.5 588.0,351.1 588.3,349.7 588.5,348.2 588.8,346.7 588.9,345.3 588.2,343.7 588.9,342.3 589.3,340.9 589.3,339.4 589.2,337.9 589.6,336.5 589.3,334.9 589.6,333.5 590.1,332.0 589.9,330.4 590.6,328.9 590.0,327.3 590.7,325.8 590.5,324.2 591.2,322.8 591.6,321.2 591.4,319.7 591.9,318.2 591.6,316.5 591.6,315.0 592.2,313.5 592.1,315.0 592.6,316.5 593.1,317.9 592.8,319.5 592.7,321.0 593.6,322.4 593.3,323.9 593.8,325.4 593.8,326.9 594.3,328.4 594.3,330.0 594.5,331.6 594.3,333.2 594.4,334.7 594.3,336.3 594.3,337.9 594.1,339.5 594.2,341.1 594.9,342.6 594.6,344.2 594.4,345.8 595.1,347.3 594.9,348.9 594.6,350.5 595.0,352.0 595.2,353.6 595.1,355.1 595.5,356.6 595.0,358.1 595.2,359.6 595.7,361.1 595.8,362.6 596.1,364.1 595.8,365.6 595.5,367.1 595.6,368.6 596.3,370.1 596.3,371.6 596.4,373.1 596.4,374.6 596.5,376.1 596.3,377.6 596.1,376.0 596.6,374.5 597.0,373.0 597.1,371.5 597.0,369.9 596.8,368.4 597.4,366.9 596.9,365.3 596.9,363.8 597.1,362.2 597.8,360.7 597.8,359.2 597.6,357.6 597.6,356.1 598.1,354.6 598.1,353.0 598.4,351.5 598.2,350.0 598.0,348.4 598.5,346.9 599.2,348.1 599.4,349.5 599.5,350.9 599.7,352.3 600.2,353.6 600.5,352.1 600.3,350.6 601.4,349.3 601.2,347.7 601.5,346.3 601.4,344.8 601.7,343.3 602.2,341.9 602.6,343.4 602.5,344.9 602.4,346.4 603.2,347.8 603.3,349.3 603.5,350.8 603.9,352.3 604.1,353.8 603.9,355.3 603.9,356.9 604.0,358.5 604.7,360.0 605.3,361.5 605.4,363.0 605.2,364.6 605.4,366.1 605.6,367.6 605.2,369.2 606.0,370.7 606.1,372.2 605.6,373.8 606.0,375.3 606.1,376.9 606.4,378.4 606.5,379.9 607.3,381.2 606.7,382.8 607.7,384.0 607.8,385.5 607.8,387.0 608.0,388.4 607.8,390.0 607.9,391.6 608.9,393.1 608.9,394.7 609.1,396.3 609.2,397.9 608.6,399.6 609.5,401.1 609.2,402.7 609.4,404.3 609.2,402.7 609.1,401.1 609.4,399.6 609.4,398.0 609.8,396.4 610.1,394.9 609.9,393.3 609.9,391.7 609.8,390.1 609.8,388.6 610.1,387.0 610.1,385.4 610.6,383.9 610.0,382.3 609.9,380.7 610.0,379.1 610.3,377.6 610.3,376.0 610.5,374.4 611.0,372.9 610.9,371.3 610.9,369.7 611.2,368.2 611.3,366.6 611.0,365.0 611.5,366.5 611.1,368.1 611.8,369.6 611.7,371.2 611.9,372.7 612.1,374.3 612.5,375.8 612.5,377.3 612.2,378.9 612.1,380.5 612.3,382.0 613.3,383.5 613.0,385.1 613.1,386.6 613.6,388.0 613.5,389.5 613.7,391.0 614.2,392.4 614.4,393.8 614.2,395.3 614.4,396.8 614.1,395.2 615.0,393.7 615.1,392.1 614.5,390.5 615.3,389.0 615.5,387.4 614.9,385.8 615.5,384.3 615.5,382.7 615.4,381.1 616.1,379.6 616.0,378.0 616.3,376.4 616.5,374.9 616.7,373.3 616.4,371.7 616.6,370.2 616.8,368.6 616.2,367.1 616.5,365.5 616.6,364.0 616.7,362.5 616.7,360.9 617.1,359.4 617.0,357.8 617.2,356.3 616.9,354.8 617.4,353.2 617.0,351.7 617.6,350.2 617.2,348.6 617.4,350.2 617.7,351.7 617.7,353.3 618.4,354.8 618.1,356.5 618.5,358.0 618.7,359.4 618.7,360.8 619.6,362.1 619.5,363.6 619.7,365.0 619.8,366.5 620.4,368.0 620.0,369.6 620.0,371.1 620.4,372.6 620.5,374.1 620.5,375.6 621.1,377.1 621.2,378.6 621.4,380.1 621.2,381.7 621.5,383.3 622.0,384.8 621.9,386.4 621.9,388.0 622.0,389.6 622.7,391.1 622.9,392.7 622.7,394.3 623.0,392.8 623.1,391.2 623.2,389.7 623.1,388.1 623.1,386.5 623.7,385.0 623.1,383.4 623.3,381.9 623.1,380.3 623.3,378.8 623.9,377.2 624.0,375.7 623.7,374.1 624.2,372.6 623.8,371.0 624.1,369.5 624.4,367.9 624.7,366.4 624.5,364.8 624.9,363.3 624.7,361.7 625.3,360.3 625.5,361.7 625.4,363.2 625.4,364.6 625.8,366.0 625.9,367.4 625.7,368.9 626.7,370.2 626.4,371.7 627.0,373.2 627.1,374.7 627.0,376.2 626.9,377.8 626.9,379.3 627.0,380.8 627.7,382.3 627.1,383.9 627.8,385.3 627.3,386.9 627.8,388.4 627.7,386.9 628.3,385.4 628.2,383.9 627.7,382.4 628.2,380.9 628.2,379.4 628.8,378.0 628.2,376.4 628.4,375.0 628.3,373.5 628.2,372.0 628.8,370.5 628.9,369.0 628.9,367.5 629.3,369.0 628.8,370.5 629.5,372.0 629.0,373.5 629.4,375.0 629.2,376.5 629.8,377.9 629.6,379.5 629.9,380.9 629.9,382.4 630.3,383.9 630.3,385.4 630.7,386.9 630.6,388.4 630.9,389.9 630.6,391.5 631.5,392.9 631.0,394.5 631.2,396.0 631.9,397.4 631.9,399.0 631.7,400.5 632.1,402.0 632.3,403.5 632.4,405.1 632.4,406.7 632.8,408.2 632.1,409.9 632.4,411.4 632.9,413.0 632.9,414.6 632.6,416.2 632.6,417.8 632.9,419.4 633.2,420.9 633.2,422.5 633.1,424.1 632.9,425.7 633.1,427.3 633.6,428.8 633.8,430.4 633.3,432.0 633.7,433.6 633.6,435.2 634.0,433.7 633.4,432.1 634.3,430.6 634.1,429.0 633.7,427.4 633.6,425.8 634.4,424.3 633.8,422.7 633.9,421.2 634.2,419.6 634.1,418.1 634.1,416.5 634.5,415.0 634.7,413.4 634.9,411.9 634.3,410.3 634.4,408.7 634.8,407.2 635.1,405.7 634.7,404.1 635.1,402.5 634.8,401.0 635.5,399.4 635.6,397.9 635.7,396.3 635.3,394.8 635.1,393.2 635.8,391.7 635.6,390.1 635.8,391.6 636.0,393.2 636.1,394.7 635.9,396.3 636.0,397.8 636.4,399.4 636.7,400.9 637.0,402.4 637.2,404.0 636.5,405.6 636.6,407.1 637.6,408.6 637.3,410.2 637.3,411.8 637.1,413.4 637.6,414.9 637.3,416.5 638.2,418.0 637.8,419.6 637.8,421.1 638.6,422.7 638.6,424.2 638.0,425.8 638.8,427.3 638.6,428.9 638.4,430.5 638.7,432.1 639.0,433.6 638.9,435.2 639.5,436.7 639.2,438.3 640.0,439.8 639.9,441.4 640.0,443.0 640.0,444.5 640.8,446.0 640.9,447.6 640.8,449.2 641.1,450.7 640.6,452.4 641.2,453.9 641.3,455.4 641.5,457.0 641.6,455.5 642.2,454.1 642.5,452.7 642.7,451.2 642.1,449.6 642.8,448.2 643.1,446.8 643.1,445.3 643.5,443.8 643.3,442.2 643.3,440.7 643.1,439.1 643.0,437.6 643.1,436.0 643.4,434.5 643.8,432.9 643.6,431.4 643.8,429.8 643.6,428.3 644.3,426.8 644.3,425.2 643.8,423.6 644.0,422.1 643.8,420.5 644.1,419.0 644.0,417.5 644.5,415.9 644.2,414.4 644.6,412.8 644.1,411.3 644.8,409.7 644.8,408.2 644.5,406.6 644.8,405.1 645.2,403.6 645.5,402.1 645.7,400.6 645.7,399.1 645.6,397.6 645.9,396.1 646.2,394.6 646.0,393.1 646.7,391.6 646.5,390.1 647.1,388.8 647.3,387.3 647.6,385.9 647.3,384.4 648.3,383.2 648.3,381.7 648.5,380.2 649.0,378.8 649.3,377.3 649.4,375.8 649.9,374.4 650.3,372.9 650.3,371.4 650.0,373.0 651.0,374.4 650.4,376.0 650.7,377.5 651.0,379.0 651.0,380.6 651.5,382.0 651.6,383.6 651.7,385.1 652.2,386.6 651.6,388.2 651.8,389.8 652.2,391.3 652.2,392.9 652.1,394.4 652.8,395.9 652.6,397.5 652.6,399.1 652.8,400.6 652.6,402.2 653.4,403.7 653.1,405.3 653.4,406.8 653.4,408.3 654.1,409.6 653.9,411.2 654.6,412.5 655.1,413.9 655.4,415.3 655.4,416.8 655.7,418.3 655.3,419.8 655.6,421.3 655.8,422.8 656.1,424.3 656.5,425.7 656.5,427.2 656.7,428.7 657.0,430.2 657.5,428.7 657.1,427.1 657.3,425.6 657.7,424.1 657.9,422.6 657.9,421.0 657.5,419.4 658.1,417.9 657.8,416.4 658.0,414.9 658.1,413.3 658.4,411.8 658.1,410.3 658.3,408.8 659.0,407.3 659.2,405.9 658.8,404.3 659.7,402.9 659.4,401.4 659.8,399.9 659.7,398.4 660.2,399.9 660.3,401.4 659.8,403.0 660.6,404.4 660.8,406.0 660.4,407.5 661.1,409.0 660.9,410.5 660.6,412.1 661.4,413.6 661.2,415.1 661.1,416.6 661.2,418.0 661.3,419.5 661.8,420.9 661.8,422.4 662.6,423.7 662.5,425.2 662.5,426.8 662.4,428.3 662.5,429.9 663.2,431.4 662.8,433.0 663.3,434.6 663.3,436.1 663.1,437.7 663.4,439.3 663.8,440.8 663.4,442.4 663.5,443.9 663.7,445.5 664.5,447.0 664.2,448.6 664.7,450.1 664.3,451.7 664.9,453.2 665.0,454.8 664.4,456.4 665.2,457.9 665.1,459.5 665.2,461.0 664.8,462.6 664.9,464.2 665.1,465.7 665.5,467.3 665.9,468.8 665.3,470.4 666.0,471.9 665.9,473.5 666.1,471.9 666.3,470.3 666.2,468.7 666.6,467.2 666.7,465.6 666.3,464.0 666.7,462.4 666.2,460.8 666.6,459.2 666.9,457.7 666.6,456.0 666.8,454.5 667.2,452.9 666.8,451.3 667.5,449.7 666.9,448.1 667.0,446.5 667.5,445.0 667.2,443.4 667.8,441.8 667.6,440.2 668.1,441.4 668.7,442.5 668.7,443.8 669.2,445.0 669.3,443.5 669.6,441.9 669.2,440.4 669.3,438.8 669.6,437.3 669.9,435.8 669.8,434.2 669.9,432.7 670.6,431.2 670.2,429.6 670.4,428.1 671.0,426.6 671.2,425.1 670.9,423.5 671.4,422.1 671.1,420.6 672.0,419.3 671.7,417.8 672.6,416.6 672.6,415.1 672.7,413.7 672.9,412.3 673.3,410.9 673.4,409.5 674.1,408.2 674.2,406.8 674.0,408.4 674.3,409.9 674.3,411.4 675.0,412.9 675.1,414.5 674.7,416.1 675.3,417.6 675.0,419.1 675.3,420.7 675.8,422.2 675.9,423.7 675.4,425.3 675.9,426.8 676.4,425.3 676.3,423.8 676.0,422.3 676.1,420.8 677.1,419.3 677.2,417.8 677.3,416.3 677.0,414.8 677.8,413.3 677.6,411.8 677.4,410.2 678.2,408.8 678.4,407.3 678.4,405.7 679.0,404.3 678.7,402.6 679.6,401.2 679.8,399.7 679.5,398.1 679.7,396.6 680.1,395.1 680.8,393.9 680.8,392.6 681.5,391.4 681.8,390.1 683.1,389.7 684.3,389.0 684.0,390.5 684.4,392.0 684.9,393.5 685.0,395.0 685.4,396.5 684.9,398.1 685.0,399.6 685.7,401.1 685.6,402.6 685.6,401.1 685.6,399.6 685.6,398.1 685.5,396.5 686.1,395.0 686.5,393.5 685.8,392.0 686.4,390.5 686.5,389.0 686.4,387.5 686.7,386.0 686.4,384.4 686.7,382.9 686.3,381.4 686.4,379.9 686.8,378.4 686.9,376.9 687.2,375.3 686.9,373.8 687.4,372.3 687.1,370.7 687.1,369.2 687.5,367.7 687.6,366.1 687.7,364.6 687.5,363.0 687.2,361.5 687.3,360.0 687.6,358.4 687.6,356.9 687.5,355.4 688.0,354.1 688.7,352.8 688.5,351.3 689.1,350.0 689.3,348.6 689.3,347.1 689.3,345.5 689.6,344.0 689.7,342.5 689.8,340.9 690.0,339.4 690.7,337.9 690.5,336.3 690.6,334.8 690.5,333.2 690.7,331.7 691.0,330.2 690.8,331.8 691.4,333.3 691.6,334.9 691.5,336.4 691.4,338.0 691.2,339.6 691.4,341.1 691.9,342.7 692.3,344.2 691.7,345.8 692.6,347.3 692.2,348.9 692.0,350.5 692.7,352.0 692.6,353.6 692.7,352.1 692.6,350.6 692.9,349.0 692.7,347.5 693.3,346.0 693.4,344.5 693.0,342.9 693.0,341.4 693.3,339.9 693.6,338.4 693.8,336.9 694.0,338.4 693.8,340.0 694.1,341.5 694.6,343.0 694.7,344.6 694.5,346.1 694.8,347.6 694.3,349.2 694.5,350.8 694.5,352.3 694.8,353.8 695.3,355.3 695.1,356.9 695.7,355.6 695.6,354.1 695.8,352.7 696.1,351.3 696.8,350.0 696.8,348.5 697.4,346.9 697.3,345.4 697.3,343.8 697.2,342.3 697.3,340.7 697.8,339.2 698.0,337.7 697.5,336.1 697.8,334.6 697.8,333.0 697.7,331.5 698.0,329.9 697.8,328.4 698.5,326.9 698.2,325.3 698.6,323.8 698.8,322.2 698.4,320.7 699.1,319.2 698.8,317.6 698.5,319.2 699.1,320.8 699.6,322.3 699.2,324.0 699.3,325.6 699.9,327.1 699.5,328.8 700.1,330.3 700.3,331.9 700.2,333.5 700.0,331.9 700.6,330.4 700.8,328.9 700.9,327.4 700.7,325.8 700.8,324.3 700.7,322.7 701.0,321.2 701.2,319.7 701.3,318.1 701.3,316.6 701.8,315.1 702.0,316.7 702.4,318.2 702.1,319.8 702.6,321.3 702.4,322.9 702.7,324.4 702.8,326.0 702.4,327.6 703.0,329.1 702.5,330.7 702.7,332.3 702.8,333.8 703.0,335.4 702.9,337.0 703.2,338.5 703.6,339.9 703.7,341.3 704.2,342.6 704.4,344.0 704.2,345.5 704.3,346.9 704.3,348.4 704.2,350.0 704.5,351.5 705.3,352.9 704.7,354.5 705.3,356.0 705.5,357.5 705.8,359.0 706.1,360.5 705.9,362.1 706.0,363.6 706.1,365.1 705.9,366.5 706.2,368.0 706.7,369.4 706.4,370.9 706.3,372.4 706.9,373.8 707.0,375.2 706.9,376.7 706.8,375.1 707.5,373.6 706.8,372.0 707.3,370.4 707.1,368.8 707.5,367.3 707.4,365.7 707.2,364.1 707.9,362.6 707.7,361.0 707.7,359.4 708.2,360.9 708.1,362.4 708.3,363.9 708.2,365.4 708.5,366.9 708.1,368.5 708.3,370.0 708.6,371.5 708.8,373.0 708.5,374.5 708.8,376.0 708.6,377.6 708.6,379.1 708.8,380.6 708.7,382.1 709.4,383.6 709.3,385.1 709.2,386.6 709.8,387.9 709.6,389.4 710.0,390.8 710.5,392.2 710.7,393.6 710.7,395.1 711.2,393.6 711.0,392.1 710.8,390.6 711.3,389.2 711.0,387.6 711.1,386.1 711.4,384.7 712.0,383.2 711.9,381.7 712.3,383.2 711.8,384.8 712.7,386.3 712.6,387.9 713.0,389.5 712.5,391.1 712.7,392.6 712.7,394.2 712.8,395.8 712.9,397.3 713.4,398.9 713.6,400.4 713.5,402.0 713.8,403.5 713.9,405.1 713.7,403.5 714.1,402.0 714.1,400.5 714.7,399.0 714.1,397.4 714.8,395.9 714.9,394.4 715.2,392.9 715.0,391.3 715.2,389.8 714.8,388.2 715.6,386.7 715.0,385.2 715.6,383.7 715.3,382.1 715.5,380.6 716.0,379.1 715.8,377.5 716.2,376.0 715.9,374.4 715.9,372.9 716.4,371.4 716.6,372.9 716.6,374.5 716.4,376.1 716.5,377.7 717.1,379.2 716.7,380.8 717.1,382.3 717.6,383.8 717.4,385.4 717.3,387.0 717.4,388.6 717.7,390.1 718.1,391.7 717.5,393.3 717.9,394.8 718.5,396.4 718.4,398.0 718.0,399.6 718.8,401.1 718.6,402.7 718.4,404.3 719.0,405.9 718.5,407.5 718.8,409.0 719.1,410.6 718.7,412.2 719.5,413.7 719.5,415.3 719.1,416.9 719.4,418.5 719.6,417.0 719.3,415.4 719.5,413.8 720.0,412.3 719.5,410.7 719.5,409.2 719.9,407.6 719.7,406.1 720.2,404.5 719.9,403.0 720.0,401.4 720.4,399.9 720.8,398.3 720.5,396.8 721.0,395.2 721.1,393.7 720.9,392.1 720.8,390.6 720.7,389.0 720.5,387.4 721.0,385.9 721.2,387.5 721.7,389.0 721.6,390.6 721.9,392.1 722.0,393.7 722.2,395.3 722.4,396.8 722.7,398.4 722.4,400.0 722.8,401.6 723.3,403.2 722.7,404.8 722.9,406.4 723.3,408.0 723.3,409.6 723.3,411.2 723.5,412.8 723.4,414.4 723.1,416.0 724.1,417.5 723.4,419.2 723.4,420.8 723.6,422.3 724.0,423.9 723.9,425.5 724.2,427.1 724.4,428.7 724.6,430.3 724.4,431.9 724.9,432.9 725.0,434.1 725.2,435.2 725.1,433.6 725.0,432.0 725.4,430.5 725.2,428.9 725.7,427.3 725.1,425.7 725.3,424.1 725.5,422.6 725.4,421.0 726.0,419.4 725.7,417.8 725.4,416.3 725.6,414.7 726.1,413.1 725.8,411.5 725.8,409.9 725.8,408.4 726.1,406.8 725.8,405.2 726.6,403.8 726.4,402.2 726.5,400.7 726.5,399.2 727.0,397.7 727.3,396.2 727.7,394.7 727.8,393.2 727.1,391.6 727.7,390.1 727.8,388.6 727.9,387.1 728.1,385.6 728.1,384.2 728.7,382.7 728.5,381.2 728.5,379.7 729.1,378.2 728.8,376.7 728.5,375.2 729.1,373.8 729.6,372.3 729.4,370.8 729.4,369.3 729.9,370.8 729.5,372.4 730.5,373.9 729.9,375.5 730.8,377.0 730.4,378.6 731.2,380.1 731.1,381.7 731.6,383.2 731.6,384.7 731.5,386.3 731.5,387.8 731.8,389.3 732.4,390.8 731.7,392.4 732.0,393.9 732.5,395.4 733.0,396.8 732.7,398.4 732.7,396.8 733.2,395.3 733.3,393.7 732.6,392.1 732.7,390.6 733.5,389.0 732.9,387.5 733.3,385.9 733.6,384.4 733.6,382.8 733.6,381.2 733.5,379.7 733.7,378.1 733.2,376.5 733.9,375.0 733.6,373.4 733.4,371.8 733.4,370.3 734.0,368.8 734.3,367.2 734.1,365.7 734.0,364.1 733.6,362.6 734.1,361.0 733.8,359.5 734.2,357.9 734.1,356.4 733.9,354.8 734.3,353.3 734.6,351.8 734.4,350.2 734.7,348.6 734.3,347.0 735.2,345.5 735.3,343.9 734.9,342.2 735.6,340.7 735.0,339.0 735.3,337.5 735.9,335.9 735.3,334.3 735.8,332.7 736.0,334.2 736.4,335.7 736.3,337.2 736.2,338.7 735.8,340.3 736.1,341.8 736.6,343.3 736.1,344.8 736.2,346.3 736.7,347.8 736.8,349.3 736.4,350.9 736.3,352.4 737.0,353.9 737.0,355.4 736.9,356.9 736.9,355.4 737.7,354.0 737.0,352.4 737.2,350.9 737.5,349.4 737.9,348.0 738.5,346.5 738.3,345.0 738.1,343.5 739.0,342.2 739.0,340.8 739.6,339.5 739.9,338.1 739.9,336.6 739.9,335.2 740.0,333.8 740.9,332.6 740.5,331.1 741.7,329.9 741.6,328.5 741.8,330.0 742.0,331.6 741.5,333.2 741.9,334.7 742.1,336.2 742.3,337.8 742.3,339.3 742.5,340.8 742.3,342.4 742.5,343.9 742.7,345.5 743.1,347.0 743.0,348.6 742.5,350.1 742.7,351.7 742.6,353.2 743.4,354.7 742.7,356.3 742.9,357.9 743.3,359.4 743.3,357.9 743.9,356.4 744.1,355.0 744.0,353.5 743.9,351.9 744.3,350.5 743.7,348.9 743.8,347.4 743.9,345.9 744.6,344.5 744.9,343.0 744.3,341.5 744.7,340.0 744.5,338.5 745.4,337.1 745.5,335.6 745.0,334.1 745.1,332.6 745.4,331.2 745.6,329.7 745.5,328.2 746.1,326.8 746.6,328.3 746.1,329.8 746.9,331.2 746.7,332.8 746.6,334.3 746.7,335.8 747.2,337.2 747.5,338.7 747.3,340.2 747.7,338.8 748.0,337.4 748.6,336.0 748.7,337.5 749.0,339.0 748.9,340.5 748.5,342.1 749.5,343.5 749.4,345.0 748.9,346.6 749.3,348.1 749.2,349.6 749.9,351.0 749.2,352.6 750.2,354.1 749.6,355.6 750.1,357.1 750.0,358.6 750.0,360.2 750.2,361.8 750.4,363.4 750.5,365.0 751.3,366.5 751.0,368.2 751.4,369.7 752.0,371.2 752.2,372.8 752.5,374.4 752.0,376.1 752.7,377.6 752.8,379.2 752.7,377.6 752.6,376.1 753.3,374.5 753.1,372.9 752.8,371.4 753.4,369.8 753.3,368.2 753.6,366.7 753.6,365.1 753.4,363.5 753.4,362.0 753.9,360.4 753.3,358.8 753.3,357.3 754.1,355.7 754.0,354.1 754.3,352.6 754.0,351.0 754.4,349.5 754.0,347.9 753.7,346.3 754.3,344.7 754.0,343.2 754.2,341.6 754.3,340.0 754.3,338.5 754.5,336.9 754.6,338.4 754.7,340.0 755.3,341.5 754.6,343.1 755.3,344.6 755.0,346.1 755.5,347.7 755.8,349.2 755.8,350.7 756.0,352.3 756.0,353.8 755.8,355.4 756.1,356.9 756.0,358.4 756.5,359.9 756.1,361.5 756.2,363.0 756.7,364.5 756.4,366.0 756.9,367.5 756.4,369.1 756.8,370.6 756.6,372.1 756.3,373.7 756.6,375.2 756.8,376.7 756.9,375.1 757.0,373.5 756.8,371.9 757.0,370.4 756.7,368.8 757.2,367.2 757.7,365.7 757.3,364.1 757.6,362.5 757.8,360.9 757.5,359.3 757.2,357.7 758.0,356.2 757.7,354.6 757.7,353.0 757.4,351.4 758.0,349.8 758.2,348.3 758.0,346.7 757.7,345.1 758.3,343.5 757.9,341.9 758.1,340.3 758.0,338.8 758.4,337.2 758.5,335.6 758.5,334.0 758.2,332.4 758.3,330.9 758.4,329.3 758.7,327.7 759.1,328.8 759.2,330.1 760.0,331.0 760.0,332.5 759.9,334.0 760.6,335.4 760.8,336.9 760.4,338.4 760.8,339.8 760.8,341.3 760.5,342.8 761.2,344.3 760.6,345.8 761.1,347.2 761.0,348.7 761.2,350.2 761.7,351.8 761.8,353.3 761.3,354.9 761.9,356.5 761.5,358.1 761.8,359.6 761.9,361.2 761.4,362.8 761.6,364.4 762.2,365.9 762.2,367.5 762.3,369.1 762.6,370.7 761.9,372.3 762.3,373.8 762.3,375.4 762.6,377.0 762.9,378.5 762.6,380.1 762.8,381.7 763.2,383.2 762.7,384.8 762.9,386.3 763.0,387.8 763.8,389.3 763.9,390.8 763.6,392.4 764.1,393.8 764.1,395.4 764.2,396.9 764.5,398.4 764.9,400.0 764.8,401.6 765.2,403.1 765.4,404.7 764.7,406.3 765.0,407.9 765.2,409.4 765.7,411.0 765.7,412.6 765.3,414.2 765.4,415.8 765.8,417.3 765.6,418.9 766.2,420.5 766.0,422.1 766.2,423.6 766.5,425.2 766.4,423.6 767.1,422.2 766.4,420.6 766.7,419.1 767.0,417.5 767.5,416.0 767.1,414.5 767.0,412.9 767.7,411.4 767.7,409.9 767.4,408.3 767.8,406.8 768.2,405.3 768.1,403.8 768.3,402.3 768.9,400.9 769.0,399.4 769.4,397.9 769.3,396.4 769.2,394.9 769.5,393.4 769.9,392.0 770.2,390.6 770.6,389.2 771.5,388.0 772.0,386.7 771.8,385.2 772.3,383.7 772.1,382.1 772.5,380.6 773.0,379.1 772.7,377.6 773.3,376.1 772.8,374.5 772.8,373.0 773.5,371.5 773.4,370.0 773.7,371.5 773.6,372.9 773.9,374.4 774.3,375.8 774.5,377.3 774.9,378.7 774.4,380.3 775.0,381.7 774.8,380.2 775.2,378.7 775.7,377.2 775.7,375.7 775.9,374.2 775.7,372.7 775.5,371.1 776.1,369.7 775.5,368.1 776.4,366.6 776.1,365.1 776.2,363.6 776.5,362.1 776.8,360.5 776.6,359.0 777.0,357.4 777.2,355.9 777.0,354.3 777.5,352.8 777.0,351.2 777.1,349.7 777.7,348.2 777.9,346.6 777.7,345.0 777.9,343.5 777.6,341.9 778.0,340.4 777.9,338.8 777.9,337.2 778.1,335.6 778.6,334.1 778.5,332.5 778.9,331.0 778.5,329.3 778.9,327.8 778.7,326.2 778.8,324.6 778.8,323.1 779.4,321.5 779.1,319.9 779.6,318.4 779.5,316.8 779.8,315.3 779.7,313.7 779.9,312.2 780.0,310.6 779.6,309.0 780.3,307.5 780.1,306.0 780.5,304.4 779.9,302.8 780.0,301.3 780.6,299.8 780.4,298.2 781.1,296.7 780.7,295.1 780.7,293.6 780.9,292.2 781.0,290.7 781.3,289.2 781.2,287.7 782.0,286.3 781.5,284.8 782.2,283.4 782.4,281.9 782.0,280.4 782.5,279.0 782.4,277.5 782.1,279.0 783.0,280.5 782.3,282.1 782.9,283.6 783.0,285.1 782.7,286.7 783.4,288.1 783.6,289.7 782.9,291.2 783.8,292.7 783.4,294.3 783.5,295.8 783.8,297.3 783.5,298.8 783.6,300.4 784.4,301.8 784.1,303.4 784.1,304.9 783.9,306.5 784.4,308.0 784.8,309.5 784.4,311.1 785.0,312.6 784.8,314.1 784.8,315.7 785.1,317.2 784.9,318.7 784.7,320.3 785.1,321.8 785.2,320.2 785.3,318.7 785.0,317.1 785.0,315.6 785.5,314.0 785.3,312.5 785.8,310.9 785.4,309.4 785.7,307.8 785.9,306.3 786.2,304.7 785.6,303.2 786.4,301.6 785.9,300.1 786.6,298.5 786.6,297.0 786.7,295.4 786.9,293.9 786.2,292.3 786.5,290.7 786.7,289.2 786.7,290.7 787.0,292.2 786.8,293.7 786.7,295.2 787.4,296.7 787.3,298.2 786.9,299.8 787.5,301.2 787.8,302.7 787.3,304.3 787.8,305.8 787.6,307.3 788.1,308.8 787.8,310.3 787.9,311.8 787.7,313.3 788.2,314.8 788.3,316.3 788.1,317.9 788.4,319.4 788.6,320.9 789.0,322.4 788.6,324.0 788.6,325.5 789.4,326.9 789.1,328.5 789.3,330.1 789.1,331.7 789.6,333.2 789.0,334.8 789.8,336.4 789.7,337.9 789.6,339.5 789.9,341.1 789.3,342.7 789.7,344.3 789.9,345.8 789.8,347.4 789.7,349.0 790.0,350.6 789.9,352.1 790.0,353.7 790.3,355.3 790.5,356.8 790.7,358.4 790.4,360.0 790.3,361.6 790.6,363.2 790.2,364.8 790.9,366.3 790.5,367.9 790.9,369.5 791.2,371.1 791.0,372.7 790.9,374.3 790.9,375.8 791.3,377.4 791.5,379.0 791.6,380.6 791.3,382.2 791.3,383.8 791.1,385.4 791.6,386.9 791.8,388.5 791.7,390.1 791.5,391.7 791.8,393.2 791.8,394.7 792.5,396.2 791.9,397.8 792.3,399.3 792.2,400.9 792.8,402.4 793.0,403.9 793.0,405.5 793.1,407.0 793.2,408.5 792.9,410.1 793.0,411.6 793.7,412.9 794.5,414.2 794.1,415.8 795.0,417.1 795.4,418.5 795.5,420.0 795.7,421.4 796.3,422.8 796.1,424.3 796.2,425.7 796.9,427.1 797.1,428.5 797.4,429.9 797.6,431.4 797.4,432.9 797.9,434.4 798.5,435.8 798.8,437.2 798.4,438.8 798.8,440.2 799.2,441.6 798.8,443.1 799.0,444.6 799.5,446.0 799.7,447.5 799.2,449.0 799.8,450.4 799.6,451.9 800.1,450.4 799.8,448.8 799.8,447.2 800.3,445.7 800.3,444.1 800.4,442.6 800.7,441.0 800.5,439.4 800.2,437.8 800.4,436.3 801.3,434.8 801.1,433.2 800.6,431.6 800.9,430.0 801.3,428.5 801.1,427.0 801.4,425.5 802.0,424.0 802.4,422.6 802.3,421.1 802.4,419.6 802.9,418.1 802.4,416.5 802.9,415.1 804.0,414.3 804.5,413.0 804.9,411.6 804.8,410.1 805.5,408.7 805.2,407.2 805.8,405.8 806.0,404.3 806.1,405.9 806.6,407.5 805.9,409.1 806.7,410.6 806.7,412.2 806.5,413.8 807.0,415.4 807.2,417.0 807.2,418.6 807.1,420.2 807.3,421.7 807.0,423.3 807.4,424.8 807.2,426.4 808.0,427.9 807.5,429.5 807.4,431.0 807.5,432.5 808.2,434.0 808.5,435.6 808.0,437.1 808.4,438.7 808.5,440.2 808.5,441.7 809.1,443.2 808.5,444.8 809.2,446.3 808.8,447.8 809.8,449.3 809.7,450.8 809.7,452.4 809.9,453.9 810.2,455.4 809.6,457.0 810.2,458.5 810.0,460.0 810.5,461.5 810.6,460.0 810.9,458.5 810.9,456.9 810.5,455.4 811.1,453.9 811.3,452.4 811.3,450.9 811.2,449.3 810.9,447.8 811.7,446.3 811.9,444.8 811.2,443.2 811.3,441.7 811.8,440.2 812.1,441.7 812.0,443.2 812.4,444.7 812.3,446.3 812.5,447.8 812.9,449.3 813.1,450.8 813.3,452.3 813.7,453.8 813.8,455.3 813.7,453.7 814.5,452.3 814.0,450.7 814.7,449.2 814.5,447.6 814.9,446.1 815.0,444.6 815.3,443.1 815.4,441.5 815.1,440.0 815.7,438.5 815.5,436.9 815.4,438.4 815.8,439.8 816.3,441.2 815.8,442.8 816.2,444.2 816.7,445.6 817.0,447.1 816.7,448.6 817.2,450.0 817.5,448.5 817.4,447.0 818.0,445.5 818.2,444.0 818.0,442.5 818.3,441.0 818.2,439.4 818.1,437.9 818.7,436.4 818.7,434.9 819.0,433.4 818.8,431.9 819.0,433.4 818.6,435.0 818.9,436.5 818.9,438.0 818.9,439.5 819.3,441.0 819.1,442.6 819.1,444.1 819.1,445.6 819.5,447.1 820.1,448.6 820.0,450.2 820.1,451.7 820.3,453.2 820.1,454.7 820.0,456.3 820.2,457.8 820.8,456.3 820.1,454.7 821.0,453.3 820.7,451.7 821.1,450.2 821.2,448.7 820.9,447.1 821.3,445.6 821.5,444.1 821.2,442.6 821.9,441.1 822.0,439.5 821.3,438.0 822.2,436.5 821.9,434.9 822.5,433.5 822.2,431.9 821.9,430.3 822.8,428.9 822.6,427.3 822.6,425.8 822.9,424.3 823.4,422.8 823.2,421.2 823.3,419.7 823.9,418.2 824.0,416.7 823.8,415.1 823.8,413.6 824.3,412.2 824.4,410.8 824.5,409.3 824.7,407.9 824.9,406.5 825.5,405.1 825.5,403.5 826.1,402.1 826.3,400.6 827.1,399.1 827.2,397.6 827.7,399.2 827.7,400.8 827.3,402.4 827.8,404.0 828.3,405.5 827.8,407.2 828.7,408.7 828.6,410.3 828.9,411.9 828.8,413.5 828.9,415.1 829.1,416.6 828.8,418.2 829.4,419.6 829.2,421.2 829.3,422.7 830.3,424.1 830.4,425.6 829.9,427.2 830.5,428.7 830.5,430.2 830.6,428.7 830.9,427.1 830.9,425.6 831.4,424.1 830.8,422.5 831.1,421.0 831.1,419.4 831.4,417.9 832.2,416.4 831.5,414.8 832.1,413.3 832.2,411.8 832.1,410.3 832.8,408.8 832.5,407.3 833.2,405.9 833.2,404.4 833.7,402.9 833.1,401.3 833.7,399.9 833.9,398.4 833.7,400.0 834.2,401.4 834.5,402.9 834.2,404.5 834.4,406.0 834.6,407.5 835.2,409.0 835.4,410.5 835.4,412.0 835.7,413.5 835.1,415.1 836.0,416.6 836.0,418.1 835.7,419.7 835.5,421.2 835.5,422.7 835.9,424.3 835.8,425.8 836.3,427.3 836.2,428.8 836.1,430.4 836.4,431.9 836.2,430.3 836.7,428.7 836.5,427.2 836.2,425.6 836.6,424.0 837.0,422.4 837.1,420.8 837.0,419.2 837.1,417.7 836.9,416.1 836.9,414.5 837.0,412.9 837.1,411.3 837.0,409.7 837.6,408.2 837.5,406.6 837.1,405.0 837.1,403.4 837.5,401.8 837.7,400.3 837.8,398.7 837.6,397.1 837.8,395.5 837.9,393.9 837.6,392.3 838.2,390.8 837.8,389.2 838.0,387.6 838.5,389.0 838.6,390.5 838.3,392.0 838.5,393.5 838.3,395.0 838.4,396.5 839.2,397.9 838.8,399.4 839.0,400.9 839.3,402.4 839.0,403.9 839.9,405.3 839.7,406.8 840.0,408.3 840.2,409.8 840.5,411.2 840.4,412.8 840.3,414.3 840.9,415.7 841.4,417.2 841.4,418.7 841.4,420.2 841.3,421.7 841.7,423.2 842.2,424.7 842.2,426.3 842.1,427.8 842.4,429.3 842.7,430.9 842.6,432.4 843.0,433.9 842.5,435.5 843.1,437.0 843.1,438.5 843.4,439.9 843.5,441.4 843.8,442.8 843.6,444.3 844.6,445.7 844.5,447.2 844.7,448.6 845.2,450.0 845.5,451.4 845.1,453.0 845.6,454.4 845.5,455.9 845.9,457.3 846.5,458.7 846.3,460.2 846.0,458.6 846.0,457.0 846.6,455.5 846.5,453.9 846.5,452.3 846.6,450.8 846.7,449.2 847.2,447.6 847.3,446.1 847.3,444.5 847.3,442.9 846.8,441.3 847.1,439.8 847.6,438.2 847.1,436.6 847.7,435.1 847.2,433.5 847.6,431.9 847.9,430.3 847.5,428.7 847.6,427.1 848.3,425.5 847.6,423.9 848.3,422.3 847.8,420.7 847.9,419.1 847.8,417.5 847.8,415.9 848.2,414.3 848.3,412.8 848.2,411.2 848.0,409.5 848.9,408.0 848.9,406.4 848.8,404.8 848.4,403.2 848.5,401.6 848.8,400.0 848.9,398.4 849.1,396.9 849.7,395.4 850.2,394.0 850.9,392.6 850.8,394.2 851.1,395.8 851.6,397.3 851.1,399.0 851.6,400.5 851.6,402.1 851.8,403.7 852.2,405.2 852.3,406.8 852.5,408.3 852.7,409.8 853.2,411.2 852.6,412.8 853.3,414.2 853.8,415.7 853.9,417.2 853.8,418.7 853.9,420.2 854.3,418.7 854.2,417.1 854.2,415.6 854.9,414.1 854.3,412.5 854.7,411.0 855.4,409.6 855.2,408.0 855.5,409.4 855.7,410.8 856.3,412.2 856.1,413.7 856.4,415.1 856.7,413.6 856.9,412.0 856.3,410.5 856.8,408.9 857.1,407.4 857.3,405.9 856.7,404.3 856.8,402.8 857.6,401.3 857.2,399.7 857.3,398.2 857.7,396.7 857.6,395.1 857.4,393.5 857.4,391.9 857.9,390.3 858.0,388.8 858.3,387.2 857.7,385.6 858.2,384.0 857.8,382.4 858.3,380.8 858.4,379.3 858.3,377.7 858.3,376.1 858.4,374.5 858.8,372.9 858.9,371.4 858.7,369.8 859.0,368.2 858.8,366.6 858.9,365.0 858.9,363.5 859.1,362.0 859.1,360.6 859.1,359.1 859.1,357.6 859.5,356.1 859.1,354.6 859.4,353.2 859.0,351.7 859.4,350.2 860.0,348.7 859.4,347.1 860.2,345.7 859.8,344.1 860.5,342.6 860.0,341.0 860.5,339.6 860.4,338.0 861.0,336.5 861.3,335.0 861.4,333.5 861.9,335.0 861.6,336.6 861.8,338.1 861.5,339.7 862.0,341.2 862.5,342.7 862.4,344.3 861.9,345.9 862.4,347.4 862.6,349.0 862.8,350.5 862.9,352.0 862.8,353.6 862.7,352.1 863.2,350.6 863.0,349.1 863.2,347.6 863.4,346.1 863.7,344.6 864.5,343.2 864.0,341.7 864.5,340.2 865.0,341.7 864.3,343.3 864.8,344.8 864.5,346.3 864.7,347.8 865.1,349.3 865.3,350.8 865.7,352.3 865.5,353.9 865.7,355.4 865.6,356.9 865.8,358.4 865.5,359.9 865.8,361.4 865.6,363.0 865.9,364.5 865.9,366.0 866.7,367.4 866.4,369.0 866.2,370.5 866.4,372.0 866.4,373.5 866.8,375.0 867.0,376.6 867.3,378.1 867.0,379.7 867.1,381.2 867.0,382.8 867.4,384.4 867.0,385.9 867.2,387.5 867.4,389.1 867.4,390.6 867.3,392.2 868.2,393.7 868.1,395.3 868.1,396.8 868.1,398.4 868.1,396.8 868.4,395.3 868.2,393.7 868.2,392.2 868.0,390.6 868.1,389.1 868.5,387.5 868.5,386.0 868.4,384.4 868.3,382.9 868.4,381.3 868.6,379.8 868.9,378.2 868.8,376.6 869.0,375.1 869.4,373.6 869.2,372.0 868.9,370.5 869.4,368.9 869.6,367.4 869.8,365.9 869.9,364.4 869.2,362.8 869.2,361.3 869.8,359.8 869.7,358.3 870.1,356.7 869.8,355.2 869.8,356.7 869.7,358.3 870.5,359.8 870.2,361.3 870.5,362.8 870.6,364.3 870.8,365.9 870.1,367.4 870.7,368.9 870.4,370.5 870.8,372.0 870.6,373.5 870.7,375.0 871.2,376.4 870.9,377.9 871.3,379.4 870.9,380.9 871.3,382.4 871.2,383.9 871.2,385.3 871.7,386.8 871.7,385.2 871.8,383.6 871.6,382.0 872.4,380.5 872.3,378.9 872.0,377.3 872.5,375.7 872.9,374.2 873.0,372.6 873.2,371.0 872.7,369.4 872.7,367.8 872.6,366.2 872.9,364.6 873.1,363.0 873.5,361.5 873.0,359.8 874.0,358.3 873.7,356.7 873.7,358.2 873.6,359.8 874.2,361.3 874.2,362.8 873.9,364.4 874.8,365.8 874.9,367.4 875.0,368.9 875.0,370.4 875.2,372.0 875.0,373.5 875.6,375.0 875.6,376.5 875.6,378.0 875.8,379.5 875.9,381.0 876.0,382.5 876.0,384.0 876.3,385.5 876.1,387.0 876.7,388.5 876.4,390.1 876.5,391.6 877.0,393.2 877.3,394.7 877.2,396.2 877.3,397.8 877.3,399.4 877.0,400.9 877.4,402.5 877.2,404.0 878.0,405.5 877.7,407.1 878.1,408.6 878.0,410.2 878.6,411.6 878.8,413.0 878.6,414.5 879.0,415.9 879.0,417.4 879.4,418.8 879.2,420.3 878.9,418.7 879.1,417.1 879.7,415.5 879.5,413.9 879.8,412.4 880.1,410.8 879.8,409.2 880.0,407.6 879.7,406.0 879.9,404.4 880.4,402.8 880.5,401.2 880.0,399.6 880.1,398.0 880.4,396.4 880.5,394.9 880.7,393.3 881.1,391.7 880.6,390.1 880.9,388.5 880.7,387.0 880.9,385.5 881.2,384.0 881.4,382.5 881.4,381.0 882.2,379.5 881.9,378.0 882.0,376.5 882.1,375.0 882.5,373.5 882.3,375.1 882.6,376.6 882.6,378.2 883.3,379.7 883.4,381.3 883.3,382.9 883.3,384.4 883.7,386.0 883.8,387.5 884.0,389.1 884.1,390.6 884.2,392.2 884.2,393.8 884.3,395.3 884.2,396.9 884.2,398.4 883.9,400.0 884.4,401.5 884.6,403.1 884.8,404.6 885.1,406.1 884.7,407.7 885.0,409.2 884.9,410.8 885.2,412.3 885.5,413.8 885.5,415.4 885.4,416.9 885.2,415.3 885.4,413.8 886.1,412.2 885.5,410.6 885.9,409.1 886.3,407.5 885.9,405.9 885.9,404.3 885.8,402.8 885.9,401.2 886.7,399.7 886.3,398.1 886.3,396.5 886.1,394.9 886.8,393.4 886.7,391.8 887.3,393.2 887.2,394.7 887.2,396.2 887.4,397.6 887.6,399.1 888.4,400.4 888.4,401.9 889.0,403.2 889.3,404.6 889.4,406.0 889.7,407.4 890.1,408.8 890.1,410.2 890.6,411.7 890.4,413.3 890.6,414.8 891.0,416.3 890.5,417.9 891.3,419.4 891.1,420.9 891.3,422.5 891.4,424.0 891.3,425.5 891.6,427.1 891.7,428.6 891.8,430.1 891.9,431.6 892.6,433.0 892.0,434.5 892.6,435.9 892.8,437.4 892.8,438.9 893.4,440.4 893.4,441.9 893.3,443.5 893.9,444.9 893.8,446.5 893.7,448.0 894.2,449.5 894.4,451.0 894.4,452.5 894.8,454.0 894.6,455.6 895.3,457.0 894.8,458.6 895.1,460.1 895.6,461.6 895.9,463.1 896.0,464.6 896.0,466.2 895.9,467.7 896.3,469.2 896.7,470.7 896.9,472.2 896.2,473.8 897.1,475.2 896.9,476.8 897.8,477.6 899.0,477.8 899.5,476.4 899.4,474.9 899.7,473.4 900.0,472.0 900.2,470.5 900.2,469.0 900.5,467.6 900.8,466.1 900.3,464.6 900.7,463.1 901.2,461.7 901.1,460.2 901.7,458.8 901.9,457.2 902.9,455.9 902.5,454.1 903.0,452.7 903.5,451.2 904.2,449.8 904.2,448.2 904.8,446.7 904.9,445.2 904.8,443.7 904.6,442.1 905.2,440.6 904.7,439.0 905.0,437.5 905.3,435.9 905.1,434.4 905.5,432.9 905.8,431.3 905.4,429.8 905.8,428.2 905.3,426.7 906.2,425.2 905.9,423.6 906.0,422.0 906.0,420.5 906.7,418.9 906.0,417.3 906.5,415.8 907.0,414.3 906.6,412.7 906.6,411.1 906.9,409.6 907.2,408.0 906.9,406.4 907.7,404.9 907.7,403.3 907.7,401.8 907.6,400.2 907.8,398.7 907.8,397.1 907.8,395.5 908.0,394.0 908.2,392.5 908.2,390.9 908.5,389.4 908.2,387.8 909.1,386.3 909.1,384.8 909.3,383.2 908.8,381.6 909.3,380.1 909.6,381.6 909.7,383.2 909.5,384.8 909.2,386.3 909.8,387.9 909.5,389.5 910.3,391.0 909.8,392.6 910.1,394.1 910.2,395.7 910.0,397.2 909.9,398.8 909.9,400.4 910.4,401.9 910.6,403.4 910.7,404.9 910.9,406.5 911.4,407.9 911.1,409.5 911.1,411.0 911.1,412.6 911.9,414.0 911.7,415.6 911.7,417.1 912.1,418.6 911.9,417.0 912.1,415.4 912.3,413.9 912.7,412.3 912.9,410.8 912.6,409.2 912.9,407.6 913.4,406.1 913.5,404.5 913.5,402.9 913.2,401.3 913.6,399.8 913.5,398.2 913.6,396.6 913.6,395.1 913.8,393.5 913.7,394.9 914.3,396.2 914.8,397.4 915.6,398.6 915.5,400.0 915.6,398.6 916.4,397.3 916.0,395.7 917.0,394.5 917.0,393.0 917.1,391.5 916.9,390.0 917.3,388.5 917.7,387.0 917.2,385.5 917.7,384.0 918.0,382.5 917.9,381.0 917.9,379.5 918.3,378.0 918.3,376.5 918.0,375.0 918.5,373.5 918.3,375.1 918.4,376.6 918.8,378.2 918.5,379.8 918.9,381.3 919.6,382.8 918.9,384.4 919.2,386.0 919.8,387.5 920.0,389.1 919.4,390.7 919.9,392.2 920.2,393.8 919.8,395.4 920.1,396.9 920.2,395.3 920.6,393.8 920.5,392.2 920.4,390.6 920.4,389.0 921.1,387.5 921.1,385.9 920.4,384.3 921.3,382.8 921.2,381.2 920.8,379.6 921.4,378.1 921.4,376.5 921.4,374.9 921.7,373.4 921.5,371.8 921.4,370.3 922.0,368.8 921.9,367.3 921.8,365.8 922.5,364.3 921.8,362.7 922.3,361.2 922.7,359.7 922.1,358.2 922.6,356.7 923.1,355.3 922.9,353.7 923.0,352.3 923.0,350.8 923.5,349.3 923.1,347.8 923.5,346.4 923.5,344.9 923.8,343.4 923.9,344.9 924.3,346.5 924.2,348.0 924.8,349.5 924.3,351.1 924.5,352.6 925.0,354.1 925.0,355.7 925.0,357.2 924.8,358.8 924.8,360.4 925.3,361.9 925.5,363.4 926.0,362.1 925.8,360.6 926.5,359.3 926.8,357.9 927.0,356.6 926.8,355.1 926.8,356.7 927.3,358.2 927.2,359.8 927.3,361.3 927.0,362.9 927.3,364.5 927.3,366.0 927.0,367.6 927.7,369.1 927.8,370.7 927.7,372.3 927.4,373.8 927.8,375.4 927.3,377.0 927.7,378.5 927.9,377.0 928.0,375.4 928.1,373.9 927.8,372.3 928.5,370.8 928.6,369.3 928.8,367.8 928.6,366.2 929.2,364.7 929.0,363.2 929.4,361.7 929.3,360.1 929.0,358.5 929.7,357.0 930.1,355.5 929.6,353.9 929.6,352.4 929.7,350.9 930.2,349.4 930.7,347.9 930.3,346.3 930.9,344.8 931.1,343.3 931.0,341.7 931.3,343.2 930.9,344.8 931.2,346.3 931.5,347.8 931.6,349.4 931.9,350.9 931.5,352.5 931.6,354.0 932.2,355.5 932.5,357.0 932.5,358.5 932.3,360.1 932.5,361.7 932.6,363.2 932.1,364.8 932.4,366.4 933.0,367.9 932.4,369.5 932.4,371.1 932.5,372.7 933.0,374.2 932.9,375.8 932.8,377.4 933.5,378.9 932.8,380.5 933.5,382.1 933.6,383.6 933.5,385.2 933.9,386.6 933.6,388.1 933.8,389.6 934.4,391.0 934.6,392.5 934.0,394.0 934.4,395.5 934.8,396.9 934.8,395.3 935.4,393.8 935.5,392.3 935.4,390.7 936.0,389.2 936.0,387.6 935.7,386.1 936.5,384.6 936.1,383.0 936.7,381.5 936.6,379.9 936.7,378.3 936.9,376.8 937.4,378.1 937.4,379.6 937.7,381.0 938.1,382.4 938.5,383.8 938.5,385.2 938.7,386.6 939.1,388.0 939.3,389.4 939.4,390.8 939.5,392.2 940.2,393.5 940.3,395.1 940.4,396.6 940.9,398.2 941.0,399.8 940.9,401.3 940.9,402.9 941.3,404.5 941.2,406.1 941.1,407.6 941.3,409.2 941.3,410.8 941.6,412.3 941.6,413.9 941.8,415.5 942.4,417.0 942.2,418.6 942.5,417.1 942.8,415.6 942.6,414.0 943.3,412.6 943.1,411.0 943.7,409.5 943.9,408.0 943.7,406.4 944.3,405.0 944.0,403.4 944.4,401.9 944.9,400.8 946.1,400.2 946.5,399.0 947.1,400.3 946.8,401.8 946.9,403.2 947.4,404.6 947.8,406.0 948.2,407.3 948.1,408.8 948.2,410.2 948.2,408.7 948.4,407.2 948.3,405.7 948.4,404.2 948.5,402.7 948.5,401.2 948.8,399.7 949.4,398.3 949.5,396.8 949.3,395.3 949.5,393.8 949.6,392.3 949.7,390.8 949.7,389.3 949.9,390.9 949.8,392.5 950.2,394.1 950.4,395.6 950.6,397.2 950.6,398.8 950.5,400.4 951.2,402.0 950.7,403.6 951.1,405.2 951.1,406.7 951.5,408.0 951.8,409.4 952.5,410.7 952.6,412.2 952.7,413.6 952.6,412.2 953.2,410.9 953.4,409.5 953.6,408.1 954.4,406.8 954.2,405.4 954.5,404.0 954.7,405.1 955.7,405.9 956.1,406.9 956.5,408.4 956.4,409.9 956.6,411.4 956.6,412.9 957.1,414.3 956.7,415.8 956.5,417.4 957.4,418.8 957.2,420.3 958.1,421.3 959.4,421.9 959.5,423.5 959.8,425.0 959.3,426.6 959.1,428.1 959.4,429.7 959.3,431.2 959.3,432.8 959.4,434.3 959.7,435.9 959.7,437.4 960.1,439.0 959.6,440.6 959.4,442.1 959.4,443.7 959.5,445.2 959.9,446.8 959.7,448.3 960.1,449.9 959.7,451.4 960.3,453.0 960.5,454.5 960.1,456.1 960.5,457.7 960.6,459.3 960.8,460.8 960.7,462.5 960.7,464.1 961.0,465.7 960.8,467.3 961.6,468.8 961.9,470.4 961.8,472.0 961.6,473.6 962.2,475.2 962.1,476.8 962.6,478.3 962.5,479.9 962.0,481.5 962.7,483.0 962.9,484.5 962.8,486.1 962.7,487.7 962.6,489.2 962.8,490.8 962.7,492.3 963.2,493.8 963.2,495.4 963.6,496.9 963.8,498.4 964.0,499.9 963.7,501.4 964.1,502.9 964.2,504.4 964.3,506.0 964.8,507.4 964.6,509.0 965.0,510.5 964.8,512.0 964.6,510.5 965.3,509.0 964.8,507.4 965.3,505.9 965.2,504.4 965.2,502.9 965.8,501.4 965.5,499.8 966.0,498.3 965.4,496.8 965.8,495.2 965.6,493.7 966.2,492.2 965.6,490.6 965.9,489.1 966.6,487.6 966.3,486.1 966.4,487.7 966.6,489.2 966.9,490.7 966.4,492.3 966.6,493.9 967.2,495.4 967.3,496.9 967.8,498.5 967.7,500.0 968.0,501.6 967.8,503.2 968.1,504.7 967.8,506.3 968.3,507.8 968.3,509.3 968.3,510.8 968.6,512.3 969.1,513.7 969.1,515.2 969.3,516.7 969.4,518.1 969.9,519.6 969.3,521.1 969.4,522.6 969.6,524.1 970.4,525.5 970.7,527.0 970.4,528.5 970.6,530.0 970.4,531.6 970.8,533.2 970.9,534.7 971.6,536.2 971.4,537.8 971.2,536.2 972.3,534.9 972.1,533.3 972.3,531.8 972.5,530.4 972.7,528.9 972.9,527.4 972.9,525.8 973.5,524.4 973.5,522.9 973.6,521.4 973.6,519.9 974.0,518.5 974.4,517.0 974.8,515.6 974.8,514.1 975.0,512.6 974.7,511.1 975.1,509.6 974.8,508.1 975.1,506.6 975.3,505.2 975.6,503.7 976.1,504.8 976.3,506.1 977.3,507.0 977.0,505.4 977.2,503.9 977.5,502.3 977.8,500.8 978.0,499.2 977.5,497.6 977.4,496.0 978.3,494.5 977.7,492.9 978.1,491.4 978.0,489.8 978.0,488.2 978.5,486.7 978.4,485.1 978.4,483.5 978.5,482.0 979.1,480.4 979.1,478.9 978.5,477.3 979.2,475.7 978.7,474.1 979.1,472.6 979.5,474.1 979.5,475.7 979.5,477.3 979.7,478.8 980.3,480.3 979.7,482.0 980.0,483.5 980.3,485.1 980.2,486.7 980.3,488.2 980.9,489.7 981.2,491.3 981.2,492.8 981.2,494.4 982.1,495.9 981.8,497.5 982.1,495.9 981.9,494.3 982.1,492.7 981.8,491.1 981.8,489.5 982.3,487.9 982.2,486.3 982.7,484.8 982.9,483.2 982.6,481.6 983.0,480.0 982.5,478.4 982.8,476.8 983.4,475.8 984.1,474.8 984.9,474.0 985.0,472.5 984.8,471.0 985.4,469.5 985.6,468.0 986.2,466.6 985.8,465.0 985.9,463.5 986.7,462.1 986.7,460.6 986.3,459.0 986.6,457.6 987.0,456.1 986.9,454.6 987.5,453.1 987.2,451.5 987.9,450.0 987.9,448.5 988.1,447.0 988.2,445.4 988.2,443.9 988.2,442.3 988.7,440.8 988.2,439.3 988.7,437.8 988.8,436.2 988.7,434.7 989.0,433.2 988.9,431.6 989.4,430.1 989.1,428.6 989.7,427.1 989.8,425.5 989.8,424.0 989.6,425.5 990.1,426.9 990.2,428.4 990.5,429.9 990.5,431.4 990.8,432.8 990.7,434.3 991.0,435.8 991.3,437.2 992.1,438.6 992.3,440.1 992.1,441.6 992.1,443.1 992.2,444.6 993.0,445.9 992.6,447.4 993.6,448.8 993.4,450.3 993.8,451.7 993.4,453.3 994.3,454.6 994.2,456.1 994.5,457.6 994.2,459.2 994.6,460.8 994.6,462.3 995.1,463.9 995.6,465.4 995.6,466.9 995.5,468.5 995.8,470.0 995.5,471.7 996.1,473.2 996.3,474.7 996.6,476.2 996.7,477.8 997.2,479.3 997.5,480.9 997.8,482.4 997.9,484.0 997.7,485.6 998.5,487.1 998.3,488.7 999.0,490.2 999.2,491.7 999.4,493.3 999.9,491.7 999.8,490.1 999.6,488.5 999.6,486.9 1000.4,485.4 1000.0,483.8 1000.5,482.2 1000.7,480.7 1000.4,479.0 1000.5,477.5 1000.4,475.9 1001.1,474.3 1000.7,472.7 1001.3,471.2 1000.8,469.5 1001.1,468.0 1001.5,466.4 1001.4,468.0 1001.9,469.6 1002.2,471.1 1002.2,472.7 1002.1,474.3 1001.6,475.9 1002.3,477.5 1002.5,479.0 1002.5,480.6 1002.4,482.2 1002.6,483.8 1002.4,485.4 1002.6,487.0 1002.6,488.6 1002.5,490.1 1002.7,491.7 1002.9,493.3 1002.6,491.8 1002.7,490.2 1003.3,488.8 1003.2,487.2 1003.1,485.7 1003.8,484.2 1003.6,482.7 1003.6,481.2 1003.7,479.7 1004.1,478.2 1004.0,476.6 1004.1,475.1 1004.2,473.6 1004.1,472.1 1004.1,470.5 1004.3,469.0 1004.7,467.5 1004.4,466.0 1004.5,464.5 1004.2,462.9 1004.5,461.4 1005.0,459.9 1004.6,458.3 1004.6,456.8 1004.7,455.3 1005.2,453.8 1005.3,452.3 1005.5,450.7 1005.4,449.2 1005.6,447.7 1005.2,446.1 1005.6,444.6 1005.6,443.1 1005.8,441.6 1006.1,440.0 1005.8,438.5 1006.3,440.0 1005.7,441.6 1006.1,443.1 1006.7,444.5 1006.6,446.1 1006.5,447.6 1006.4,449.2 1006.7,450.7 1007.0,452.2 1007.0,453.7 1007.6,455.2 1007.2,456.7 1008.0,458.2 1007.8,459.8 1008.4,461.2 1007.8,462.8 1008.3,464.3 1008.1,462.8 1008.8,461.4 1008.8,459.9 1008.8,458.4 1008.7,456.9 1009.2,455.4 1009.2,453.9 1009.4,452.4 1009.2,450.9 1009.2,449.4 1009.7,448.0 1010.0,446.5 1009.9,445.0 1009.8,443.5 1010.5,442.2 1010.6,440.7 1010.3,439.2 1010.5,437.8 1011.1,436.4 1011.7,435.0 1011.5,433.5 1012.0,435.0 1011.4,436.5 1011.7,438.0 1011.9,439.5 1012.1,441.0 1012.2,442.5 1011.9,444.1 1012.9,445.5 1012.7,447.0 1013.1,448.5 1013.2,450.0 1013.2,451.6 1013.0,453.1 1013.1,454.6 1013.3,456.1 1013.7,457.6 1013.4,459.1 1013.3,460.6 1013.9,462.1 1014.2,463.6 1013.9,465.1 1014.0,466.6 1014.5,468.1 1015.0,469.6 1014.4,471.1 1014.9,472.6 1015.5,473.8 1016.4,474.7 1016.8,476.0 1017.3,474.5 1016.8,472.9 1017.1,471.4 1017.8,469.9 1017.7,468.4 1017.8,466.9 1017.9,465.3 1018.1,463.8 1018.2,462.3 1018.2,463.9 1018.4,465.4 1018.2,467.0 1018.6,468.5 1018.3,470.1 1018.7,471.6 1018.7,473.2 1019.0,474.7 1019.1,476.2 1018.7,477.8 1018.8,479.4 1018.7,480.9 1019.7,482.4 1019.0,484.0 1019.2,485.6 1019.5,487.1 1019.6,488.6 1019.4,490.2 1019.6,491.7 1019.9,493.2 1020.0,494.7 1020.2,496.2 1020.1,497.8 1020.6,499.3 1020.8,500.8 1021.1,502.3 1021.0,503.8 1021.6,505.3 1021.2,506.9 1021.7,508.4 1021.6,509.9 1021.9,508.3 1022.1,506.7 1021.8,505.1 1022.5,503.6 1022.1,501.9 1022.0,500.3 1022.9,498.8 1022.4,497.1 1022.6,495.6 1022.5,493.9 1023.0,492.4 1023.5,490.8 1023.2,489.2 1023.4,490.7 1023.7,492.2 1023.7,493.7 1023.7,495.2 1024.1,496.7 1024.1,498.2 1024.9,499.7 1024.4,501.2 1024.5,502.8 1025.5,504.1 1025.3,505.7 1025.9,504.6 1025.9,503.2 1026.7,502.2 1027.2,501.0 1027.5,502.5 1027.2,504.2 1027.8,505.7 1027.6,507.3 1027.8,508.8 1027.8,510.4 1028.1,512.0 1028.4,513.5 1028.9,515.0 1029.1,516.6 1029.0,518.2 1029.3,519.6 1029.2,521.1 1029.4,522.6 1030.0,524.0 1030.4,525.4 1030.1,526.9 1030.2,528.4 1030.6,529.8 1031.3,531.2 1031.1,532.7 1031.3,531.1 1031.3,529.5 1031.3,528.0 1031.1,526.4 1031.4,524.8 1031.5,523.2 1031.6,521.6 1031.3,520.0 1032.1,518.5 1031.6,516.9 1032.0,515.3 1031.8,513.7 1031.7,512.1 1031.7,510.6 1032.1,509.0 1031.8,507.4 1032.5,505.8 1032.7,504.3 1032.1,502.7 1032.4,501.1 1032.5,499.5 1032.8,501.0 1033.2,502.5 1032.8,504.1 1032.9,505.6 1033.3,507.1 1033.4,508.6 1033.5,510.1 1033.7,511.7 1033.8,513.2 1034.1,514.7 1033.8,516.2 1033.9,517.8 1034.3,519.3 1034.8,520.7 1034.6,522.3 1035.2,523.6 1035.3,525.1 1035.8,526.4 1035.9,527.8 1035.7,529.3 1036.7,530.5 1036.6,532.0 1037.1,533.5 1037.4,534.9 1037.5,536.5 1037.6,538.0 1038.1,539.5 1038.7,540.9 1038.9,539.4 1039.0,537.8 1038.8,536.2 1038.7,534.7 1039.2,533.2 1039.0,531.6 1038.7,530.0 1039.4,528.5 1039.3,527.0 1038.9,525.4 1039.3,523.8 1039.1,522.3 1039.8,520.8 1039.9,519.2 1040.0,517.7 1039.7,516.1 1039.7,514.5 1039.7,513.0 1039.5,511.4 1039.8,509.9 1040.3,508.4 1040.1,506.8 1040.1,505.2 1040.2,503.7 1040.1,505.2 1040.8,506.7 1040.9,508.2 1040.9,509.7 1041.1,511.2 1040.7,512.7 1040.8,514.2 1041.3,515.7 1041.6,517.2 1042.0,518.7 1041.8,520.2 1042.4,518.7 1041.9,517.0 1042.3,515.5 1042.4,513.9 1042.0,512.3 1042.6,510.7 1042.5,509.1 1042.8,507.5 1043.3,506.0 1043.3,504.4 1043.4,502.8 1043.5,501.2 1043.3,499.6 1043.7,498.1 1043.6,496.5 1044.1,494.9 1043.9,493.3 1044.2,491.8 1044.0,490.2 1044.0,488.7 1044.6,487.2 1044.2,485.7 1044.3,484.2 1044.3,482.6 1045.0,481.1 1045.0,479.6 1044.4,478.0 1044.6,476.5 1044.8,475.0 1045.1,473.5 1045.6,472.0 1045.2,470.4 1045.2,468.9 1045.4,467.4 1045.6,468.8 1046.1,470.1 1046.1,471.5 1046.4,472.9 1046.3,474.3 1047.0,475.6 1047.2,477.0 1047.4,478.5 1047.0,480.1 1048.0,481.6 1047.4,483.2 1047.7,484.7 1047.9,486.2 1048.2,487.7 1047.9,489.3 1047.9,490.9 1048.1,492.4 1048.4,493.9 1048.9,495.4 1048.8,497.0 1049.2,498.5 1048.9,500.1 1049.1,501.6 1049.4,500.0 1049.0,498.4 1049.6,496.9 1049.3,495.3 1049.6,493.7 1049.5,492.2 1049.8,490.6 1049.9,489.0 1049.7,487.5 1049.4,485.9 1049.3,484.3 1050.1,482.7 1049.7,481.2 1050.0,479.6 1050.0,478.0 1049.7,476.4 1050.3,474.9 1049.8,473.3 1050.5,471.7 1049.8,470.1 1050.1,468.6 1050.7,467.0 1050.5,465.4 1050.3,463.9 1050.5,462.3 1050.2,460.7 1050.6,459.2 1051.2,457.7 1051.1,456.2 1050.7,454.7 1051.1,453.1 1051.4,451.6 1051.4,450.1 1051.3,448.6 1051.6,447.0 1051.3,445.5 1051.3,444.0 1051.8,442.5 1051.8,440.9 1052.0,439.4 1052.2,437.9 1052.3,436.4 1052.0,434.8 1052.2,433.3 1052.1,432.0 1052.9,430.8 1052.6,429.4 1053.2,428.2 1053.0,426.9 1053.1,425.4 1053.7,424.1 1053.6,422.6 1054.1,421.2 1054.4,419.8 1054.6,418.4 1054.7,416.9 1054.5,415.4 1055.2,414.0 1055.7,412.6 1055.6,411.1 1055.7,409.6 1055.6,408.1 1055.7,406.6 1056.4,405.2 1056.3,403.8 1056.8,402.5 1057.0,401.1 1057.6,399.8 1058.0,398.5 1058.2,400.0 1058.5,401.4 1058.7,402.9 1058.8,404.4 1059.0,405.8 1059.5,407.2 1059.5,408.7 1059.7,410.2 1060.3,408.9 1061.3,408.0 1061.3,409.5 1061.1,411.0 1061.5,412.5 1062.1,414.0 1061.5,415.5 1062.3,417.0 1062.3,418.5 1062.4,420.0 1062.0,421.5 1062.1,423.0 1062.9,424.5 1062.6,426.0 1063.2,427.5 1062.7,429.0 1063.4,430.5 1063.1,432.0 1063.6,430.5 1063.3,428.9 1063.2,427.3 1063.4,425.8 1063.4,424.2 1063.6,422.6 1064.0,421.1 1063.7,419.5 1064.4,418.0 1064.3,416.4 1064.2,414.9 1064.4,413.3 1064.8,411.8 1064.7,410.2 1064.6,408.7 1065.0,407.2 1065.2,405.7 1065.7,404.2 1065.2,402.7 1065.5,401.2 1066.0,399.7 1065.7,398.2 1066.0,396.7 1066.4,395.2 1066.4,393.7 1067.2,392.4 1067.0,390.9 1067.4,389.5 1067.7,388.1 1067.6,386.6 1068.1,385.2 1068.8,386.5 1069.0,387.9 1069.0,389.3 1068.8,390.8 1069.2,392.2 1069.7,393.5 1070.3,394.7 1071.1,395.7 1071.4,397.0 1071.9,398.5 1072.0,400.0 1071.5,401.6 1071.8,403.1 1072.1,404.6 1072.1,406.2 1072.5,407.7 1072.2,409.3 1072.2,410.8 1072.4,412.3 1072.8,413.8 1073.2,415.4 1073.1,416.9 1073.8,417.8 1074.1,419.0 1074.6,420.0 1074.8,418.7 1075.2,417.5 1075.7,416.2 1075.7,414.9 1076.1,413.6 1076.2,415.0 1076.4,416.5 1076.2,417.9 1076.5,419.3 1076.9,420.7 1077.5,422.1 1077.3,423.6 1077.5,425.1 1077.8,426.6 1078.1,428.0 1077.9,429.6 1077.8,431.1 1077.7,432.6 1078.2,434.0 1078.3,435.5 1078.5,437.0 1078.9,435.5 1078.9,434.0 1079.3,432.5 1079.1,431.0 1079.8,429.5 1079.8,428.0 1080.2,426.5 1080.5,424.9 1080.7,423.3 1081.2,421.8 1080.7,420.1 1081.4,418.6 1081.2,420.1 1081.3,421.7 1081.6,423.2 1081.3,424.8 1081.6,426.3 1081.9,427.8 1081.7,429.4 1081.5,430.9 1081.8,432.4 1081.9,434.0 1082.0,435.5 1082.1,437.0 1082.4,438.6 1082.5,440.1 1082.2,441.6 1082.0,443.2 1082.2,444.7 1082.3,446.3 1082.3,447.8 1082.1,446.2 1083.1,444.8 1082.6,443.1 1082.9,441.6 1083.6,440.1 1083.2,438.5 1083.6,437.0 1083.3,438.6 1083.6,440.1 1084.1,441.6 1083.8,443.2 1084.4,444.7 1083.8,446.3 1084.1,447.8 1084.2,449.4 1084.1,450.9 1084.6,452.5 1084.9,454.0 1084.5,455.6 1084.8,457.1 1084.9,458.7 1084.7,460.2 1085.3,461.7 1085.4,463.3 1085.1,464.9 1085.3,466.4 1085.3,468.0 1085.5,469.5 1086.0,471.0 1085.8,472.6 1085.5,474.2 1085.7,475.8 1086.3,477.3 1086.0,478.9 1086.2,480.4 1086.0,482.0 1086.6,483.5 1086.5,485.1 1086.6,486.6 1086.5,488.2 1086.8,489.7 1087.0,491.3 1086.8,489.8 1087.0,488.2 1087.3,486.7 1087.0,485.2 1087.0,483.6 1087.8,482.1 1087.7,480.6 1087.2,479.0 1087.4,477.5 1087.3,476.0 1088.1,474.5 1087.5,472.9 1087.4,471.4 1088.2,469.9 1088.0,468.3 1087.5,466.8 1087.8,465.3 1087.8,463.7 1088.2,462.2 1088.3,460.7 1088.3,459.2 1088.0,457.6 1088.4,456.1 1088.6,454.6 1088.3,453.1 1088.8,451.6 1089.1,450.1 1089.1,448.6 1089.1,447.1 1088.8,445.5 1089.3,444.0 1089.0,442.5 1089.8,441.0 1089.5,439.5 1091.0,439.0 1090.8,440.6 1091.6,442.1 1091.4,443.8 1091.2,445.4 1092.0,446.9 1092.3,448.5 1091.9,450.1 1092.2,451.7 1092.5,450.1 1092.8,448.6 1092.4,446.9 1092.8,445.4 1092.8,443.8 1092.9,442.2 1092.9,440.6 1093.7,439.1 1093.6,437.5 1093.3,435.9 1093.7,434.3 1093.8,432.7 1093.7,431.1 1094.1,429.6 1094.3,428.0 1094.1,426.5 1094.2,425.0 1095.0,423.6 1095.1,422.1 1095.1,420.6 1095.2,419.1 1094.9,417.6 1095.0,416.1 1095.5,414.7 1095.5,413.2 1095.8,411.7 1095.6,410.2 1096.0,408.8 1096.0,407.3 1096.3,405.8 1096.6,404.4 1096.5,402.9 1096.5,401.4 1096.9,400.0 1097.1,398.5 1096.8,400.1 1097.2,401.6 1097.6,403.1 1097.4,404.7 1097.3,406.2 1097.6,407.7 1097.5,409.3 1098.3,410.8 1097.8,412.4 1097.7,413.9 1097.9,415.5 1098.1,417.0 1098.8,418.5 1098.4,420.1 1098.6,421.6 1099.1,423.1 1098.4,424.7 1099.4,426.2 1099.2,427.7 1098.9,429.3 1099.6,430.8 1099.7,432.3 1099.9,433.9 1099.4,435.4 1099.7,437.0 1100.3,438.5 1100.0,440.0 1100.1,441.6 1100.3,443.1 1100.3,444.7 1100.2,446.3 1100.5,447.8 1100.9,449.4 1100.9,450.9 1101.1,452.5 1101.5,454.0 1101.0,455.6 1101.8,457.2 1102.0,458.7 1101.8,460.3 1101.8,458.7 1101.8,457.2 1102.6,455.7 1102.4,454.2 1102.4,452.6 1102.6,451.1 1103.2,449.6 1103.0,448.0 1103.3,449.5 1103.3,451.0 1103.5,452.5 1103.4,454.1 1104.0,455.5 1104.3,457.0 1103.8,458.6 1104.3,460.1 1104.2,461.6 1104.9,463.1 1104.6,464.6 1105.4,466.0 1105.9,467.5 1105.9,469.2 1106.6,470.6 1107.2,472.1 1107.3,470.5 1107.2,468.9 1107.1,467.3 1107.7,465.8 1107.4,464.2 1107.8,462.6 1108.0,461.0 1108.4,459.5 1107.7,457.8 1107.8,456.3 1108.4,454.7 1108.0,453.1 1108.7,451.5 1108.5,449.9 1109.1,448.4 1109.1,446.8 1108.9,445.2 1109.3,443.8 1109.7,442.4 1109.5,440.9 1109.5,439.4 1110.1,438.0 1110.4,436.6 1110.7,438.1 1110.7,439.6 1111.2,441.0 1110.7,442.6 1110.8,444.1 1111.2,445.6 1111.5,447.1 1111.7,448.5 1112.1,450.0 1112.3,451.5 1112.3,453.0 1112.7,454.5 1112.6,456.0 1113.1,457.5 1112.6,459.1 1113.0,460.6 1113.1,462.2 1113.3,463.7 1113.5,465.3 1113.8,466.8 1113.7,468.4 1114.1,469.9 1114.6,468.4 1113.9,466.8 1114.3,465.3 1114.5,463.8 1114.6,462.2 1114.7,460.7 1115.0,459.2 1115.0,457.6 1115.3,456.1 1115.2,454.6 1114.9,453.0 1115.7,451.5 1115.6,450.0 1115.8,448.5 1115.4,446.9 1116.1,445.4 1115.5,443.8 1115.6,442.3 1115.6,440.7 1116.1,439.2 1116.2,437.7 1116.4,439.2 1116.1,440.8 1116.9,442.2 1116.3,443.8 1117.1,445.3 1117.0,446.8 1117.0,448.4 1116.8,449.9 1117.2,451.4 1117.6,452.9 1117.4,454.5 1117.5,456.0 1118.0,457.5 1117.7,459.0 1117.6,460.5 1118.5,462.0 1118.3,463.5 1118.4,465.0 1118.9,466.5 1118.8,468.0 1118.5,469.5 1119.0,471.0 1119.4,472.5 1119.2,474.0 1119.5,475.5 1119.5,477.1 1119.5,478.6 1119.9,480.1 1119.8,481.6 1119.8,483.1 1120.1,484.6 1120.5,486.1 1120.6,484.6 1120.5,483.0 1121.1,481.6 1120.7,480.0 1120.8,478.5 1121.1,477.0 1121.0,475.4 1121.5,474.0 1121.6,472.4 1121.9,470.9 1121.7,469.4 1122.4,467.9 1122.0,466.4 1121.9,464.8 1122.7,463.4 1122.6,461.8 1122.7,460.3 1122.7,461.9 1123.4,463.4 1123.5,465.0 1123.7,466.6 1123.7,468.1 1124.0,469.7 1123.7,471.3 1124.4,472.8 1124.3,474.4 1124.5,476.0 1124.5,477.5 1125.5,478.7 1125.5,480.1 1125.8,481.6 1126.6,482.8 1126.9,481.2 1126.9,479.7 1126.5,478.1 1127.0,476.5 1126.5,474.9 1126.7,473.3 1127.2,471.8 1127.0,470.2 1126.7,468.6 1126.8,467.0 1127.4,465.5 1127.4,463.9 1127.6,462.3 1127.4,460.7 1127.7,459.2 1127.9,457.6 1127.6,456.0 1127.4,454.4 1127.6,452.9 1128.2,451.4 1128.2,449.8 1128.1,448.2 1128.4,446.7 1128.6,445.1 1128.3,443.6 1128.2,442.0 1128.4,440.4 1128.3,438.9 1128.4,437.3 1128.7,435.8 1128.4,434.2 1128.5,432.6 1128.8,431.1 1128.7,429.5 1129.1,428.0 1129.4,426.5 1129.4,424.9 1130.1,423.4 1129.7,421.8 1130.8,420.4 1130.5,418.8 1130.9,417.3 1130.9,415.8 1131.5,414.3 1131.8,412.8 1131.5,411.3 1131.9,409.8 1131.5,408.3 1131.9,406.8 1132.2,405.3 1132.6,403.8 1132.4,402.3 1132.6,400.8 1132.8,399.3 1133.0,397.8 1133.1,396.2 1132.8,394.6 1133.3,393.1 1133.3,391.5 1133.2,389.9 1133.7,388.3 1133.3,386.7 1133.5,385.1 1134.3,383.6 1133.9,382.0 1134.1,380.4 1134.0,381.9 1134.0,383.5 1134.3,385.0 1134.5,386.5 1135.3,387.9 1134.8,389.5 1135.5,391.0 1135.0,392.5 1135.6,394.0 1135.3,392.5 1136.1,391.1 1136.1,389.6 1136.1,388.1 1136.3,386.6 1136.8,385.2 1136.4,383.7 1137.2,382.3 1136.9,380.7 1137.3,379.3 1137.6,380.7 1137.4,382.1 1137.6,383.5 1138.0,384.9 1138.2,386.3 1138.9,387.6 1139.0,389.0 1139.0,390.6 1138.9,392.2 1139.5,393.8 1139.1,395.4 1139.7,396.9 1139.3,398.6 1139.2,400.2 1139.2,401.7 1139.4,403.3 1140.1,404.9 1139.9,406.5 1139.9,408.1 1140.3,409.6 1140.3,411.2 1140.1,412.7 1140.7,414.3 1140.3,415.8 1140.6,417.4 1140.4,419.0 1140.7,420.5 1140.5,422.1 1140.5,423.6 1140.8,425.2 1140.9,426.7 1141.6,428.3 1141.6,429.8 1141.8,431.4 1141.4,432.9 1141.6,434.5 1141.9,436.1 1141.9,437.6 1141.9,439.2 1142.2,440.7 1142.2,442.3 1142.3,443.9 1141.8,445.5 1142.5,447.0 1142.6,448.6 1142.0,450.2 1142.8,451.7 1142.1,453.3 1142.7,454.8 1142.6,456.4 1142.7,458.0 1142.5,459.5 1142.9,461.1 1143.4,462.6 1143.1,464.2 1143.3,465.8 1143.2,467.3 1143.3,468.9 1143.5,467.3 1144.0,465.8 1143.7,464.2 1143.7,462.6 1144.0,461.1 1144.0,459.5 1143.9,457.9 1144.0,456.4 1144.7,454.8 1144.4,453.2 1144.8,451.7 1145.2,453.2 1145.3,454.7 1145.3,456.2 1145.0,457.7 1145.8,459.2 1145.6,460.7 1145.7,462.2 1145.7,463.7 1146.0,465.2 1146.3,466.7 1146.8,465.2 1146.5,463.6 1146.3,462.0 1146.8,460.5 1146.4,458.9 1147.4,457.4 1146.9,455.8 1147.2,454.2 1147.5,452.7 1147.1,451.1 1147.5,449.5 1147.7,448.0 1147.7,446.5 1148.3,445.0 1147.6,443.4 1148.3,441.9 1148.3,440.4 1148.4,438.9 1148.6,437.4 1148.4,435.8 1148.9,434.4 1148.6,432.8 1148.5,431.3 1148.4,429.8 1148.5,428.2 1148.9,426.7 1149.2,425.2 1149.1,423.7 1148.8,422.2 1148.9,420.7 1149.6,419.3 1149.1,417.8 1149.1,416.3 1149.7,414.9 1150.2,413.4 1149.9,411.9 1150.3,410.5 1150.0,409.0 1150.4,410.6 1150.1,412.2 1150.4,413.8 1150.7,415.3 1150.6,416.9 1150.7,418.5 1151.3,420.1 1151.0,421.7 1151.0,423.3 1151.8,424.8 1152.0,426.4 1151.7,428.0 1152.3,426.5 1152.2,425.0 1152.2,423.4 1152.0,421.8 1152.8,420.4 1153.1,418.9 1153.0,417.3 1153.3,418.7 1153.3,420.1 1153.4,421.6 1154.2,422.9 1154.0,424.4 1154.5,425.7 1154.3,427.2 1154.8,428.6 1154.8,430.0 1155.5,431.4 1155.4,432.9 1156.0,434.3 1156.0,435.9 1156.4,437.3 1156.7,438.8 1157.0,440.3 1158.0,441.5 1158.4,443.0 1158.8,441.5 1158.6,440.0 1159.0,438.5 1159.0,437.0 1158.6,435.5 1158.8,434.0 1159.0,432.5 1159.1,431.0 1159.2,429.5 1159.6,428.0 1159.7,426.5 1159.2,425.0 1160.1,423.5 1160.0,422.0 1159.9,420.5 1159.9,422.0 1159.8,423.5 1160.6,425.0 1160.3,426.5 1160.2,428.0 1160.1,429.6 1160.8,431.0 1160.3,432.6 1160.7,434.1 1160.5,435.6 1161.0,437.1 1160.7,438.6 1161.1,440.1 1161.3,441.6 1161.4,443.1 1161.2,444.7 1161.5,446.2 1161.7,447.7 1161.9,449.2 1162.0,450.8 1162.3,452.3 1162.3,453.8 1162.2,455.4 1162.9,456.9 1162.3,458.5 1162.5,460.0 1163.1,461.5 1162.8,463.1 1163.1,464.6 1163.3,463.1 1163.4,461.7 1163.0,460.2 1164.0,458.8 1163.4,457.3 1164.1,455.9 1164.3,454.4 1164.2,452.9 1164.0,451.5 1164.2,450.0 1164.7,451.6 1164.7,453.2 1164.1,454.8 1164.1,456.4 1164.1,458.0 1164.3,459.5 1164.8,461.1 1164.3,462.7 1164.6,464.3 1164.6,465.9 1165.2,467.5 1164.5,469.1 1165.1,470.7 1165.0,472.3 1164.8,473.9 1165.2,475.4 1165.0,477.0 1164.8,478.6 1164.9,480.2 1165.3,481.8 1165.9,483.3 1165.4,484.8 1165.3,486.4 1165.5,487.9 1165.9,489.3 1166.4,490.8 1166.7,492.3 1166.3,493.9 1166.3,495.4 1166.6,496.9 1167.3,498.3 1167.3,499.9 1166.8,501.4 1167.7,502.9 1167.4,504.4 1167.4,502.8 1167.5,501.2 1167.7,499.7 1168.3,498.1 1168.4,496.5 1168.1,494.9 1167.9,493.3 1168.2,491.8 1168.2,490.2 1168.6,488.6 1169.1,487.1 1168.9,485.5 1169.1,483.9 1168.9,482.3 1169.1,480.7 1169.1,479.2 1169.8,477.7 1169.7,476.1 1170.3,474.6 1170.2,473.0 1170.2,471.4 1170.4,469.8 1170.0,468.2 1170.6,466.7 1170.6,465.2 1170.8,463.7 1170.7,462.2 1171.7,460.8 1171.4,459.3 1171.5,457.8 1171.9,456.3 1172.2,454.9 1172.1,453.3 1172.5,451.9 1172.7,450.4 1172.3,448.8 1172.8,447.4 1172.7,448.9 1172.8,450.4 1172.9,452.0 1173.6,453.4 1173.6,454.9 1173.7,456.5 1173.6,458.0 1173.6,459.5 1174.0,461.0 1174.6,462.6 1174.7,464.1 1174.6,465.8 1174.2,467.4 1174.5,469.0 1175.1,470.5 1175.5,472.1 1175.4,473.7 1175.4,475.3 1175.6,473.8 1175.6,472.2 1176.2,470.7 1176.4,469.2 1176.3,467.6 1177.3,466.2 1177.1,464.6 1177.0,463.1 1177.3,461.6 1177.4,460.1 1177.3,458.5 1177.9,457.0 1177.6,455.5 1177.4,454.0 1177.7,452.5 1177.6,450.9 1177.6,449.4 1177.7,447.9 1178.2,446.4 1177.6,444.9 1178.0,443.4 1177.9,441.8 1178.5,440.3 1178.2,438.8 1177.9,437.3 1178.3,435.8 1178.2,434.2 1178.3,432.7 1178.8,431.2 1178.7,429.7 1178.2,428.2 1179.1,426.7 1179.1,425.2 1178.4,423.6 1178.5,422.1 1179.0,420.6 1179.4,419.1 1178.7,417.5 1178.7,416.0 1179.0,414.5 1179.2,413.0 1179.0,411.5 1179.2,410.0 1179.3,408.5 1179.5,407.0 1179.2,405.5 1179.5,404.0 1180.0,402.5 1179.5,401.0 1180.0,399.5 1179.7,398.0 1180.0,396.5 1179.5,395.0 1180.0,393.5 1180.2,394.7 1180.7,395.8 1181.5,396.8 1181.8,398.0 1182.2,396.5 1181.9,394.9 1182.7,393.4 1182.2,391.8 1182.9,390.3 1182.4,388.7 1183.2,387.2 1182.8,385.6 1183.5,384.1 1183.5,382.5 1183.2,381.0 1183.9,379.6 1183.9,378.1 1184.1,376.6 1184.3,375.2 1184.1,373.7 1184.7,372.3 1184.6,370.8 1184.4,369.3 1185.4,367.9 1185.1,366.4 1184.8,368.0 1185.7,369.5 1185.4,371.0 1185.4,372.6 1185.9,374.1 1185.6,375.7 1186.1,377.2 1186.2,378.7 1186.5,380.3 1186.0,381.8 1185.8,383.4 1186.5,384.9 1186.6,386.5 1186.7,388.0 1187.0,389.5 1186.8,391.1 1187.0,392.6 1186.8,394.1 1186.9,395.6 1187.3,397.1 1187.3,398.6 1187.0,400.1 1187.7,401.5 1187.1,403.1 1187.3,404.5 1187.6,406.0 1187.3,407.5 1187.8,409.0 1188.2,407.4 1187.6,405.8 1188.0,404.2 1187.9,402.6 1188.3,401.0 1187.7,399.4 1188.1,397.8 1187.7,396.2 1188.4,394.6 1188.0,393.0 1188.3,391.4 1188.5,389.9 1188.6,388.3 1188.3,386.7 1188.3,385.1 1188.8,383.5 1188.9,381.9 1188.5,380.3 1189.0,378.7 1189.0,377.1 1188.5,375.5 1189.0,373.9 1188.3,372.3 1188.8,370.7 1188.5,369.1 1188.9,367.5 1189.2,366.0 1189.6,364.5 1189.8,362.9 1189.9,361.3 1189.7,359.7 1190.1,358.2 1190.6,356.7 1191.2,355.3 1191.1,353.7 1191.1,352.2 1190.8,350.7 1191.5,349.3 1191.9,347.8 1191.5,346.3 1192.0,344.8 1192.1,343.3 1192.4,341.9 1192.5,340.4 1192.9,338.9 1192.8,337.4 1192.5,338.9 1193.0,340.3 1193.1,341.7 1193.5,343.1 1193.8,344.5 1193.6,346.0 1194.2,347.4 1194.4,348.8 1194.3,350.3 1194.9,348.9 1195.5,347.5 1195.6,346.0 1196.0,347.6 1195.9,349.1 1196.2,350.7 1196.1,352.2 1195.5,353.8 1196.4,355.4 1195.8,357.0 1195.9,358.5 1196.4,360.1 1196.4,361.6 1196.7,363.2 1196.3,364.8 1196.7,366.3 1196.9,367.9 1196.6,369.5 1197.0,371.0 1197.2,372.6 1196.8,374.1 1197.3,375.7 1196.5,377.3 1197.0,378.8 1197.1,380.4 1197.2,378.8 1197.2,377.3 1197.2,375.7 1197.5,374.1 1197.1,372.6 1197.7,371.0 1197.9,369.5 1197.6,367.9 1197.9,366.3 1198.0,364.8 1198.0,363.2 1197.7,361.6 1198.2,360.1 1197.9,358.5 1198.4,357.0 1198.0,355.4 1198.3,353.8 1198.3,352.3 1198.5,350.7 1198.1,349.1 1198.1,347.5 1198.6,346.0 1198.5,347.4 1199.2,348.7 1198.8,350.2 1199.3,351.5 1199.8,352.8 1199.8,354.2 1200.1,355.6 1200.6,354.1 1201.2,352.7 1201.4,351.1 1201.8,349.6 1201.8,348.0 1202.4,346.6 1202.4,345.2 1202.4,343.7 1202.3,342.3 1203.1,340.9 1202.7,339.4 1203.0,338.0 1203.4,336.6 1203.5,335.2 1203.9,336.7 1204.0,338.2 1203.6,339.7 1203.9,341.2 1203.7,342.7 1203.8,344.2 1203.7,345.7 1204.3,347.1 1204.6,348.6 1204.5,350.1 1204.0,351.6 1204.8,353.1 1204.6,354.6 1204.9,353.1 1204.7,351.6 1205.1,350.1 1205.3,348.5 1205.0,347.0 1205.2,345.5 1205.1,344.0 1204.9,342.4 1205.0,340.9 1205.3,339.4 1205.3,337.9 1206.1,336.4 1205.3,334.8 1206.1,333.4 1205.5,331.8 1206.4,330.3 1206.1,328.8 1206.4,327.3 1206.3,325.8 1206.7,324.3 1207.0,322.8 1207.2,321.3 1206.8,319.7 1207.7,318.3 1207.7,316.7 1208.0,315.3 1207.8,313.7 1207.8,312.5 1208.9,311.7 1208.9,310.5 1208.7,312.0 1209.3,313.5 1208.8,315.1 1208.9,316.6 1209.2,318.1 1209.1,319.7 1209.5,321.2 1209.7,322.7 1209.5,324.2 1209.2,325.8 1209.8,327.3 1209.8,328.8 1209.7,330.3 1209.6,331.9 1209.4,333.4 1209.7,334.9 1210.1,336.4 1210.1,338.0 1210.0,339.5 1210.2,338.0 1210.5,336.5 1210.6,334.9 1210.4,333.4 1210.2,331.8 1210.7,330.3 1210.2,328.8 1210.9,327.2 1210.4,325.7 1210.4,324.2 1210.4,322.6 1210.8,321.1 1210.8,319.6 1211.2,318.0 1211.4,316.5 1211.1,315.0 1211.6,313.5 1211.7,311.9 1211.2,310.4 1211.1,308.8 1211.5,307.3 1211.4,305.8 1211.9,304.5 1212.3,303.1 1213.2,301.9 1212.9,300.3 1213.1,298.9 1213.7,297.6 1213.4,299.1 1213.8,300.5 1213.8,302.0 1213.8,303.5 1214.2,304.9 1214.0,306.4 1214.2,307.9 1214.8,309.3 1215.0,310.7 1214.4,312.3 1214.7,313.7 1214.4,312.1 1215.3,310.7 1215.1,309.1 1215.7,307.6 1215.1,306.0 1215.2,304.5 1215.8,303.0 1215.6,304.6 1216.3,306.1 1216.0,307.7 1216.6,309.2 1216.4,310.8 1216.9,312.4 1216.7,313.9 1216.7,315.5 1217.0,317.1 1216.8,318.7 1217.3,320.2 1217.7,321.7 1217.6,323.3 1217.7,324.8 1217.7,326.4 1218.1,327.9 1218.8,329.3 1218.6,330.9 1218.9,329.7 1218.9,328.3 1219.5,327.2 1220.0,326.0 1219.8,327.5 1220.5,328.8 1220.7,330.3 1220.4,331.8 1220.8,333.2 1221.5,334.5 1221.0,336.0 1221.6,337.4 1221.7,339.0 1221.8,340.5 1222.0,342.0 1222.1,343.6 1223.1,345.0 1223.4,346.5 1223.3,348.1 1223.9,349.5 1223.6,351.0 1224.2,352.4 1223.6,354.0 1224.3,355.4 1223.9,356.9 1224.4,358.3 1224.4,359.8 1224.9,361.2 1225.0,362.7 1224.8,364.2 1224.4,362.6 1225.0,361.1 1224.6,359.6 1224.7,358.0 1225.0,356.5 1225.6,355.0 1225.3,353.4 1225.4,351.9 1225.2,350.3 1225.0,348.7 1225.1,347.2 1225.7,345.7 1226.1,344.2 1225.9,342.6 1225.6,341.0 1225.9,339.5 1225.9,338.0 1226.5,336.5 1225.9,334.9 1226.6,333.4 1226.2,331.9 1226.6,330.4 1226.4,328.9 1226.1,327.3 1226.3,325.8 1226.9,324.3 1226.9,322.8 1226.9,321.3 1227.3,319.8 1227.3,318.3 1227.0,316.7 1227.5,315.2 1227.2,313.7 1227.4,312.2 1227.7,310.7 1227.5,309.2 1228.3,307.7 1228.1,306.2 1228.1,304.6 1228.8,303.2 1228.6,301.6 1229.6,300.3 1229.4,298.7 1229.1,300.2 1229.4,301.7 1230.1,303.1 1229.9,304.6 1230.1,306.1 1229.7,307.6 1230.0,309.1 1230.5,310.6 1230.1,312.1 1230.8,313.5 1230.8,315.0 1231.2,316.5 1230.9,318.0 1230.8,316.5 1231.4,315.2 1231.0,313.7 1231.3,312.3 1232.0,310.9 1231.5,309.4 1232.0,308.0 1231.7,309.6 1232.5,311.1 1232.1,312.7 1232.5,314.2 1232.5,315.8 1232.8,317.3 1232.7,318.9 1232.8,320.5 1233.0,322.0 1233.0,323.6 1233.4,325.1 1233.1,326.7 1233.5,328.2 1233.4,329.8 1233.4,328.3 1233.4,326.8 1233.3,325.3 1233.5,323.8 1233.9,322.3 1233.4,320.8 1233.6,319.3 1234.4,317.8 1234.0,316.3 1233.7,314.8 1234.4,313.3 1234.4,311.8 1234.4,310.3 1234.0,308.8 1234.5,307.3 1235.3,306.1 1234.8,304.6 1235.7,303.4 1235.8,302.1 1236.2,300.8 1236.0,302.2 1236.4,303.6 1236.6,305.0 1236.5,306.4 1237.2,307.8 1236.7,309.2 1236.7,310.6 1237.2,312.0 1237.2,310.5 1237.3,309.0 1237.4,307.5 1237.4,306.0 1237.7,304.5 1237.7,303.0 1237.9,301.5 1237.9,300.0 1237.5,298.4 1238.2,296.9 1238.1,295.4 1237.8,293.9 1238.6,292.4 1238.0,290.9 1238.5,289.4 1238.4,287.9 1238.8,289.3 1238.7,290.8 1239.0,292.2 1239.8,293.6 1239.6,295.1 1239.9,296.5 1239.8,298.1 1240.1,299.7 1239.7,301.3 1240.6,302.8 1240.1,304.4 1240.7,306.0 1240.4,307.6 1240.8,309.1 1240.2,310.7 1240.8,312.3 1240.9,313.9 1241.1,315.4 1240.8,317.0 1241.2,318.6 1241.0,320.2 1240.9,321.8 1241.1,323.3 1241.5,324.9 1241.5,326.4 1241.6,328.0 1241.7,329.6 1241.2,331.2 1241.4,332.7 1241.4,334.3 1241.5,335.8 1241.6,337.4 1242.0,335.9 1242.0,334.5 1242.3,333.0 1242.2,331.5 1242.3,330.1 1242.3,328.6 1242.0,327.1 1242.5,325.6 1242.3,324.1 1242.5,322.7 1242.7,321.2" fill="none" stroke="#5f91eb" stroke-width="2.40" stroke-linejoin="round" stroke-linecap="butt"/>
<rect x="158.10" y="104.40" width="1136.90" height="472.80" fill="none" stroke="#262626" stroke-width="1.50"/>
<path d="M203.10 577.20v-6.30M203.10 104.40v6.30M381.22 577.20v-6.30M381.22 104.40v6.30M559.33 577.20v-6.30M559.33 104.40v6.30M731.70 577.20v-6.30M731.70 104.40v6.30M909.82 577.20v-6.30M909.82 104.40v6.30M1081.38 577.20v-6.30M1081.38 104.40v6.30M1260.30 577.20v-6.30M1260.30 104.40v6.30M158.10 553.90h6.30M158.10 480.13h6.30M158.10 406.37h6.30M158.10 332.60h6.30M158.10 258.83h6.30M158.10 185.07h6.30M158.10 111.30h6.30M1295.00 519.10h-6.30M1295.00 459.53h-6.30M1295.00 399.97h-6.30M1295.00 340.40h-6.30M1295.00 280.83h-6.30M1295.00 221.27h-6.30M1295.00 161.70h-6.30" stroke="#262626" stroke-width="1.30" fill="none"/>
<rect x="11.9" y="9.6" width="145.6" height="60.3" rx="3.2" ry="3.2" fill="#fff" stroke="#d9d9d9" stroke-width="1.4"/>
<path d="M18.3 24.7H55.0" stroke="#050505" stroke-width="2.3"/>
<path d="M18.1 51.9H55.4" stroke="#5f91eb" stroke-width="1.9"/>
</svg>
<div class="t" style="left:67.94px;top:14.93px;font-size:17.64px;line-height:21px;letter-spacing:0.143px;color:#1a1a1a;">BTC Price</div>
<div class="t" style="left:69.12px;top:41.57px;font-size:17.72px;line-height:21px;letter-spacing:0.000px;color:#1a1a1a;transform:scaleX(0.9361);transform-origin:0.00px 0;">RPN</div>
<div class="t" style="left:573.86px;top:72.55px;font-size:20.61px;line-height:25px;letter-spacing:1.287px;color:#1a1a1a;">BTC Derivative Risk Volatility</div>
<div class="t" style="left:705.78px;top:602.95px;font-size:18.15px;line-height:22px;letter-spacing:0.892px;color:#1a1a1a;">Time</div>
<div class="t" style="left:165.15px;top:580.18px;font-size:18.60px;line-height:22px;letter-spacing:0.534px;color:#1a1a1a;">2024-07</div>
<div class="t" style="left:343.91px;top:580.09px;font-size:18.60px;line-height:22px;letter-spacing:0.465px;color:#1a1a1a;">2024-08</div>
<div class="t" style="left:521.80px;top:580.18px;font-size:18.60px;line-height:22px;letter-spacing:0.534px;color:#1a1a1a;">2024-09</div>
<div class="t" style="left:693.97px;top:580.27px;font-size:18.60px;line-height:22px;letter-spacing:0.454px;color:#1a1a1a;">2024-10</div>
<div class="t" style="left:872.26px;top:580.18px;font-size:18.60px;line-height:22px;letter-spacing:0.764px;color:#1a1a1a;">2024-11</div>
<div class="t" style="left:1044.39px;top:580.18px;font-size:18.60px;line-height:22px;letter-spacing:0.534px;color:#1a1a1a;">2024-12</div>
<div class="t" style="left:1222.71px;top:580.18px;font-size:18.60px;line-height:22px;letter-spacing:0.534px;color:#1a1a1a;">2025-01</div>
<div class="t" style="left:95.74px;top:541.76px;font-size:18.60px;line-height:22px;letter-spacing:0.794px;color:#1a1a1a;">50000</div>
<div class="t" style="left:95.60px;top:468.08px;font-size:18.60px;line-height:22px;letter-spacing:0.780px;color:#1a1a1a;">60000</div>
<div class="t" style="left:96.05px;top:394.04px;font-size:18.60px;line-height:22px;letter-spacing:0.798px;color:#1a1a1a;">70000</div>
<div class="t" style="left:95.84px;top:320.55px;font-size:18.60px;line-height:22px;letter-spacing:0.769px;color:#1a1a1a;">80000</div>
<div class="t" style="left:96.08px;top:247.29px;font-size:18.60px;line-height:22px;letter-spacing:0.796px;color:#1a1a1a;">90000</div>
<div class="t" style="left:87.09px;top:173.07px;font-size:18.60px;line-height:22px;letter-spacing:0.324px;color:#1a1a1a;">100000</div>
<div class="t" style="left:87.27px;top:99.34px;font-size:18.60px;line-height:22px;letter-spacing:0.598px;color:#1a1a1a;">110000</div>
<div class="t" style="left:1300.94px;top:507.24px;font-size:18.60px;line-height:22px;letter-spacing:0.279px;color:#1a1a1a;">0.35</div>
<div class="t" style="left:1301.00px;top:448.09px;font-size:18.60px;line-height:22px;letter-spacing:0.205px;color:#1a1a1a;">0.40</div>
<div class="t" style="left:1301.32px;top:388.10px;font-size:18.60px;line-height:22px;letter-spacing:0.300px;color:#1a1a1a;">0.45</div>
<div class="t" style="left:1301.32px;top:328.90px;font-size:18.60px;line-height:22px;letter-spacing:0.225px;color:#1a1a1a;">0.50</div>
<div class="t" style="left:1300.94px;top:269.03px;font-size:18.60px;line-height:22px;letter-spacing:0.279px;color:#1a1a1a;">0.55</div>
<div class="t" style="left:1301.32px;top:209.04px;font-size:18.60px;line-height:22px;letter-spacing:0.225px;color:#1a1a1a;">0.60</div>
<div class="t" style="left:1301.32px;top:150.02px;font-size:18.60px;line-height:22px;letter-spacing:0.300px;color:#1a1a1a;">0.65</div>
<div style="position:absolute;left:71.68px;top:381.10px;width:0;height:0;transform:rotate(-90deg);transform-origin:0 0;"><div class="t" style="left:-0.00px;top:-15.91px;font-size:17.07px;line-height:20px;letter-spacing:0.349px;color:#1a1a1a;">BTC Price</div></div>
<div style="position:absolute;left:1361.72px;top:377.30px;width:0;height:0;transform:rotate(-90deg);transform-origin:0 0;"><div class="t" style="left:-0.00px;top:-17.29px;font-size:18.15px;line-height:22px;letter-spacing:0.000px;color:#1a1a1a;transform:scaleX(0.9212);transform-origin:0.00px 0;">BTC RPN</div></div>
</body></html>
